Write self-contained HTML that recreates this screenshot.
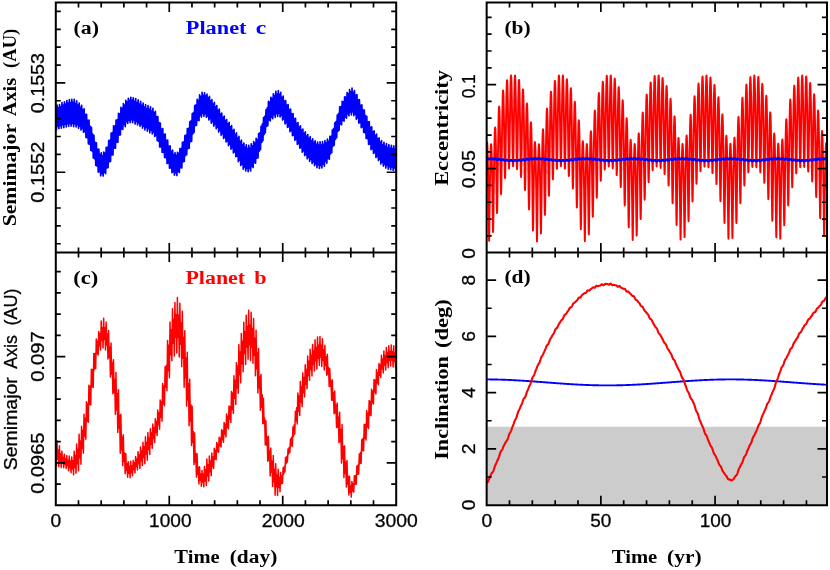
<!DOCTYPE html>
<html><head><meta charset="utf-8"><title>Orbital evolution</title>
<style>html,body{margin:0;padding:0;background:#fff;}svg{display:block;}</style>
</head><body>
<svg width="830" height="570" viewBox="0 0 830 570">
<rect width="830" height="570" fill="#fff"/>
<rect x="486.65" y="426.75" width="340.35" height="78.4" fill="#cccccc"/>
<defs>
<clipPath id="ca"><rect x="55.8" y="2.6" width="340.4" height="250"/></clipPath>
<clipPath id="cc"><rect x="55.8" y="252.6" width="340.4" height="252.55"/></clipPath>
<clipPath id="cb"><rect x="486.65" y="2.6" width="340.35" height="250"/></clipPath>
<clipPath id="cd"><rect x="486.65" y="252.6" width="340.35" height="252.55"/></clipPath>
</defs>
<path clip-path="url(#ca)" d="M54.6,106.02 L55.21,126.89 L55.83,108.98 L56.44,129.44 L57.06,105.13 L57.67,126.47 L58.29,107.93 L58.9,128.62 L59.52,104.51 L60.13,125.53 L60.75,106.76 L61.36,128.16 L61.97,102.71 L62.59,124.7 L63.2,105.11 L63.82,127.62 L64.43,101.86 L65.05,124.16 L65.66,104.17 L66.28,126.91 L66.89,100.51 L67.5,123.67 L68.12,103.13 L68.73,126.28 L69.35,99.5 L69.96,123.36 L70.58,102.68 L71.19,126.13 L71.81,99.34 L72.42,123.4 L73.04,102.35 L73.65,126.69 L74.26,99.44 L74.88,123.85 L75.49,103.61 L76.11,126.98 L76.72,100.96 L77.34,124.75 L77.95,105.21 L78.57,128.35 L79.18,103.08 L79.79,126.23 L80.41,107.35 L81.02,130.05 L81.64,105.39 L82.25,128.34 L82.87,109.63 L83.48,132.34 L84.1,108.82 L84.71,131.77 L85.33,114.43 L85.94,137.46 L86.55,114.26 L87.17,137.64 L87.78,120.41 L88.4,143.92 L89.01,120.22 L89.63,144.08 L90.24,126.42 L90.86,150.42 L91.47,127.26 L92.08,151.08 L92.7,134.18 L93.31,157.93 L93.93,135.33 L94.54,158.83 L95.16,142.43 L95.77,165.42 L96.39,142.73 L97,166.05 L97.62,149.31 L98.23,172.25 L98.84,149.21 L99.46,171.64 L100.07,154.3 L100.69,175.82 L101.3,152.97 L101.92,173.72 L102.53,155.81 L103.15,176.08 L103.76,152.07 L104.37,172.29 L104.99,153.07 L105.6,173.61 L106.22,147.3 L106.83,167.87 L107.45,147.23 L108.06,167.77 L108.68,140.52 L109.29,161.87 L109.91,140.09 L110.52,161.37 L111.13,133.01 L111.75,154.92 L112.36,132.63 L112.98,154.93 L113.59,125.89 L114.21,148.1 L114.82,126.08 L115.44,148.28 L116.05,120.19 L116.66,142.24 L117.28,119.86 L117.89,142.23 L118.51,113.36 L119.12,135.19 L119.74,113.92 L120.35,134.91 L120.97,107.37 L121.58,129 L122.2,108.28 L122.81,129.41 L123.42,103.51 L124.04,124.54 L124.65,105.08 L125.27,126.61 L125.88,100.27 L126.5,121.75 L127.11,102.18 L127.73,123.52 L128.34,98.28 L128.95,120.12 L129.57,100.33 L130.18,122.58 L130.8,97.32 L131.41,119.62 L132.03,100.05 L132.64,122.74 L133.26,97.89 L133.87,119.86 L134.49,101.31 L135.1,124.03 L135.71,98.57 L136.33,121.46 L136.94,102.52 L137.56,124.86 L138.17,99.9 L138.79,123.02 L139.4,104.01 L140.02,126.34 L140.63,101.43 L141.24,124.36 L141.86,105.46 L142.47,128.12 L143.09,103.22 L143.7,126.35 L144.32,107.06 L144.93,129.87 L145.55,104.65 L146.16,127.4 L146.78,108.6 L147.39,131.24 L148,105.69 L148.62,128.64 L149.23,109.38 L149.85,132.8 L150.46,106.74 L151.08,130.11 L151.69,111.06 L152.31,133.92 L152.92,108.33 L153.53,132.27 L154.15,112.6 L154.76,136.43 L155.38,111.39 L155.99,135.52 L156.61,116.51 L157.22,140.71 L157.84,116.72 L158.45,141.04 L159.07,122.58 L159.68,146.88 L160.29,123.13 L160.91,146.95 L161.52,129.11 L162.14,152.52 L162.75,128.6 L163.37,152.25 L163.98,134.33 L164.6,157.6 L165.21,134 L165.82,157.68 L166.44,140.37 L167.05,163.58 L167.67,140.2 L168.28,163.26 L168.9,146.4 L169.51,168.22 L170.13,145.82 L170.74,167.94 L171.36,151.22 L171.97,172.65 L172.58,150.06 L173.2,171.68 L173.81,154.48 L174.43,175.22 L175.04,152.71 L175.66,172.94 L176.27,155.35 L176.89,175.59 L177.5,152.31 L178.11,171.55 L178.73,153.25 L179.34,172.56 L179.96,148.51 L180.57,167.74 L181.19,148.43 L181.8,167.98 L182.42,142.38 L183.03,161.94 L183.65,141.92 L184.26,161.42 L184.87,135.68 L185.49,155.53 L186.1,135.08 L186.72,154.76 L187.33,128.58 L187.95,148.69 L188.56,128.36 L189.18,148.24 L189.79,121.74 L190.4,141.83 L191.02,120.77 L191.63,141.28 L192.25,113.62 L192.86,133.93 L193.48,112.58 L194.09,132.36 L194.71,105.55 L195.32,125.77 L195.94,104.97 L196.55,125.29 L197.16,99.45 L197.78,120.23 L198.39,100.24 L199.01,120.64 L199.62,94.81 L200.24,115.51 L200.85,96.55 L201.47,117.07 L202.08,92.33 L202.69,113.35 L203.31,95.3 L203.92,116.23 L204.54,92.84 L205.15,113.78 L205.77,95.9 L206.38,117.31 L207,94.19 L207.61,116.08 L208.23,97.82 L208.84,119.97 L209.45,96.33 L210.07,118.57 L210.68,100.86 L211.3,123.15 L211.91,99.68 L212.53,121.68 L213.14,104.12 L213.76,126.14 L214.37,102.32 L214.98,124.33 L215.6,106.74 L216.21,128.64 L216.83,105.52 L217.44,127.17 L218.06,110.43 L218.67,132.06 L219.29,109.22 L219.9,130.51 L220.52,114.15 L221.13,135.34 L221.74,113.05 L222.36,133.76 L222.97,117.24 L223.59,138.42 L224.2,116.06 L224.82,137.43 L225.43,120.63 L226.05,141.94 L226.66,119.57 L227.27,141.15 L227.89,123.74 L228.5,145.73 L229.12,122.26 L229.73,144.25 L230.35,126.74 L230.96,149.24 L231.58,125.65 L232.19,147.92 L232.81,130.51 L233.42,152.98 L234.03,129.43 L234.65,151.94 L235.26,134.29 L235.88,156.75 L236.49,132.95 L237.11,156.24 L237.72,137.91 L238.34,161.68 L238.95,136.47 L239.56,160.21 L240.18,141.67 L240.79,165.6 L241.41,140.18 L242.02,164.22 L242.64,144.92 L243.25,169.23 L243.87,143.1 L244.48,167.08 L245.1,147.17 L245.71,170.94 L246.32,144.86 L246.94,168.45 L247.55,148.64 L248.17,171.75 L248.78,145.44 L249.4,168.45 L250.01,148 L250.63,170.97 L251.24,143.82 L251.85,166.37 L252.47,145.88 L253.08,167.59 L253.7,141.57 L254.31,162.65 L254.93,143.11 L255.54,163.11 L256.16,138.36 L256.77,158.27 L257.39,139.78 L258,158.01 L258.61,133.67 L259.23,151.18 L259.84,132.92 L260.46,149.63 L261.07,126.29 L261.69,142.4 L262.3,124.16 L262.92,140.61 L263.53,117.72 L264.14,134.37 L264.76,116.32 L265.37,132.77 L265.99,109.74 L266.6,126.3 L267.22,107.96 L267.83,125.74 L268.45,101.4 L269.06,119.86 L269.68,101.98 L270.29,120.87 L270.9,97.37 L271.52,117.16 L272.13,98.26 L272.75,118.76 L273.36,93.87 L273.98,114.53 L274.59,95.54 L275.21,117.35 L275.82,91.23 L276.43,113.44 L277.05,94.06 L277.66,116.49 L278.28,90.72 L278.89,113.31 L279.51,94.38 L280.12,116.91 L280.74,92.43 L281.35,115.2 L281.97,97.25 L282.58,120.03 L283.19,96.21 L283.81,118.86 L284.42,101.03 L285.04,123.88 L285.65,100.51 L286.27,122.65 L286.88,105.21 L287.5,127.39 L288.11,104.67 L288.72,126.69 L289.34,109.69 L289.95,131.64 L290.57,109.02 L291.18,130.63 L291.8,113.81 L292.41,135.68 L293.03,113.53 L293.64,135.15 L294.26,118.6 L294.87,140.34 L295.48,118.35 L296.1,139.38 L296.71,123.28 L297.33,144.39 L297.94,122.52 L298.56,143.56 L299.17,127.05 L299.79,148.22 L300.4,125.81 L301.01,147.42 L301.63,130.19 L302.24,152.21 L302.86,129.13 L303.47,150.98 L304.09,133.28 L304.7,155.55 L305.32,131.82 L305.93,154.62 L306.55,136.04 L307.16,158.84 L307.77,134.63 L308.39,157.2 L309,138.45 L309.62,161.36 L310.23,136.67 L310.85,159.47 L311.46,140.89 L312.08,163.6 L312.69,138.86 L313.3,161.92 L313.92,142.37 L314.53,165.72 L315.15,140.75 L315.76,163.93 L316.38,144.33 L316.99,167.68 L317.61,141.99 L318.22,164.83 L318.84,145.02 L319.45,168.52 L320.06,141.77 L320.68,165.45 L321.29,145.16 L321.91,167.91 L322.52,141.71 L323.14,163.89 L323.75,144.35 L324.37,166.12 L324.98,140.67 L325.59,161.3 L326.21,142.83 L326.82,163.12 L327.44,139.12 L328.05,158.5 L328.67,141.38 L329.28,159.34 L329.9,136.4 L330.51,153.87 L331.13,136.27 L331.74,152.72 L332.35,130 L332.97,146.33 L333.58,128.69 L334.2,145.26 L334.81,122.96 L335.43,139.4 L336.04,121.61 L336.66,137.63 L337.27,115.22 L337.88,131.52 L338.5,113.58 L339.11,130.23 L339.73,106.89 L340.34,124.06 L340.96,106.52 L341.57,124.79 L342.19,101.41 L342.8,120.31 L343.42,101.81 L344.03,121.24 L344.64,96.84 L345.26,116.89 L345.87,97.17 L346.49,118.25 L347.1,92.58 L347.72,113.87 L348.33,93.81 L348.95,115.78 L349.56,89.49 L350.17,112.12 L350.79,91.97 L351.4,114.94 L352.02,88.19 L352.63,111.8 L353.25,92.33 L353.86,115.67 L354.48,90.7 L355.09,114.08 L355.71,95.13 L356.32,119.29 L356.93,94.57 L357.55,117.94 L358.16,99.91 L358.78,123.19 L359.39,99.71 L360.01,122.52 L360.62,105.37 L361.24,127.69 L361.85,104.89 L362.46,126.91 L363.08,109.87 L363.69,132.46 L364.31,110.22 L364.92,132.61 L365.54,115.72 L366.15,138.45 L366.77,116.42 L367.38,138.77 L368,122.19 L368.61,144.51 L369.22,121.58 L369.84,144.08 L370.45,127.3 L371.07,149.73 L371.68,126.89 L372.3,148.63 L372.91,131.76 L373.53,153.37 L374.14,130.89 L374.75,152.54 L375.37,135.27 L375.98,157.53 L376.6,134.2 L377.21,156.39 L377.83,138.86 L378.44,160.6 L379.06,137.76 L379.67,159.29 L380.29,142.16 L380.9,164.07 L381.51,140.65 L382.13,162.1 L382.74,144.75 L383.36,166.07 L383.97,142.38 L384.59,164.4 L385.2,146.1 L385.82,168.08 L386.43,143.72 L387.04,165.34 L387.66,147.35 L388.27,169.11 L388.89,144.69 L389.5,166.64 L390.12,148.18 L390.73,169.67 L391.35,145.24 L391.96,167.23 L392.58,148.58 L393.19,170.43 L393.8,145.82 L394.42,167.98 L395.03,149.23 L395.65,170.89 L396.26,146.68 L396.88,168.23 L397.49,149.49 L398.11,171.46" fill="none" stroke="#0000ff" stroke-width="1.7" stroke-linejoin="round"/>
<path clip-path="url(#cc)" d="M54.5,438.31 L55.11,458 L55.73,446.52 L56.34,465.9 L56.96,440.57 L57.57,459.06 L58.19,449.89 L58.8,466.68 L59.42,445.83 L60.03,461.29 L60.64,453.83 L61.26,467.46 L61.87,451.13 L62.49,463.13 L63.1,457.38 L63.72,467.82 L64.33,454.3 L64.95,464.21 L65.56,459.07 L66.18,468.53 L66.79,455.54 L67.4,465.81 L68.02,460.22 L68.63,470.8 L69.25,456.07 L69.86,467.52 L70.48,461.32 L71.09,472.82 L71.71,456.88 L72.32,469.05 L72.93,460.81 L73.55,474.67 L74.16,451.31 L74.78,467.51 L75.39,455.75 L76.01,473.32 L76.62,444 L77.24,463.75 L77.85,449.29 L78.47,470.72 L79.08,434.21 L79.69,457.72 L80.31,440.88 L80.92,464.32 L81.54,426.32 L82.15,448.49 L82.77,430.27 L83.38,453.25 L84,414.24 L84.61,436.33 L85.22,418.32 L85.84,439.21 L86.45,401.81 L87.07,421.26 L87.68,403.54 L88.3,422.28 L88.91,385.34 L89.53,404.21 L90.14,386.28 L90.76,404.94 L91.37,369.13 L91.98,386.87 L92.6,369.43 L93.21,387.44 L93.83,353.46 L94.44,369.49 L95.06,353.51 L95.67,368.36 L96.29,339 L96.9,353.64 L97.51,341.22 L98.13,354.97 L98.74,331.45 L99.36,345.71 L99.97,333.58 L100.59,349.94 L101.2,320.91 L101.82,340.53 L102.43,327.79 L103.05,348.09 L103.66,318.18 L104.27,339.4 L104.89,327.79 L105.5,350 L106.12,322.11 L106.73,344.96 L107.35,334.1 L107.96,359.01 L108.58,330.43 L109.19,357.5 L109.8,346.95 L110.42,376.97 L111.03,343.04 L111.65,373.96 L112.26,362.43 L112.88,393.77 L113.49,359.82 L114.11,392.46 L114.72,379.48 L115.34,414.23 L115.95,372.38 L116.56,409.99 L117.18,393.53 L117.79,432.51 L118.41,389.85 L119.02,428.35 L119.64,415.58 L120.25,453.32 L120.87,414.25 L121.48,449.78 L122.09,437.02 L122.71,465.5 L123.32,434.66 L123.94,461.45 L124.55,453.04 L125.17,473.81 L125.78,453.63 L126.4,470.41 L127.01,463.64 L127.63,477.25 L128.24,461.64 L128.85,473.29 L129.47,466.56 L130.08,477.67 L130.7,461.22 L131.31,472.54 L131.93,465.68 L132.54,475.79 L133.16,460.42 L133.77,469.55 L134.38,462.59 L135,472.85 L135.61,456.38 L136.23,466.48 L136.84,458.89 L137.46,469.89 L138.07,451.64 L138.69,463.73 L139.3,454.86 L139.92,468.37 L140.53,446.88 L141.14,460.69 L141.76,451.01 L142.37,465.54 L142.99,442.37 L143.6,457.6 L144.22,446.67 L144.83,463.79 L145.45,436.75 L146.06,453.97 L146.67,442.42 L147.29,460.17 L147.9,432.52 L148.52,449.44 L149.13,437.99 L149.75,454.44 L150.36,428.85 L150.98,444.29 L151.59,432.69 L152.21,448.35 L152.82,423.95 L153.43,438.42 L154.05,427.63 L154.66,442.61 L155.28,418.74 L155.89,432.46 L156.51,421.45 L157.12,435.4 L157.74,410.11 L158.35,424.68 L158.96,412.71 L159.58,429.19 L160.19,400.04 L160.81,417.3 L161.42,401.65 L162.04,421.13 L162.65,383.55 L163.27,403.89 L163.88,386.03 L164.5,405.64 L165.11,366.87 L165.72,387.16 L166.34,365.48 L166.95,390.77 L167.57,340.39 L168.18,370.82 L168.8,345.29 L169.41,377.65 L170.03,322.08 L170.64,354.87 L171.25,329.84 L171.87,360.72 L172.48,308.87 L173.1,343.25 L173.71,319.23 L174.33,355.98 L174.94,302.6 L175.56,337.19 L176.17,314.66 L176.79,352.89 L177.4,297.52 L178.01,337.58 L178.63,315.28 L179.24,356.89 L179.86,303.16 L180.47,344.27 L181.09,323.02 L181.7,366.54 L182.32,311.15 L182.93,358.27 L183.54,337.52 L184.16,387.28 L184.77,330.69 L185.39,377.79 L186,357.84 L186.62,405.92 L187.23,352.19 L187.85,400.03 L188.46,383.71 L189.08,425.71 L189.69,379.37 L190.3,420.91 L190.92,404.84 L191.53,445.61 L192.15,406.17 L192.76,442.61 L193.38,431.78 L193.99,464.62 L194.61,432.96 L195.22,462.51 L195.83,453.41 L196.45,477.12 L197.06,453.75 L197.68,474.15 L198.29,467.34 L198.91,483.91 L199.52,466.86 L200.14,480.34 L200.75,473.93 L201.37,486.27 L201.98,470.45 L202.59,481.88 L203.21,474.29 L203.82,486.84 L204.44,466.56 L205.05,480.88 L205.67,469.73 L206.28,485.57 L206.9,459.02 L207.51,475.95 L208.12,464.69 L208.74,481.12 L209.35,455.98 L209.97,471.65 L210.58,460.9 L211.2,475.63 L211.81,453.05 L212.43,466.4 L213.04,456.71 L213.66,468.43 L214.27,448.14 L214.88,459.07 L215.5,450.19 L216.11,459.75 L216.73,442.51 L217.34,451.51 L217.96,443.9 L218.57,452.29 L219.19,437.19 L219.8,445.48 L220.41,438.21 L221.03,446.92 L221.64,429.86 L222.26,439.69 L222.87,430.79 L223.49,442.34 L224.1,422.45 L224.72,433.98 L225.33,424.15 L225.95,436.87 L226.56,413.92 L227.17,427.13 L227.79,416.15 L228.4,428.94 L229.02,406.12 L229.63,419.26 L230.25,406.7 L230.86,422.54 L231.48,391.44 L232.09,409.4 L232.7,392.88 L233.32,413.47 L233.93,375.76 L234.55,398.17 L235.16,380.31 L235.78,404.39 L236.39,362.8 L237.01,388.1 L237.62,365.98 L238.24,393.31 L238.85,344.4 L239.46,374.87 L240.08,351.91 L240.69,382.81 L241.31,333.62 L241.92,363.71 L242.54,341.31 L243.15,371.82 L243.77,322.21 L244.38,353.56 L244.99,331.4 L245.61,364.52 L246.22,315.35 L246.84,346.9 L247.45,326.46 L248.07,359.36 L248.68,310.19 L249.3,344.66 L249.91,325.24 L250.53,360.44 L251.14,312.3 L251.75,347.1 L252.37,328.43 L252.98,363.2 L253.6,318.6 L254.21,355.25 L254.83,338.18 L255.44,375.69 L256.06,330.31 L256.67,368.87 L257.28,352.75 L257.9,392.89 L258.51,348.4 L259.13,388.04 L259.74,376.68 L260.36,410.19 L260.97,374.43 L261.59,407.37 L262.2,394.84 L262.82,423.67 L263.43,398.17 L264.04,423.37 L264.66,418.24 L265.27,444.87 L265.89,420.85 L266.5,445.15 L267.12,436.97 L267.73,461.34 L268.35,436.18 L268.96,460.07 L269.57,451.04 L270.19,475.91 L270.8,447.92 L271.42,472.11 L272.03,461.2 L272.65,486.39 L273.26,455.44 L273.88,481.71 L274.49,469.23 L275.11,495.2 L275.72,463.63 L276.33,486.81 L276.95,475.03 L277.56,495.58 L278.18,469.21 L278.79,487.24 L279.41,477.45 L280.02,491.76 L280.64,472.41 L281.25,483.73 L281.86,475.69 L282.48,483.25 L283.09,467.64 L283.71,473.94 L284.32,466.42 L284.94,472.04 L285.55,457.44 L286.17,463.76 L286.78,456.44 L287.4,461.94 L288.01,449.04 L288.62,454.05 L289.24,447.21 L289.85,452.44 L290.47,439.1 L291.08,445.47 L291.7,437.27 L292.31,446.28 L292.93,426.98 L293.54,436.28 L294.15,424.92 L294.77,434.1 L295.38,411.31 L296,421.09 L296.61,407.85 L297.23,423.89 L297.84,393.12 L298.46,411.14 L299.07,396.08 L299.69,415.46 L300.3,381.52 L300.91,402.23 L301.53,386.85 L302.14,406.64 L302.76,372.92 L303.37,392.83 L303.99,377.54 L304.6,396.98 L305.22,364.8 L305.83,384.21 L306.44,369.39 L307.06,388.72 L307.67,356.04 L308.29,375.38 L308.9,361.19 L309.52,380.17 L310.13,349.21 L310.75,369.39 L311.36,355.19 L311.98,376.06 L312.59,344.38 L313.2,364.42 L313.82,350.95 L314.43,371.08 L315.05,339.84 L315.66,360.75 L316.28,347.38 L316.89,368.89 L317.51,336.99 L318.12,358.28 L318.73,345.21 L319.35,365.58 L319.96,336.53 L320.58,357.01 L321.19,345.36 L321.81,366.42 L322.42,338.81 L323.04,360.18 L323.65,349.84 L324.27,370.04 L324.88,345.36 L325.49,365.17 L326.11,356.78 L326.72,375.22 L327.34,354.32 L327.95,374.08 L328.57,367.4 L329.18,386.55 L329.8,368.74 L330.41,386.44 L331.02,381.04 L331.64,400.18 L332.25,379.81 L332.87,400.21 L333.48,392.85 L334.1,413.78 L334.71,390.98 L335.33,412.84 L335.94,405.06 L336.56,427.53 L337.17,403.11 L337.78,426.89 L338.4,417.14 L339.01,442.82 L339.63,412.17 L340.24,441.83 L340.86,429.42 L341.47,462.89 L342.09,424.38 L342.7,458.85 L343.31,446.62 L343.93,477.61 L344.54,446.11 L345.16,473.51 L345.77,462.35 L346.39,486.93 L347,460.48 L347.62,483.93 L348.23,476.47 L348.85,494.98 L349.46,476.31 L350.07,492.24 L350.69,486.04 L351.3,497.1 L351.92,481.39 L352.53,490.99 L353.15,483.64 L353.76,492.09 L354.38,475.86 L354.99,484.2 L355.6,475.41 L356.22,484.15 L356.83,465.96 L357.45,474.08 L358.06,465.08 L358.68,474.15 L359.29,453.97 L359.91,463.8 L360.52,452.41 L361.14,463.14 L361.75,439.8 L362.36,450.76 L362.98,438.31 L363.59,450.74 L364.21,424.24 L364.82,438.43 L365.44,424.5 L366.05,439.98 L366.67,410.44 L367.28,426.95 L367.89,412.94 L368.51,428.59 L369.12,400.48 L369.74,414.9 L370.35,401.56 L370.97,415.78 L371.58,389.34 L372.2,402.74 L372.81,390.9 L373.43,403.95 L374.04,379.51 L374.65,391.98 L375.27,380.32 L375.88,393.94 L376.5,369.59 L377.11,383 L377.73,372.8 L378.34,384.66 L378.96,363.59 L379.57,375.34 L380.18,364.98 L380.8,377.41 L381.41,355.31 L382.03,369.1 L382.64,359.06 L383.26,373.05 L383.87,350.9 L384.49,365.21 L385.1,355.63 L385.72,369.91 L386.33,347.58 L386.94,362.53 L387.56,352.53 L388.17,367.68 L388.79,345.8 L389.4,360.44 L390.02,351.41 L390.63,366.04 L391.25,344.9 L391.86,360.08 L392.47,351.76 L393.09,367.09 L393.7,345.75 L394.32,361.57 L394.93,352.9 L395.55,368.09 L396.16,346.94 L396.78,362.31 L397.39,353.08 L398.01,368.08 L398.62,347.47" fill="none" stroke="#ff0000" stroke-width="1.5" stroke-linejoin="round"/>
<path clip-path="url(#cb)" d="M486.65,148.9 L486.75,146.37 L486.85,144.45 L486.95,143.16 L487.05,142.53 L487.15,142.58 L487.25,143.29 L487.35,144.66 L487.45,146.7 L487.55,149.38 L487.65,152.68 L487.75,156.59 L487.85,161.08 L487.95,166.11 L488.05,171.67 L488.15,177.7 L488.25,184.17 L488.35,191.02 L488.45,198.22 L488.55,205.68 L488.65,213.34 L488.75,221.08 L488.85,228.7 L488.95,235.74 L489.05,240.78 L489.15,240.75 L489.25,235.68 L489.35,228.66 L489.45,221.08 L489.55,213.39 L489.65,205.8 L489.75,198.42 L489.85,191.32 L489.95,184.56 L490.05,178.2 L490.15,172.28 L490.25,166.84 L490.35,161.92 L490.45,157.55 L490.55,153.76 L490.65,150.57 L490.75,148 L490.85,146.07 L490.95,144.79 L491.05,144.13 L491.15,144.1 L491.25,144.7 L491.35,145.92 L491.45,147.76 L491.55,150.21 L491.65,153.26 L491.75,156.89 L491.85,161.08 L491.95,165.81 L492.05,171.04 L492.15,176.74 L492.25,182.87 L492.35,189.38 L492.45,196.19 L492.55,203.22 L492.65,210.33 L492.75,217.33 L492.85,223.83 L492.95,229.14 L493.05,232.01 L493.15,231.26 L493.25,227.16 L493.35,220.98 L493.45,213.76 L493.55,206.08 L493.65,198.24 L493.75,190.43 L493.85,182.78 L493.95,175.39 L494.05,168.33 L494.15,161.68 L494.25,155.48 L494.35,149.8 L494.45,144.68 L494.55,140.16 L494.65,136.28 L494.75,133.07 L494.85,130.56 L494.95,128.78 L495.05,127.71 L495.15,127.37 L495.25,127.75 L495.35,128.85 L495.45,130.68 L495.55,133.2 L495.65,136.42 L495.75,140.3 L495.85,144.82 L495.95,149.92 L496.05,155.57 L496.15,161.7 L496.25,168.25 L496.35,175.11 L496.45,182.16 L496.55,189.23 L496.65,196.11 L496.75,202.45 L496.85,207.81 L496.95,211.56 L497.05,213.1 L497.15,212.05 L497.25,208.57 L497.35,203.19 L497.45,196.52 L497.55,189.07 L497.65,181.2 L497.75,173.18 L497.85,165.2 L497.95,157.4 L498.05,149.9 L498.15,142.8 L498.25,136.18 L498.35,130.1 L498.45,124.62 L498.55,119.8 L498.65,115.68 L498.75,112.29 L498.85,109.67 L498.95,107.83 L499.05,106.79 L499.15,106.55 L499.25,107.11 L499.35,108.47 L499.45,110.62 L499.55,113.53 L499.65,117.18 L499.75,121.53 L499.85,126.54 L499.95,132.15 L500.05,138.29 L500.15,144.88 L500.25,151.8 L500.35,158.94 L500.45,166.13 L500.55,173.16 L500.65,179.75 L500.75,185.57 L500.85,190.2 L500.95,193.2 L501.05,194.21 L501.15,193.06 L501.25,189.86 L501.35,184.95 L501.45,178.74 L501.55,171.65 L501.65,164.03 L501.75,156.14 L501.85,148.2 L501.95,140.4 L502.05,132.87 L502.15,125.73 L502.25,119.07 L502.35,112.96 L502.45,107.49 L502.55,102.7 L502.65,98.65 L502.75,95.36 L502.85,92.87 L502.95,91.21 L503.05,90.38 L503.15,90.38 L503.25,91.22 L503.35,92.88 L503.45,95.34 L503.55,98.58 L503.65,102.56 L503.75,107.23 L503.85,112.54 L503.95,118.42 L504.05,124.78 L504.15,131.51 L504.25,138.51 L504.35,145.62 L504.45,152.65 L504.55,159.39 L504.65,165.56 L504.75,170.86 L504.85,174.93 L504.95,177.46 L505.05,178.21 L505.15,177.08 L505.25,174.16 L505.35,169.69 L505.45,163.99 L505.55,157.4 L505.65,150.22 L505.75,142.73 L505.85,135.14 L505.95,127.63 L506.05,120.36 L506.15,113.45 L506.25,107.01 L506.35,101.12 L506.45,95.86 L506.55,91.29 L506.65,87.45 L506.75,84.39 L506.85,82.13 L506.95,80.71 L507.05,80.12 L507.15,80.37 L507.25,81.45 L507.35,83.35 L507.45,86.04 L507.55,89.5 L507.65,93.69 L507.75,98.54 L507.85,104.01 L507.95,110.01 L508.05,116.46 L508.15,123.24 L508.25,130.23 L508.35,137.27 L508.45,144.17 L508.55,150.72 L508.65,156.65 L508.75,161.68 L508.85,165.51 L508.95,167.87 L509.05,168.56 L509.15,167.52 L509.25,164.81 L509.35,160.63 L509.45,155.27 L509.55,149.03 L509.65,142.19 L509.75,135 L509.85,127.69 L509.95,120.44 L510.05,113.41 L510.15,106.72 L510.25,100.49 L510.35,94.81 L510.45,89.76 L510.55,85.4 L510.65,81.78 L510.75,78.94 L510.85,76.92 L510.95,75.74 L511.05,75.4 L511.15,75.91 L511.25,77.26 L511.35,79.42 L511.45,82.38 L511.55,86.11 L511.65,90.55 L511.75,95.65 L511.85,101.35 L511.95,107.57 L512.05,114.22 L512.15,121.17 L512.25,128.29 L512.35,135.43 L512.45,142.4 L512.55,148.96 L512.65,154.86 L512.75,159.82 L512.85,163.55 L512.95,165.8 L513.05,166.38 L513.15,165.25 L513.25,162.51 L513.35,158.36 L513.45,153.07 L513.55,146.93 L513.65,140.22 L513.75,133.18 L513.85,126.03 L513.95,118.94 L514.05,112.07 L514.15,105.56 L514.25,99.49 L514.35,93.97 L514.45,89.07 L514.55,84.85 L514.65,81.36 L514.75,78.65 L514.85,76.74 L514.95,75.66 L515.05,75.42 L515.15,76.03 L515.25,77.48 L515.35,79.77 L515.45,82.87 L515.55,86.74 L515.65,91.34 L515.75,96.62 L515.85,102.51 L515.95,108.92 L516.05,115.77 L516.15,122.92 L516.25,130.26 L516.35,137.61 L516.45,144.78 L516.55,151.53 L516.65,157.59 L516.75,162.67 L516.85,166.47 L516.95,168.71 L517.05,169.23 L517.15,167.98 L517.25,165.09 L517.35,160.78 L517.45,155.36 L517.55,149.12 L517.65,142.34 L517.75,135.29 L517.85,128.17 L517.95,121.16 L518.05,114.4 L518.15,108.02 L518.25,102.13 L518.35,96.8 L518.45,92.11 L518.55,88.11 L518.65,84.87 L518.75,82.4 L518.85,80.74 L518.95,79.91 L519.05,79.92 L519.15,80.76 L519.25,82.45 L519.35,84.96 L519.45,88.27 L519.55,92.34 L519.65,97.14 L519.75,102.6 L519.85,108.66 L519.95,115.24 L520.05,122.25 L520.15,129.58 L520.25,137.09 L520.35,144.61 L520.45,151.97 L520.55,158.91 L520.65,165.17 L520.75,170.42 L520.85,174.33 L520.95,176.62 L521.05,177.09 L521.15,175.72 L521.25,172.65 L521.35,168.15 L521.45,162.56 L521.55,156.2 L521.65,149.37 L521.75,142.32 L521.85,135.26 L521.95,128.35 L522.05,121.74 L522.15,115.54 L522.25,109.85 L522.35,104.75 L522.45,100.29 L522.55,96.55 L522.65,93.55 L522.75,91.33 L522.85,89.92 L522.95,89.33 L523.05,89.56 L523.15,90.62 L523.25,92.5 L523.35,95.19 L523.45,98.66 L523.55,102.88 L523.65,107.8 L523.75,113.38 L523.85,119.56 L523.95,126.25 L524.05,133.38 L524.15,140.85 L524.25,148.52 L524.35,156.24 L524.45,163.83 L524.55,171.05 L524.65,177.62 L524.75,183.17 L524.85,187.33 L524.95,189.73 L525.05,190.15 L525.15,188.55 L525.25,185.14 L525.35,180.3 L525.45,174.4 L525.55,167.82 L525.65,160.87 L525.75,153.78 L525.85,146.77 L525.95,139.99 L526.05,133.55 L526.15,127.57 L526.25,122.13 L526.35,117.29 L526.45,113.11 L526.55,109.64 L526.65,106.91 L526.75,104.95 L526.85,103.78 L526.95,103.42 L527.05,103.86 L527.15,105.11 L527.25,107.16 L527.35,109.99 L527.45,113.58 L527.55,117.91 L527.65,122.93 L527.75,128.6 L527.85,134.86 L527.95,141.65 L528.05,148.91 L528.15,156.53 L528.25,164.43 L528.35,172.46 L528.45,180.47 L528.55,188.23 L528.65,195.44 L528.75,201.7 L528.85,206.48 L528.95,209.2 L529.05,209.46 L529.15,207.25 L529.25,203 L529.35,197.32 L529.45,190.75 L529.55,183.71 L529.65,176.5 L529.75,169.34 L529.85,162.39 L529.95,155.78 L530.05,149.61 L530.15,143.94 L530.25,138.83 L530.35,134.35 L530.45,130.53 L530.55,127.41 L530.65,125 L530.75,123.33 L530.85,122.41 L530.95,122.25 L531.05,122.85 L531.15,124.2 L531.25,126.31 L531.35,129.16 L531.45,132.73 L531.55,136.99 L531.65,141.91 L531.75,147.44 L531.85,153.54 L531.95,160.15 L532.05,167.22 L532.15,174.68 L532.25,182.46 L532.35,190.46 L532.45,198.57 L532.55,206.65 L532.65,214.47 L532.75,221.62 L532.85,227.4 L532.95,230.63 L533.05,230.19 L533.15,226.38 L533.25,220.52 L533.35,213.7 L533.45,206.51 L533.55,199.27 L533.65,192.17 L533.75,185.33 L533.85,178.84 L533.95,172.76 L534.05,167.14 L534.15,162.01 L534.25,157.43 L534.35,153.41 L534.45,149.97 L534.55,147.14 L534.65,144.92 L534.75,143.33 L534.85,142.38 L534.95,142.06 L535.05,142.38 L535.15,143.34 L535.25,144.93 L535.35,147.18 L535.45,150.07 L535.55,153.58 L535.65,157.69 L535.75,162.37 L535.85,167.58 L535.95,173.31 L536.05,179.49 L536.15,186.11 L536.25,193.09 L536.35,200.39 L536.45,207.94 L536.55,215.66 L536.65,223.41 L536.75,230.94 L536.85,237.61 L536.95,241.44 L537.05,239.55 L537.15,233.6 L537.25,226.31 L537.35,218.65 L537.45,210.97 L537.55,203.42 L537.65,196.11 L537.75,189.1 L537.85,182.46 L537.95,176.23 L538.05,170.45 L538.15,165.18 L538.25,160.43 L538.35,156.24 L538.45,152.64 L538.55,149.65 L538.65,147.29 L538.75,145.57 L538.85,144.51 L538.95,144.1 L539.05,144.35 L539.15,145.26 L539.25,146.81 L539.35,148.97 L539.45,151.73 L539.55,155.07 L539.65,158.96 L539.75,163.4 L539.85,168.35 L539.95,173.78 L540.05,179.65 L540.15,185.92 L540.25,192.53 L540.35,199.42 L540.45,206.49 L540.55,213.6 L540.65,220.51 L540.75,226.79 L540.85,231.56 L540.95,233.43 L541.05,231.48 L541.15,226.53 L541.25,219.93 L541.35,212.56 L541.45,204.86 L541.55,197.1 L541.65,189.42 L541.75,181.93 L541.85,174.72 L541.95,167.87 L542.05,161.42 L542.15,155.45 L542.25,149.98 L542.35,145.09 L542.45,140.79 L542.55,137.13 L542.65,134.13 L542.75,131.83 L542.85,130.24 L542.95,129.38 L543.05,129.26 L543.15,129.88 L543.25,131.23 L543.35,133.3 L543.45,136.05 L543.55,139.48 L543.65,143.56 L543.75,148.25 L543.85,153.52 L543.95,159.3 L544.05,165.55 L544.15,172.18 L544.25,179.1 L544.35,186.17 L544.45,193.21 L544.55,199.99 L544.65,206.12 L544.75,211.09 L544.85,214.25 L544.95,214.98 L545.05,213.07 L545.15,208.85 L545.25,202.94 L545.35,195.94 L545.45,188.32 L545.55,180.38 L545.65,172.38 L545.75,164.47 L545.85,156.79 L545.95,149.45 L546.05,142.53 L546.15,136.1 L546.25,130.23 L546.35,124.97 L546.45,120.38 L546.55,116.49 L546.65,113.33 L546.75,110.93 L546.85,109.32 L546.95,108.51 L547.05,108.51 L547.15,109.3 L547.25,110.9 L547.35,113.28 L547.45,116.41 L547.55,120.26 L547.65,124.8 L547.75,129.98 L547.85,135.74 L547.95,142.01 L548.05,148.7 L548.15,155.69 L548.25,162.86 L548.35,170.03 L548.45,176.96 L548.55,183.38 L548.65,188.9 L548.75,193.1 L548.85,195.52 L548.95,195.84 L549.05,193.99 L549.15,190.16 L549.25,184.73 L549.35,178.16 L549.45,170.82 L549.55,163.05 L549.65,155.11 L549.75,147.18 L549.85,139.44 L549.95,132.02 L550.05,125.01 L550.15,118.5 L550.25,112.59 L550.35,107.31 L550.45,102.74 L550.55,98.91 L550.65,95.86 L550.75,93.61 L550.85,92.18 L550.95,91.6 L551.05,91.85 L551.15,92.94 L551.25,94.85 L551.35,97.55 L551.45,101.02 L551.55,105.22 L551.65,110.1 L551.75,115.59 L551.85,121.62 L551.95,128.11 L552.05,134.95 L552.15,142 L552.25,149.11 L552.35,156.09 L552.45,162.69 L552.55,168.64 L552.65,173.59 L552.75,177.21 L552.85,179.19 L552.95,179.31 L553.05,177.56 L553.15,174.08 L553.25,169.14 L553.35,163.09 L553.45,156.24 L553.55,148.9 L553.65,141.33 L553.75,133.72 L553.85,126.24 L553.95,119.05 L554.05,112.26 L554.15,105.96 L554.25,100.24 L554.35,95.16 L554.45,90.79 L554.55,87.17 L554.65,84.34 L554.75,82.33 L554.85,81.14 L554.95,80.8 L555.05,81.3 L555.15,82.64 L555.25,84.8 L555.35,87.75 L555.45,91.45 L555.55,95.86 L555.65,100.92 L555.75,106.56 L555.85,112.72 L555.95,119.28 L556.05,126.13 L556.15,133.15 L556.25,140.15 L556.35,146.95 L556.45,153.31 L556.55,158.96 L556.65,163.6 L556.75,166.95 L556.85,168.75 L556.95,168.84 L557.05,167.21 L557.15,163.99 L557.25,159.4 L557.35,153.72 L557.45,147.26 L557.55,140.28 L557.65,133.03 L557.75,125.71 L557.85,118.51 L557.95,111.56 L558.05,105 L558.15,98.92 L558.25,93.41 L558.35,88.54 L558.45,84.39 L558.55,80.98 L558.65,78.37 L558.75,76.58 L558.85,75.63 L558.95,75.53 L559.05,76.28 L559.15,77.88 L559.25,80.29 L559.35,83.51 L559.45,87.47 L559.55,92.14 L559.65,97.45 L559.75,103.33 L559.85,109.7 L559.95,116.46 L560.05,123.49 L560.15,130.65 L560.25,137.76 L560.35,144.62 L560.45,151 L560.55,156.63 L560.65,161.22 L560.75,164.49 L560.85,166.2 L560.95,166.22 L561.05,164.55 L561.15,161.32 L561.25,156.76 L561.35,151.15 L561.45,144.79 L561.55,137.94 L561.65,130.84 L561.75,123.69 L561.85,116.66 L561.95,109.9 L562.05,103.52 L562.15,97.63 L562.25,92.3 L562.35,87.62 L562.45,83.63 L562.55,80.4 L562.65,77.94 L562.75,76.3 L562.85,75.49 L562.95,75.52 L563.05,76.39 L563.15,78.1 L563.25,80.62 L563.35,83.93 L563.45,88 L563.55,92.79 L563.65,98.24 L563.75,104.27 L563.85,110.8 L563.95,117.73 L564.05,124.94 L564.15,132.28 L564.25,139.57 L564.35,146.61 L564.45,153.16 L564.55,158.93 L564.65,163.63 L564.75,166.95 L564.85,168.65 L564.95,168.59 L565.05,166.8 L565.15,163.41 L565.25,158.7 L565.35,152.96 L565.45,146.5 L565.55,139.59 L565.65,132.48 L565.75,125.35 L565.85,118.39 L565.95,111.73 L566.05,105.48 L566.15,99.75 L566.25,94.61 L566.35,90.13 L566.45,86.37 L566.55,83.36 L566.65,81.15 L566.75,79.75 L566.85,79.19 L566.95,79.47 L567.05,80.59 L567.15,82.53 L567.25,85.29 L567.35,88.82 L567.45,93.11 L567.55,98.1 L567.65,103.74 L567.75,109.96 L567.85,116.67 L567.95,123.77 L568.05,131.15 L568.15,138.67 L568.25,146.14 L568.35,153.36 L568.45,160.09 L568.55,166.04 L568.65,170.87 L568.75,174.27 L568.85,175.98 L568.95,175.86 L569.05,173.92 L569.15,170.37 L569.25,165.49 L569.35,159.62 L569.45,153.08 L569.55,146.14 L569.65,139.05 L569.75,132.01 L569.85,125.17 L569.95,118.66 L570.05,112.6 L570.15,107.07 L570.25,102.16 L570.35,97.91 L570.45,94.39 L570.55,91.62 L570.65,89.65 L570.75,88.49 L570.85,88.16 L570.95,88.66 L571.05,89.98 L571.15,92.12 L571.25,95.05 L571.35,98.76 L571.45,103.19 L571.55,108.33 L571.65,114.09 L571.75,120.43 L571.85,127.27 L571.95,134.5 L572.05,142.03 L572.15,149.72 L572.25,157.39 L572.35,164.86 L572.45,171.86 L572.55,178.09 L572.65,183.19 L572.75,186.78 L572.85,188.53 L572.95,188.29 L573.05,186.1 L573.15,182.22 L573.25,177.02 L573.35,170.89 L573.45,164.17 L573.55,157.16 L573.65,150.08 L573.75,143.12 L573.85,136.42 L573.95,130.11 L574.05,124.27 L574.15,118.99 L574.25,114.34 L574.35,110.37 L574.45,107.11 L574.55,104.61 L574.65,102.89 L574.75,101.97 L574.85,101.85 L574.95,102.55 L575.05,104.05 L575.15,106.34 L575.25,109.41 L575.35,113.24 L575.45,117.78 L575.55,123.01 L575.65,128.87 L575.75,135.3 L575.85,142.25 L575.95,149.63 L576.05,157.35 L576.15,165.29 L576.25,173.31 L576.35,181.23 L576.45,188.8 L576.55,195.68 L576.65,201.45 L576.75,205.56 L576.85,207.49 L576.95,206.97 L577.05,204.13 L577.15,199.45 L577.25,193.49 L577.35,186.77 L577.45,179.66 L577.55,172.45 L577.65,165.33 L577.75,158.47 L577.85,151.96 L577.95,145.91 L578.05,140.39 L578.15,135.45 L578.25,131.15 L578.35,127.53 L578.45,124.62 L578.55,122.43 L578.65,121 L578.75,120.32 L578.85,120.41 L578.95,121.26 L579.05,122.87 L579.15,125.22 L579.25,128.3 L579.35,132.08 L579.45,136.53 L579.55,141.64 L579.65,147.36 L579.75,153.66 L579.85,160.46 L579.95,167.71 L580.05,175.33 L580.15,183.26 L580.25,191.37 L580.35,199.56 L580.45,207.62 L580.55,215.29 L580.65,222.08 L580.75,227.14 L580.85,229.28 L580.95,227.78 L581.05,223.31 L581.15,217.13 L581.25,210.15 L581.35,202.89 L581.45,195.62 L581.55,188.54 L581.65,181.76 L581.75,175.35 L581.85,169.38 L581.95,163.91 L582.05,158.96 L582.15,154.57 L582.25,150.78 L582.35,147.59 L582.45,145.03 L582.55,143.11 L582.65,141.83 L582.75,141.2 L582.85,141.22 L582.95,141.88 L583.05,143.18 L583.15,145.11 L583.25,147.66 L583.35,150.8 L583.45,154.52 L583.55,158.82 L583.65,163.68 L583.75,169.07 L583.85,174.96 L583.95,181.3 L584.05,188.04 L584.15,195.14 L584.25,202.54 L584.35,210.15 L584.45,217.9 L584.55,225.6 L584.65,232.94 L584.75,238.98 L584.85,241.2 L584.95,237.73 L585.05,231.24 L585.15,223.81 L585.25,216.13 L585.35,208.48 L585.45,201 L585.55,193.78 L585.65,186.88 L585.75,180.35 L585.85,174.26 L585.95,168.64 L586.05,163.52 L586.15,158.95 L586.25,154.95 L586.35,151.54 L586.45,148.76 L586.55,146.6 L586.65,145.1 L586.75,144.25 L586.85,144.07 L586.95,144.54 L587.05,145.67 L587.15,147.45 L587.25,149.87 L587.35,152.91 L587.45,156.54 L587.55,160.73 L587.65,165.43 L587.75,170.63 L587.85,176.27 L587.95,182.34 L588.05,188.77 L588.15,195.52 L588.25,202.51 L588.35,209.64 L588.45,216.75 L588.55,223.59 L588.65,229.61 L588.75,233.75 L588.85,234.45 L588.95,231.3 L589.05,225.61 L589.15,218.68 L589.25,211.21 L589.35,203.55 L589.45,195.89 L589.55,188.37 L589.65,181.08 L589.75,174.08 L589.85,167.45 L589.95,161.23 L590.05,155.5 L590.15,150.28 L590.25,145.62 L590.35,141.56 L590.45,138.14 L590.55,135.38 L590.65,133.3 L590.75,131.92 L590.85,131.27 L590.95,131.34 L591.05,132.13 L591.15,133.66 L591.25,135.91 L591.35,138.85 L591.45,142.48 L591.55,146.76 L591.65,151.63 L591.75,157.06 L591.85,162.98 L591.95,169.35 L592.05,176.07 L592.15,183.05 L592.25,190.15 L592.35,197.17 L592.45,203.84 L592.55,209.75 L592.65,214.3 L592.75,216.8 L592.85,216.67 L592.95,213.89 L593.05,208.96 L593.15,202.56 L593.25,195.28 L593.35,187.51 L593.45,179.56 L593.55,171.6 L593.65,163.8 L593.75,156.27 L593.85,149.09 L593.95,142.36 L594.05,136.15 L594.15,130.5 L594.25,125.47 L594.35,121.11 L594.45,117.46 L594.55,114.54 L594.65,112.39 L594.75,111.01 L594.85,110.43 L594.95,110.64 L595.05,111.66 L595.15,113.46 L595.25,116.03 L595.35,119.36 L595.45,123.41 L595.55,128.13 L595.65,133.48 L595.75,139.39 L595.85,145.77 L595.95,152.55 L596.05,159.61 L596.15,166.8 L596.25,173.93 L596.35,180.76 L596.45,186.98 L596.55,192.17 L596.65,195.89 L596.75,197.69 L596.85,197.3 L596.95,194.73 L597.05,190.28 L597.15,184.38 L597.25,177.47 L597.35,169.93 L597.45,162.06 L597.55,154.09 L597.65,146.21 L597.75,138.55 L597.85,131.25 L597.95,124.39 L598.05,118.06 L598.15,112.34 L598.25,107.28 L598.35,102.93 L598.45,99.33 L598.55,96.52 L598.65,94.51 L598.75,93.33 L598.85,92.99 L598.95,93.48 L599.05,94.81 L599.15,96.95 L599.25,99.88 L599.35,103.57 L599.45,107.98 L599.55,113.05 L599.65,118.72 L599.75,124.91 L599.85,131.52 L599.95,138.45 L600.05,145.55 L600.15,152.66 L600.25,159.57 L600.35,166.02 L600.45,171.71 L600.55,176.3 L600.65,179.44 L600.75,180.83 L600.85,180.32 L600.95,177.94 L601.05,173.9 L601.15,168.5 L601.25,162.11 L601.35,155.03 L601.45,147.56 L601.55,139.93 L601.65,132.33 L601.75,124.91 L601.85,117.82 L601.95,111.15 L602.05,105.01 L602.15,99.47 L602.25,94.6 L602.35,90.44 L602.45,87.05 L602.55,84.46 L602.65,82.68 L602.75,81.74 L602.85,81.65 L602.95,82.39 L603.05,83.97 L603.15,86.37 L603.25,89.55 L603.35,93.47 L603.45,98.1 L603.55,103.36 L603.65,109.19 L603.75,115.49 L603.85,122.17 L603.95,129.1 L604.05,136.13 L604.15,143.09 L604.25,149.78 L604.35,155.93 L604.45,161.28 L604.55,165.52 L604.65,168.37 L604.75,169.6 L604.85,169.09 L604.95,166.89 L605.05,163.15 L605.15,158.14 L605.25,152.16 L605.35,145.48 L605.45,138.38 L605.55,131.09 L605.65,123.8 L605.75,116.66 L605.85,109.82 L605.95,103.39 L606.05,97.47 L606.15,92.15 L606.25,87.49 L606.35,83.54 L606.45,80.36 L606.55,77.98 L606.65,76.43 L606.75,75.72 L606.85,75.86 L606.95,76.85 L607.05,78.68 L607.15,81.32 L607.25,84.76 L607.35,88.93 L607.45,93.81 L607.55,99.31 L607.65,105.37 L607.75,111.89 L607.85,118.76 L607.95,125.85 L608.05,133.02 L608.15,140.09 L608.25,146.83 L608.35,153 L608.45,158.34 L608.55,162.53 L608.65,165.32 L608.75,166.48 L608.85,165.94 L608.95,163.73 L609.05,160.03 L609.15,155.09 L609.25,149.19 L609.35,142.64 L609.45,135.67 L609.55,128.53 L609.65,121.4 L609.75,114.44 L609.85,107.79 L609.95,101.55 L610.05,95.84 L610.15,90.71 L610.25,86.25 L610.35,82.51 L610.45,79.52 L610.55,77.33 L610.65,75.95 L610.75,75.41 L610.85,75.71 L610.95,76.84 L611.05,78.81 L611.15,81.58 L611.25,85.13 L611.35,89.41 L611.45,94.39 L611.55,100 L611.65,106.16 L611.75,112.79 L611.85,119.79 L611.95,127.02 L612.05,134.33 L612.15,141.54 L612.25,148.43 L612.35,154.74 L612.45,160.18 L612.55,164.45 L612.65,167.26 L612.75,168.4 L612.85,167.78 L612.95,165.46 L613.05,161.62 L613.15,156.54 L613.25,150.53 L613.35,143.89 L613.45,136.87 L613.55,129.72 L613.65,122.61 L613.75,115.7 L613.85,109.14 L613.95,103.03 L614.05,97.46 L614.15,92.51 L614.25,88.24 L614.35,84.71 L614.45,81.95 L614.55,79.99 L614.65,78.86 L614.75,78.56 L614.85,79.11 L614.95,80.49 L615.05,82.7 L615.15,85.71 L615.25,89.49 L615.35,94 L615.45,99.2 L615.55,105.01 L615.65,111.37 L615.75,118.19 L615.85,125.37 L615.95,132.79 L616.05,140.28 L616.15,147.67 L616.25,154.73 L616.35,161.21 L616.45,166.8 L616.55,171.18 L616.65,174.05 L616.75,175.17 L616.85,174.45 L616.95,171.98 L617.05,167.99 L617.15,162.77 L617.25,156.65 L617.35,149.96 L617.45,142.94 L617.55,135.84 L617.65,128.83 L617.75,122.06 L617.85,115.66 L617.95,109.74 L618.05,104.38 L618.15,99.66 L618.25,95.62 L618.35,92.32 L618.45,89.79 L618.55,88.07 L618.65,87.17 L618.75,87.09 L618.85,87.85 L618.95,89.43 L619.05,91.83 L619.15,95.01 L619.25,98.96 L619.35,103.63 L619.45,108.96 L619.55,114.91 L619.65,121.41 L619.75,128.37 L619.85,135.7 L619.95,143.27 L620.05,150.95 L620.15,158.55 L620.25,165.86 L620.35,172.6 L620.45,178.46 L620.55,183.06 L620.65,186.05 L620.75,187.16 L620.85,186.28 L620.95,183.54 L621.05,179.23 L621.15,173.72 L621.25,167.39 L621.35,160.56 L621.45,153.51 L621.55,146.44 L621.65,139.54 L621.75,132.93 L621.85,126.74 L621.95,121.06 L622.05,115.95 L622.15,111.49 L622.25,107.72 L622.35,104.69 L622.45,102.42 L622.55,100.94 L622.65,100.26 L622.75,100.4 L622.85,101.34 L622.95,103.1 L623.05,105.64 L623.15,108.96 L623.25,113.01 L623.35,117.78 L623.45,123.21 L623.55,129.26 L623.65,135.86 L623.75,142.95 L623.85,150.43 L623.95,158.22 L624.05,166.17 L624.15,174.15 L624.25,181.93 L624.35,189.25 L624.45,195.75 L624.55,200.96 L624.65,204.35 L624.75,205.5 L624.85,204.25 L624.95,200.85 L625.05,195.79 L625.15,189.62 L625.25,182.79 L625.35,175.65 L625.45,168.45 L625.55,161.38 L625.65,154.59 L625.75,148.18 L625.85,142.26 L625.95,136.89 L626.05,132.12 L626.15,128 L626.25,124.58 L626.35,121.88 L626.45,119.92 L626.55,118.72 L626.65,118.28 L626.75,118.62 L626.85,119.72 L626.95,121.59 L627.05,124.2 L627.15,127.53 L627.25,131.56 L627.35,136.26 L627.45,141.59 L627.55,147.52 L627.65,153.98 L627.75,160.94 L627.85,168.33 L627.95,176.09 L628.05,184.11 L628.15,192.29 L628.25,200.47 L628.35,208.45 L628.45,215.86 L628.55,222.13 L628.65,226.32 L628.75,227.34 L628.85,224.91 L628.95,219.93 L629.05,213.51 L629.15,206.42 L629.25,199.11 L629.35,191.85 L629.45,184.79 L629.55,178.05 L629.65,171.72 L629.75,165.85 L629.85,160.5 L629.95,155.7 L630.05,151.5 L630.15,147.91 L630.25,144.95 L630.35,142.64 L630.45,140.99 L630.55,140 L630.65,139.68 L630.75,140.02 L630.85,141.01 L630.95,142.64 L631.05,144.91 L631.15,147.79 L631.25,151.26 L631.35,155.3 L631.45,159.89 L631.55,164.99 L631.65,170.58 L631.75,176.62 L631.85,183.1 L631.95,189.97 L632.05,197.17 L632.15,204.64 L632.25,212.3 L632.35,220.03 L632.45,227.62 L632.55,234.62 L632.65,239.7 L632.75,240.1 L632.85,235.49 L632.95,228.68 L633.05,221.18 L633.15,213.53 L633.25,205.94 L633.35,198.54 L633.45,191.42 L633.55,184.64 L633.65,178.25 L633.75,172.3 L633.85,166.83 L633.95,161.89 L634.05,157.49 L634.15,153.68 L634.25,150.47 L634.35,147.89 L634.45,145.95 L634.55,144.66 L634.65,144.03 L634.75,144.07 L634.85,144.77 L634.95,146.12 L635.05,148.12 L635.15,150.75 L635.25,154 L635.35,157.84 L635.45,162.24 L635.55,167.18 L635.65,172.61 L635.75,178.5 L635.85,184.79 L635.95,191.41 L636.05,198.31 L636.15,205.42 L636.25,212.64 L636.35,219.78 L636.45,226.55 L636.55,232.27 L636.65,235.63 L636.75,235.03 L636.85,230.77 L636.95,224.49 L637.05,217.31 L637.15,209.79 L637.25,202.18 L637.35,194.65 L637.45,187.29 L637.55,180.19 L637.65,173.42 L637.75,167.03 L637.85,161.07 L637.95,155.58 L638.05,150.62 L638.15,146.23 L638.25,142.43 L638.35,139.25 L638.45,136.74 L638.55,134.89 L638.65,133.75 L638.75,133.31 L638.85,133.58 L638.95,134.57 L639.05,136.28 L639.15,138.69 L639.25,141.78 L639.35,145.55 L639.45,149.96 L639.55,154.97 L639.65,160.53 L639.75,166.6 L639.85,173.08 L639.95,179.91 L640.05,186.95 L640.15,194.08 L640.25,201.08 L640.35,207.64 L640.45,213.3 L640.55,217.39 L640.65,219.16 L640.75,218.12 L640.85,214.48 L640.95,208.91 L641.05,202.09 L641.15,194.58 L641.25,186.71 L641.35,178.75 L641.45,170.87 L641.55,163.18 L641.65,155.81 L641.75,148.82 L641.85,142.3 L641.95,136.3 L642.05,130.89 L642.15,126.11 L642.25,121.99 L642.35,118.58 L642.45,115.91 L642.55,114 L642.65,112.86 L642.75,112.51 L642.85,112.95 L642.95,114.18 L643.05,116.18 L643.15,118.95 L643.25,122.46 L643.35,126.67 L643.45,131.55 L643.55,137.04 L643.65,143.07 L643.75,149.57 L643.85,156.44 L643.95,163.55 L644.05,170.75 L644.15,177.83 L644.25,184.54 L644.35,190.52 L644.45,195.35 L644.55,198.55 L644.65,199.68 L644.75,198.55 L644.85,195.29 L644.95,190.26 L645.05,183.93 L645.15,176.74 L645.25,169.03 L645.35,161.08 L645.45,153.11 L645.55,145.28 L645.65,137.73 L645.75,130.56 L645.85,123.87 L645.95,117.74 L646.05,112.22 L646.15,107.38 L646.25,103.26 L646.35,99.9 L646.45,97.33 L646.55,95.57 L646.65,94.64 L646.75,94.55 L646.85,95.28 L646.95,96.84 L647.05,99.21 L647.15,102.36 L647.25,106.26 L647.35,110.86 L647.45,116.11 L647.55,121.94 L647.65,128.27 L647.75,135 L647.85,142.02 L647.95,149.16 L648.05,156.25 L648.15,163.08 L648.25,169.36 L648.35,174.77 L648.45,178.96 L648.55,181.58 L648.65,182.36 L648.75,181.21 L648.85,178.21 L648.95,173.64 L649.05,167.82 L649.15,161.12 L649.25,153.84 L649.35,146.25 L649.45,138.57 L649.55,130.99 L649.65,123.65 L649.75,116.66 L649.85,110.15 L649.95,104.18 L650.05,98.83 L650.15,94.17 L650.25,90.24 L650.35,87.08 L650.45,84.72 L650.55,83.19 L650.65,82.5 L650.75,82.66 L650.85,83.65 L650.95,85.47 L651.05,88.1 L651.15,91.51 L651.25,95.65 L651.35,100.47 L651.45,105.91 L651.55,111.9 L651.65,118.34 L651.75,125.12 L651.85,132.12 L651.95,139.17 L652.05,146.08 L652.15,152.64 L652.25,158.57 L652.35,163.6 L652.45,167.42 L652.55,169.76 L652.65,170.4 L652.75,169.3 L652.85,166.54 L652.95,162.32 L653.05,156.92 L653.15,150.64 L653.25,143.77 L653.35,136.56 L653.45,129.23 L653.55,121.96 L653.65,114.9 L653.75,108.17 L653.85,101.9 L653.95,96.16 L654.05,91.03 L654.15,86.58 L654.25,82.86 L654.35,79.91 L654.45,77.78 L654.55,76.47 L654.65,76 L654.75,76.39 L654.85,77.62 L654.95,79.68 L655.05,82.55 L655.15,86.19 L655.25,90.57 L655.35,95.63 L655.45,101.3 L655.55,107.5 L655.65,114.14 L655.75,121.1 L655.85,128.25 L655.95,135.42 L656.05,142.41 L656.15,149.01 L656.25,154.96 L656.35,159.96 L656.45,163.74 L656.55,166.02 L656.65,166.63 L656.75,165.53 L656.85,162.8 L656.95,158.65 L657.05,153.36 L657.15,147.2 L657.25,140.47 L657.35,133.42 L657.45,126.25 L657.55,119.15 L657.65,112.27 L657.75,105.73 L657.85,99.65 L657.95,94.12 L658.05,89.2 L658.15,84.96 L658.25,81.46 L658.35,78.73 L658.45,76.79 L658.55,75.69 L658.65,75.41 L658.75,75.98 L658.85,77.38 L658.95,79.6 L659.05,82.62 L659.15,86.4 L659.25,90.9 L659.35,96.07 L659.45,101.85 L659.55,108.15 L659.65,114.88 L659.75,121.93 L659.85,129.17 L659.95,136.43 L660.05,143.52 L660.15,150.22 L660.25,156.25 L660.35,161.32 L660.45,165.14 L660.55,167.42 L660.65,167.99 L660.75,166.81 L660.85,163.98 L660.95,159.71 L661.05,154.31 L661.15,148.06 L661.25,141.27 L661.35,134.17 L661.45,127 L661.55,119.92 L661.65,113.1 L661.75,106.64 L661.85,100.68 L661.95,95.27 L662.05,90.52 L662.15,86.46 L662.25,83.15 L662.35,80.63 L662.45,78.93 L662.55,78.06 L662.65,78.03 L662.75,78.84 L662.85,80.49 L662.95,82.95 L663.05,86.21 L663.15,90.23 L663.25,94.97 L663.35,100.36 L663.45,106.36 L663.55,112.87 L663.65,119.8 L663.75,127.05 L663.85,134.48 L663.95,141.92 L664.05,149.2 L664.15,156.07 L664.25,162.26 L664.35,167.47 L664.45,171.36 L664.55,173.66 L664.65,174.19 L664.75,172.9 L664.85,169.92 L664.95,165.51 L665.05,159.98 L665.15,153.66 L665.25,146.84 L665.35,139.77 L665.45,132.67 L665.55,125.7 L665.65,119.03 L665.75,112.75 L665.85,106.98 L665.95,101.79 L666.05,97.26 L666.15,93.44 L666.25,90.36 L666.35,88.07 L666.45,86.6 L666.55,85.95 L666.65,86.13 L666.75,87.15 L666.85,88.99 L666.95,91.64 L667.05,95.07 L667.15,99.25 L667.25,104.14 L667.35,109.69 L667.45,115.82 L667.55,122.47 L667.65,129.55 L667.75,136.96 L667.85,144.56 L667.95,152.2 L668.05,159.7 L668.15,166.82 L668.25,173.26 L668.35,178.71 L668.45,182.79 L668.55,185.16 L668.65,185.62 L668.75,184.13 L668.85,180.87 L668.95,176.17 L669.05,170.39 L669.15,163.89 L669.25,156.98 L669.35,149.9 L669.45,142.86 L669.55,136.03 L669.65,129.53 L669.75,123.47 L669.85,117.94 L669.95,113.01 L670.05,108.74 L670.15,105.18 L670.25,102.37 L670.35,100.34 L670.45,99.1 L670.55,98.67 L670.65,99.05 L670.75,100.25 L670.85,102.26 L670.95,105.05 L671.05,108.6 L671.15,112.89 L671.25,117.88 L671.35,123.52 L671.45,129.75 L671.55,136.51 L671.65,143.72 L671.75,151.3 L671.85,159.13 L671.95,167.07 L672.05,174.96 L672.15,182.56 L672.25,189.58 L672.35,195.63 L672.45,200.23 L672.55,202.89 L672.65,203.26 L672.75,201.34 L672.85,197.44 L672.95,192.06 L673.05,185.71 L673.15,178.79 L673.25,171.63 L673.35,164.45 L673.45,157.45 L673.55,150.75 L673.65,144.46 L673.75,138.67 L673.85,133.44 L673.95,128.84 L674.05,124.91 L674.15,121.69 L674.25,119.2 L674.35,117.47 L674.45,116.5 L674.55,116.31 L674.65,116.9 L674.75,118.25 L674.85,120.37 L674.95,123.24 L675.05,126.82 L675.15,131.1 L675.25,136.05 L675.35,141.61 L675.45,147.75 L675.55,154.42 L675.65,161.56 L675.75,169.09 L675.85,176.95 L675.95,185.03 L676.05,193.21 L676.15,201.32 L676.25,209.1 L676.35,216.14 L676.45,221.74 L676.55,224.95 L676.65,224.9 L676.75,221.7 L676.85,216.31 L676.95,209.7 L677.05,202.53 L677.15,195.19 L677.25,187.93 L677.35,180.91 L677.45,174.22 L677.55,167.96 L677.65,162.19 L677.75,156.96 L677.85,152.31 L677.95,148.27 L678.05,144.87 L678.15,142.12 L678.25,140.05 L678.35,138.65 L678.45,137.94 L678.55,137.9 L678.65,138.54 L678.75,139.84 L678.85,141.8 L678.95,144.39 L679.05,147.59 L679.15,151.38 L679.25,155.74 L679.35,160.63 L679.45,166.03 L679.55,171.89 L679.65,178.18 L679.75,184.85 L679.85,191.86 L679.95,199.16 L680.05,206.69 L680.15,214.36 L680.25,222.02 L680.35,229.42 L680.45,235.87 L680.55,239.65 L680.65,238.35 L680.75,232.98 L680.85,225.99 L680.95,218.48 L681.05,210.87 L681.15,203.36 L681.25,196.06 L681.35,189.04 L681.45,182.39 L681.55,176.14 L681.65,170.34 L681.75,165.04 L681.85,160.27 L681.95,156.06 L682.05,152.44 L682.15,149.43 L682.25,147.06 L682.35,145.33 L682.45,144.26 L682.55,143.85 L682.65,144.11 L682.75,145.03 L682.85,146.6 L682.95,148.82 L683.05,151.67 L683.15,155.13 L683.25,159.17 L683.35,163.77 L683.45,168.9 L683.55,174.51 L683.65,180.57 L683.75,187.03 L683.85,193.83 L683.95,200.91 L684.05,208.17 L684.15,215.49 L684.25,222.68 L684.35,229.38 L684.45,234.74 L684.55,237.1 L684.65,235.11 L684.75,229.89 L684.85,223.16 L684.95,215.82 L685.05,208.28 L685.15,200.75 L685.25,193.35 L685.35,186.16 L685.45,179.27 L685.55,172.72 L685.65,166.57 L685.75,160.87 L685.85,155.66 L685.95,150.97 L686.05,146.84 L686.15,143.31 L686.25,140.41 L686.35,138.15 L686.45,136.56 L686.55,135.65 L686.65,135.44 L686.75,135.93 L686.85,137.12 L686.95,139.01 L687.05,141.59 L687.15,144.85 L687.25,148.76 L687.35,153.29 L687.45,158.4 L687.55,164.07 L687.65,170.21 L687.75,176.78 L687.85,183.67 L687.95,190.78 L688.05,197.94 L688.15,204.92 L688.25,211.37 L688.35,216.75 L688.45,220.31 L688.55,221.26 L688.65,219.29 L688.75,214.83 L688.85,208.68 L688.95,201.52 L689.05,193.83 L689.15,185.91 L689.25,177.98 L689.35,170.18 L689.45,162.63 L689.55,155.42 L689.65,148.63 L689.75,142.32 L689.85,136.56 L689.95,131.38 L690.05,126.85 L690.15,122.99 L690.25,119.83 L690.35,117.41 L690.45,115.75 L690.55,114.85 L690.65,114.73 L690.75,115.4 L690.85,116.84 L690.95,119.05 L691.05,122.01 L691.15,125.7 L691.25,130.07 L691.35,135.09 L691.45,140.71 L691.55,146.85 L691.65,153.43 L691.75,160.36 L691.85,167.51 L691.95,174.7 L692.05,181.72 L692.15,188.28 L692.25,194.01 L692.35,198.43 L692.45,201.05 L692.55,201.47 L692.65,199.6 L692.75,195.66 L692.85,190.1 L692.95,183.39 L693.05,175.95 L693.15,168.11 L693.25,160.12 L693.35,152.17 L693.45,144.42 L693.55,136.99 L693.65,129.97 L693.75,123.46 L693.85,117.53 L693.95,112.23 L694.05,107.62 L694.15,103.74 L694.25,100.62 L694.35,98.3 L694.45,96.79 L694.55,96.11 L694.65,96.26 L694.75,97.23 L694.85,99.03 L694.95,101.62 L695.05,104.99 L695.15,109.09 L695.25,113.88 L695.35,119.3 L695.45,125.28 L695.55,131.74 L695.65,138.57 L695.75,145.65 L695.85,152.81 L695.95,159.88 L696.05,166.6 L696.15,172.68 L696.25,177.79 L696.35,181.55 L696.45,183.62 L696.55,183.77 L696.65,181.97 L696.75,178.38 L696.85,173.3 L696.95,167.09 L697.05,160.11 L697.15,152.65 L697.25,144.97 L697.35,137.28 L697.45,129.73 L697.55,122.47 L697.65,115.61 L697.75,109.24 L697.85,103.45 L697.95,98.31 L698.05,93.86 L698.15,90.16 L698.25,87.24 L698.35,85.13 L698.45,83.86 L698.55,83.42 L698.65,83.82 L698.75,85.06 L698.85,87.13 L698.95,89.99 L699.05,93.62 L699.15,97.97 L699.25,102.98 L699.35,108.6 L699.45,114.74 L699.55,121.3 L699.65,128.17 L699.75,135.21 L699.85,142.25 L699.95,149.1 L700.05,155.51 L700.15,161.22 L700.25,165.91 L700.35,169.28 L700.45,171.08 L700.55,171.14 L700.65,169.45 L700.75,166.14 L700.85,161.46 L700.95,155.7 L701.05,149.16 L701.15,142.12 L701.25,134.82 L701.35,127.47 L701.45,120.23 L701.55,113.25 L701.65,106.65 L701.75,100.53 L701.85,94.97 L701.95,90.04 L702.05,85.81 L702.15,82.33 L702.25,79.62 L702.35,77.73 L702.45,76.67 L702.55,76.46 L702.65,77.09 L702.75,78.56 L702.85,80.85 L702.95,83.94 L703.05,87.8 L703.15,92.38 L703.25,97.61 L703.35,103.44 L703.45,109.77 L703.55,116.51 L703.65,123.53 L703.75,130.7 L703.85,137.83 L703.95,144.74 L704.05,151.17 L704.15,156.86 L704.25,161.5 L704.35,164.83 L704.45,166.59 L704.55,166.64 L704.65,164.99 L704.75,161.76 L704.85,157.19 L704.95,151.56 L705.05,145.18 L705.15,138.3 L705.25,131.17 L705.35,124 L705.45,116.94 L705.55,110.15 L705.65,103.74 L705.75,97.82 L705.85,92.48 L705.95,87.77 L706.05,83.76 L706.15,80.5 L706.25,78.02 L706.35,76.35 L706.45,75.51 L706.55,75.5 L706.65,76.34 L706.75,78 L706.85,80.47 L706.95,83.73 L707.05,87.74 L707.15,92.46 L707.25,97.82 L707.35,103.76 L707.45,110.19 L707.55,117.01 L707.65,124.11 L707.75,131.35 L707.85,138.54 L707.95,145.5 L708.05,151.97 L708.15,157.69 L708.25,162.36 L708.35,165.68 L708.45,167.42 L708.55,167.42 L708.65,165.69 L708.75,162.38 L708.85,157.72 L708.95,152.02 L709.05,145.57 L709.15,138.65 L709.25,131.5 L709.35,124.33 L709.45,117.3 L709.55,110.56 L709.65,104.24 L709.75,98.42 L709.85,93.2 L709.95,88.64 L710.05,84.8 L710.15,81.72 L710.25,79.44 L710.35,77.99 L710.45,77.37 L710.55,77.6 L710.65,78.67 L710.75,80.58 L710.85,83.3 L710.95,86.8 L711.05,91.06 L711.15,96.01 L711.25,101.6 L711.35,107.76 L711.45,114.41 L711.55,121.45 L711.65,128.76 L711.75,136.19 L711.85,143.58 L711.95,150.72 L712.05,157.37 L712.15,163.24 L712.25,168.02 L712.35,171.4 L712.45,173.13 L712.55,173.05 L712.65,171.21 L712.75,167.75 L712.85,162.96 L712.95,157.15 L713.05,150.65 L713.15,143.73 L713.25,136.62 L713.35,129.54 L713.45,122.64 L713.55,116.07 L713.65,109.92 L713.75,104.31 L713.85,99.31 L713.95,94.97 L714.05,91.36 L714.15,88.52 L714.25,86.47 L714.35,85.24 L714.45,84.85 L714.55,85.29 L714.65,86.56 L714.75,88.66 L714.85,91.56 L714.95,95.24 L715.05,99.65 L715.15,104.75 L715.25,110.49 L715.35,116.8 L715.45,123.6 L715.55,130.79 L715.65,138.26 L715.75,145.88 L715.85,153.47 L715.95,160.84 L716.05,167.73 L716.15,173.84 L716.25,178.84 L716.35,182.36 L716.45,184.11 L716.55,183.93 L716.65,181.86 L716.75,178.13 L716.85,173.07 L716.95,167.04 L717.05,160.4 L717.15,153.42 L717.25,146.34 L717.35,139.34 L717.45,132.59 L717.55,126.2 L717.65,120.29 L717.75,114.92 L717.85,110.17 L717.95,106.1 L718.05,102.76 L718.15,100.17 L718.25,98.37 L718.35,97.37 L718.45,97.19 L718.55,97.83 L718.65,99.28 L718.75,101.53 L718.85,104.57 L718.95,108.36 L719.05,112.88 L719.15,118.08 L719.25,123.91 L719.35,130.32 L719.45,137.23 L719.55,144.56 L719.65,152.21 L719.75,160.07 L719.85,167.97 L719.95,175.74 L720.05,183.11 L720.15,189.78 L720.25,195.32 L720.35,199.27 L720.45,201.18 L720.55,200.82 L720.65,198.28 L720.75,193.94 L720.85,188.28 L720.95,181.77 L721.05,174.78 L721.15,167.61 L721.25,160.48 L721.35,153.55 L721.45,146.95 L721.55,140.78 L721.65,135.13 L721.75,130.07 L721.85,125.64 L721.95,121.9 L722.05,118.88 L722.15,116.61 L722.25,115.1 L722.35,114.37 L722.45,114.42 L722.55,115.25 L722.65,116.86 L722.75,119.23 L722.85,122.35 L722.95,126.19 L723.05,130.71 L723.15,135.89 L723.25,141.68 L723.35,148.03 L723.45,154.89 L723.55,162.19 L723.65,169.86 L723.75,177.82 L723.85,185.94 L723.95,194.1 L724.05,202.07 L724.15,209.57 L724.25,216.1 L724.35,220.91 L724.45,223.08 L724.55,222.07 L724.65,218.23 L724.75,212.51 L724.85,205.75 L724.95,198.52 L725.05,191.18 L725.15,183.93 L725.25,176.94 L725.35,170.31 L725.45,164.13 L725.55,158.45 L725.65,153.34 L725.75,148.82 L725.85,144.94 L725.95,141.72 L726.05,139.17 L726.15,137.32 L726.25,136.16 L726.35,135.7 L726.45,135.94 L726.55,136.86 L726.65,138.46 L726.75,140.73 L726.85,143.63 L726.95,147.14 L727.05,151.25 L727.15,155.91 L727.25,161.1 L727.35,166.79 L727.45,172.92 L727.55,179.45 L727.65,186.35 L727.75,193.55 L727.85,201 L727.95,208.61 L728.05,216.29 L728.15,223.84 L728.25,230.91 L728.35,236.58 L728.45,238.83 L728.55,236.14 L728.65,230.29 L728.75,223.2 L728.85,215.72 L728.95,208.17 L729.05,200.75 L729.15,193.55 L729.25,186.66 L729.35,180.13 L729.45,174.03 L729.55,168.39 L729.65,163.26 L729.75,158.67 L729.85,154.65 L729.95,151.23 L730.05,148.43 L730.15,146.26 L730.25,144.75 L730.35,143.9 L730.45,143.71 L730.55,144.19 L730.65,145.33 L730.75,147.12 L730.85,149.56 L730.95,152.62 L731.05,156.29 L731.15,160.53 L731.25,165.33 L731.35,170.64 L731.45,176.43 L731.55,182.66 L731.65,189.27 L731.75,196.21 L731.85,203.42 L731.95,210.79 L732.05,218.21 L732.15,225.45 L732.25,232.06 L732.35,236.93 L732.45,238.06 L732.55,234.68 L732.65,228.67 L732.75,221.61 L732.85,214.16 L732.95,206.64 L733.05,199.2 L733.15,191.94 L733.25,184.94 L733.35,178.26 L733.45,171.95 L733.55,166.05 L733.65,160.61 L733.75,155.67 L733.85,151.26 L733.95,147.42 L734.05,144.17 L734.15,141.54 L734.25,139.55 L734.35,138.22 L734.45,137.57 L734.55,137.59 L734.65,138.31 L734.75,139.71 L734.85,141.8 L734.95,144.56 L735.05,147.98 L735.15,152.03 L735.25,156.69 L735.35,161.92 L735.45,167.67 L735.55,173.9 L735.65,180.52 L735.75,187.46 L735.85,194.6 L735.95,201.75 L736.05,208.69 L736.15,215 L736.25,220.06 L736.35,223 L736.45,223.05 L736.55,220.11 L736.65,214.9 L736.75,208.26 L736.85,200.83 L736.95,193.01 L737.05,185.08 L737.15,177.2 L737.25,169.51 L737.35,162.11 L737.45,155.09 L737.55,148.5 L737.65,142.42 L737.75,136.89 L737.85,131.97 L737.95,127.68 L738.05,124.08 L738.15,121.18 L738.25,119.01 L738.35,117.6 L738.45,116.95 L738.55,117.07 L738.65,117.96 L738.75,119.62 L738.85,122.03 L738.95,125.18 L739.05,129.04 L739.15,133.57 L739.25,138.73 L739.35,144.47 L739.45,150.71 L739.55,157.37 L739.65,164.35 L739.75,171.51 L739.85,178.67 L739.95,185.6 L740.05,191.99 L740.15,197.41 L740.25,201.37 L740.35,203.36 L740.45,203.05 L740.55,200.43 L740.65,195.85 L740.75,189.81 L740.85,182.77 L740.95,175.13 L741.05,167.19 L741.15,159.19 L741.25,151.29 L741.35,143.63 L741.45,136.33 L741.55,129.49 L741.65,123.16 L741.75,117.44 L741.85,112.36 L741.95,107.99 L742.05,104.35 L742.15,101.48 L742.25,99.41 L742.35,98.15 L742.45,97.72 L742.55,98.11 L742.65,99.33 L742.75,101.35 L742.85,104.17 L742.95,107.75 L743.05,112.05 L743.15,117.02 L743.25,122.6 L743.35,128.73 L743.45,135.31 L743.55,142.23 L743.65,149.35 L743.75,156.53 L743.85,163.54 L743.95,170.13 L744.05,175.99 L744.15,180.75 L744.25,184.05 L744.35,185.53 L744.45,185.04 L744.55,182.59 L744.65,178.42 L744.75,172.87 L744.85,166.31 L744.95,159.09 L745.05,151.48 L745.15,143.74 L745.25,136.04 L745.35,128.54 L745.45,121.38 L745.55,114.65 L745.65,108.45 L745.75,102.85 L745.85,97.91 L745.95,93.69 L746.05,90.22 L746.15,87.55 L746.25,85.69 L746.35,84.66 L746.45,84.48 L746.55,85.13 L746.65,86.62 L746.75,88.93 L746.85,92.02 L746.95,95.87 L747.05,100.42 L747.15,105.62 L747.25,111.41 L747.35,117.69 L747.45,124.36 L747.55,131.31 L747.65,138.38 L747.75,145.4 L747.85,152.16 L747.95,158.41 L748.05,163.85 L748.15,168.17 L748.25,171.07 L748.35,172.32 L748.45,171.78 L748.55,169.51 L748.65,165.68 L748.75,160.57 L748.85,154.47 L748.95,147.7 L749.05,140.51 L749.15,133.14 L749.25,125.78 L749.35,118.59 L749.45,111.71 L749.55,105.24 L749.65,99.28 L749.75,93.91 L749.85,89.19 L749.95,85.19 L750.05,81.94 L750.15,79.48 L750.25,77.84 L750.35,77.03 L750.45,77.07 L750.55,77.95 L750.65,79.66 L750.75,82.19 L750.85,85.5 L750.95,89.56 L751.05,94.33 L751.15,99.73 L751.25,105.71 L751.35,112.16 L751.45,118.98 L751.55,126.05 L751.65,133.22 L751.75,140.29 L751.85,147.07 L751.95,153.3 L752.05,158.69 L752.15,162.95 L752.25,165.8 L752.35,167.01 L752.45,166.5 L752.55,164.31 L752.65,160.6 L752.75,155.64 L752.85,149.71 L752.95,143.12 L753.05,136.12 L753.15,128.94 L753.25,121.77 L753.35,114.77 L753.45,108.08 L753.55,101.81 L753.65,96.06 L753.75,90.9 L753.85,86.41 L753.95,82.63 L754.05,79.62 L754.15,77.39 L754.25,75.99 L754.35,75.41 L754.45,75.68 L754.55,76.78 L754.65,78.7 L754.75,81.43 L754.85,84.93 L754.95,89.16 L755.05,94.08 L755.15,99.62 L755.25,105.72 L755.35,112.27 L755.45,119.18 L755.55,126.31 L755.65,133.53 L755.75,140.64 L755.85,147.43 L755.95,153.66 L756.05,159.05 L756.15,163.28 L756.25,166.09 L756.35,167.27 L756.45,166.7 L756.55,164.45 L756.65,160.68 L756.75,155.66 L756.85,149.7 L756.95,143.07 L757.05,136.05 L757.15,128.87 L757.25,121.72 L757.35,114.76 L757.45,108.12 L757.55,101.93 L757.65,96.28 L757.75,91.24 L757.85,86.88 L757.95,83.26 L758.05,80.41 L758.15,78.38 L758.25,77.17 L758.35,76.81 L758.45,77.3 L758.55,78.63 L758.65,80.79 L758.75,83.76 L758.85,87.5 L758.95,91.98 L759.05,97.14 L759.15,102.92 L759.25,109.24 L759.35,116.02 L759.45,123.15 L759.55,130.5 L759.65,137.92 L759.75,145.23 L759.85,152.21 L759.95,158.61 L760.05,164.13 L760.15,168.46 L760.25,171.3 L760.35,172.44 L760.45,171.78 L760.55,169.4 L760.65,165.49 L760.75,160.36 L760.85,154.31 L760.95,147.65 L761.05,140.65 L761.15,133.53 L761.25,126.48 L761.35,119.66 L761.45,113.19 L761.55,107.19 L761.65,101.75 L761.75,96.93 L761.85,92.8 L761.95,89.41 L762.05,86.8 L762.15,84.99 L762.25,84.01 L762.35,83.87 L762.45,84.57 L762.55,86.1 L762.65,88.45 L762.75,91.6 L762.85,95.51 L762.95,100.15 L763.05,105.46 L763.15,111.39 L763.25,117.86 L763.35,124.79 L763.45,132.08 L763.55,139.6 L763.65,147.21 L763.75,154.73 L763.85,161.94 L763.95,168.58 L764.05,174.33 L764.15,178.84 L764.25,181.78 L764.35,182.9 L764.45,182.1 L764.55,179.48 L764.65,175.31 L764.75,169.93 L764.85,163.7 L764.95,156.93 L765.05,149.9 L765.15,142.83 L765.25,135.89 L765.35,129.23 L765.45,122.96 L765.55,117.19 L765.65,111.99 L765.75,107.43 L765.85,103.57 L765.95,100.44 L766.05,98.08 L766.15,96.52 L766.25,95.77 L766.35,95.83 L766.45,96.72 L766.55,98.42 L766.65,100.93 L766.75,104.21 L766.85,108.23 L766.95,112.97 L767.05,118.38 L767.15,124.4 L767.25,130.97 L767.35,138.02 L767.45,145.45 L767.55,153.16 L767.65,161.02 L767.75,168.86 L767.85,176.47 L767.95,183.57 L768.05,189.83 L768.15,194.82 L768.25,198.09 L768.35,199.26 L768.45,198.21 L768.55,195.11 L768.65,190.38 L768.75,184.47 L768.85,177.83 L768.95,170.79 L769.05,163.63 L769.15,156.54 L769.25,149.69 L769.35,143.2 L769.45,137.16 L769.55,131.66 L769.65,126.76 L769.75,122.52 L769.85,118.97 L769.95,116.16 L770.05,114.1 L770.15,112.82 L770.25,112.33 L770.35,112.62 L770.45,113.7 L770.55,115.56 L770.65,118.19 L770.75,121.55 L770.85,125.63 L770.95,130.4 L771.05,135.8 L771.15,141.81 L771.25,148.36 L771.35,155.39 L771.45,162.85 L771.55,170.64 L771.65,178.66 L771.75,186.8 L771.85,194.88 L771.95,202.66 L772.05,209.79 L772.15,215.71 L772.25,219.64 L772.35,220.8 L772.45,218.94 L772.55,214.58 L772.65,208.6 L772.75,201.73 L772.85,194.47 L772.95,187.12 L773.05,179.9 L773.15,172.95 L773.25,166.38 L773.35,160.27 L773.45,154.69 L773.55,149.69 L773.65,145.3 L773.75,141.57 L773.85,138.52 L773.95,136.17 L774.05,134.52 L774.15,133.59 L774.25,133.37 L774.35,133.87 L774.45,135.07 L774.55,136.95 L774.65,139.51 L774.75,142.71 L774.85,146.53 L774.95,150.94 L775.05,155.9 L775.15,161.38 L775.25,167.34 L775.35,173.74 L775.45,180.52 L775.55,187.64 L775.65,195.03 L775.75,202.62 L775.85,210.32 L775.95,217.99 L776.05,225.39 L776.15,232.01 L776.25,236.67 L776.35,237.35 L776.45,233.64 L776.55,227.47 L776.65,220.35 L776.75,212.91 L776.85,205.44 L776.95,198.12 L777.05,191.03 L777.15,184.27 L777.25,177.89 L777.35,171.94 L777.45,166.46 L777.55,161.5 L777.65,157.1 L777.75,153.27 L777.85,150.05 L777.95,147.45 L778.05,145.5 L778.15,144.2 L778.25,143.57 L778.35,143.6 L778.45,144.31 L778.55,145.67 L778.65,147.68 L778.75,150.33 L778.85,153.61 L778.95,157.48 L779.05,161.92 L779.15,166.91 L779.25,172.41 L779.35,178.37 L779.45,184.76 L779.55,191.52 L779.65,198.6 L779.75,205.92 L779.85,213.4 L779.95,220.9 L780.05,228.15 L780.15,234.59 L780.25,238.77 L780.35,238.39 L780.45,233.74 L780.55,227.12 L780.65,219.82 L780.75,212.31 L780.85,204.83 L780.95,197.49 L781.05,190.39 L781.15,183.57 L781.25,177.1 L781.35,171.03 L781.45,165.38 L781.55,160.21 L781.65,155.55 L781.75,151.43 L781.85,147.88 L781.95,144.92 L782.05,142.58 L782.15,140.88 L782.25,139.82 L782.35,139.43 L782.45,139.71 L782.55,140.66 L782.65,142.29 L782.75,144.58 L782.85,147.52 L782.95,151.11 L783.05,155.31 L783.15,160.1 L783.25,165.44 L783.35,171.29 L783.45,177.59 L783.55,184.27 L783.65,191.25 L783.75,198.4 L783.85,205.54 L783.95,212.4 L784.05,218.52 L784.15,223.18 L784.25,225.39 L784.35,224.44 L784.45,220.57 L784.55,214.68 L784.65,207.64 L784.75,200 L784.85,192.11 L784.95,184.2 L785.05,176.4 L785.15,168.85 L785.25,161.62 L785.35,154.78 L785.45,148.41 L785.55,142.56 L785.65,137.28 L785.75,132.61 L785.85,128.58 L785.95,125.24 L786.05,122.6 L786.15,120.7 L786.25,119.54 L786.35,119.13 L786.45,119.49 L786.55,120.61 L786.65,122.48 L786.75,125.1 L786.85,128.43 L786.95,132.46 L787.05,137.15 L787.15,142.44 L787.25,148.29 L787.35,154.63 L787.45,161.36 L787.55,168.38 L787.65,175.54 L787.75,182.65 L787.85,189.47 L787.95,195.64 L788.05,200.72 L788.15,204.16 L788.25,205.47 L788.35,204.38 L788.45,201.04 L788.55,195.86 L788.65,189.38 L788.75,182.06 L788.85,174.27 L788.95,166.27 L789.05,158.28 L789.15,150.45 L789.25,142.91 L789.35,135.76 L789.45,129.09 L789.55,122.97 L789.65,117.46 L789.75,112.61 L789.85,108.48 L789.95,105.09 L790.05,102.47 L790.15,100.65 L790.25,99.65 L790.35,99.46 L790.45,100.1 L790.55,101.56 L790.65,103.81 L790.75,106.85 L790.85,110.63 L790.95,115.12 L791.05,120.27 L791.15,126.01 L791.25,132.27 L791.35,138.96 L791.45,145.95 L791.55,153.12 L791.65,160.28 L791.75,167.22 L791.85,173.66 L791.95,179.26 L792.05,183.64 L792.15,186.42 L792.25,187.3 L792.35,186.14 L792.45,183.05 L792.55,178.33 L792.65,172.35 L792.75,165.47 L792.85,158.04 L792.95,150.32 L793.05,142.53 L793.15,134.85 L793.25,127.43 L793.35,120.38 L793.45,113.79 L793.55,107.76 L793.65,102.36 L793.75,97.64 L793.85,93.64 L793.95,90.42 L794.05,87.99 L794.15,86.38 L794.25,85.61 L794.35,85.68 L794.45,86.59 L794.55,88.32 L794.65,90.86 L794.75,94.18 L794.85,98.24 L794.95,103 L795.05,108.38 L795.15,114.33 L795.25,120.74 L795.35,127.52 L795.45,134.53 L795.55,141.62 L795.65,148.6 L795.75,155.25 L795.85,161.3 L795.95,166.45 L796.05,170.37 L796.15,172.77 L796.25,173.45 L796.35,172.32 L796.45,169.48 L796.55,165.14 L796.65,159.62 L796.75,153.22 L796.85,146.24 L796.95,138.93 L797.05,131.51 L797.15,124.16 L797.25,117.04 L797.35,110.25 L797.45,103.93 L797.55,98.14 L797.65,92.96 L797.75,88.46 L797.85,84.69 L797.95,81.68 L798.05,79.47 L798.15,78.09 L798.25,77.53 L798.35,77.82 L798.45,78.95 L798.55,80.91 L798.65,83.66 L798.75,87.2 L798.85,91.46 L798.95,96.41 L799.05,101.98 L799.15,108.09 L799.25,114.65 L799.35,121.55 L799.45,128.64 L799.55,135.79 L799.65,142.78 L799.75,149.4 L799.85,155.39 L799.95,160.45 L800.05,164.29 L800.15,166.63 L800.25,167.3 L800.35,166.22 L800.45,163.5 L800.55,159.33 L800.65,154 L800.75,147.81 L800.85,141.03 L800.95,133.93 L801.05,126.71 L801.15,119.56 L801.25,112.64 L801.35,106.06 L801.45,99.94 L801.55,94.36 L801.65,89.4 L801.75,85.13 L801.85,81.59 L801.95,78.82 L802.05,76.86 L802.15,75.71 L802.25,75.41 L802.35,75.94 L802.45,77.3 L802.55,79.49 L802.65,82.46 L802.75,86.2 L802.85,90.66 L802.95,95.78 L803.05,101.49 L803.15,107.73 L803.25,114.4 L803.35,121.37 L803.45,128.53 L803.55,135.71 L803.65,142.72 L803.75,149.33 L803.85,155.29 L803.95,160.3 L804.05,164.08 L804.15,166.37 L804.25,166.97 L804.35,165.85 L804.45,163.09 L804.55,158.9 L804.65,153.56 L804.75,147.37 L804.85,140.59 L804.95,133.5 L805.05,126.31 L805.15,119.19 L805.25,112.31 L805.35,105.79 L805.45,99.75 L805.55,94.26 L805.65,89.41 L805.75,85.26 L805.85,81.86 L805.95,79.25 L806.05,77.45 L806.15,76.5 L806.25,76.39 L806.35,77.13 L806.45,78.72 L806.55,81.13 L806.65,84.34 L806.75,88.32 L806.85,93.01 L806.95,98.37 L807.05,104.33 L807.15,110.8 L807.25,117.7 L807.35,124.9 L807.45,132.28 L807.55,139.67 L807.65,146.88 L807.75,153.67 L807.85,159.79 L807.95,164.93 L808.05,168.78 L808.15,171.07 L808.25,171.62 L808.35,170.39 L808.45,167.49 L808.55,163.17 L808.65,157.72 L808.75,151.46 L808.85,144.67 L808.95,137.61 L809.05,130.49 L809.15,123.49 L809.25,116.76 L809.35,110.42 L809.45,104.57 L809.55,99.3 L809.65,94.67 L809.75,90.75 L809.85,87.59 L809.95,85.21 L810.05,83.65 L810.15,82.92 L810.25,83.03 L810.35,83.98 L810.45,85.76 L810.55,88.36 L810.65,91.75 L810.75,95.9 L810.85,100.76 L810.95,106.27 L811.05,112.38 L811.15,119.01 L811.25,126.06 L811.35,133.43 L811.45,140.98 L811.55,148.57 L811.65,155.99 L811.75,163.01 L811.85,169.36 L811.95,174.71 L812.05,178.71 L812.15,181.06 L812.25,181.55 L812.35,180.14 L812.45,177.01 L812.55,172.44 L812.65,166.77 L812.75,160.35 L812.85,153.49 L812.95,146.43 L813.05,139.38 L813.15,132.5 L813.25,125.94 L813.35,119.81 L813.45,114.19 L813.55,109.17 L813.65,104.81 L813.75,101.15 L813.85,98.24 L813.95,96.12 L814.05,94.79 L814.15,94.29 L814.25,94.61 L814.35,95.74 L814.45,97.7 L814.55,100.44 L814.65,103.96 L814.75,108.22 L814.85,113.18 L814.95,118.79 L815.05,124.99 L815.15,131.72 L815.25,138.89 L815.35,146.41 L815.45,154.15 L815.55,161.99 L815.65,169.73 L815.75,177.14 L815.85,183.94 L815.95,189.75 L816.05,194.15 L816.15,196.72 L816.25,197.16 L816.35,195.46 L816.45,191.85 L816.55,186.77 L816.65,180.66 L816.75,173.91 L816.85,166.84 L816.95,159.69 L817.05,152.66 L817.15,145.9 L817.25,139.52 L817.35,133.62 L817.45,128.28 L817.55,123.55 L817.65,119.49 L817.75,116.15 L817.85,113.54 L817.95,111.71 L818.05,110.65 L818.15,110.4 L818.25,110.93 L818.35,112.26 L818.45,114.37 L818.55,117.25 L818.65,120.86 L818.75,125.18 L818.85,130.17 L818.95,135.8 L819.05,142.01 L819.15,148.75 L819.25,155.95 L819.35,163.54 L819.45,171.42 L819.55,179.49 L819.65,187.6 L819.75,195.55 L819.85,203.08 L819.95,209.75 L820.05,214.97 L820.15,217.99 L820.25,218.19 L820.35,215.59 L820.45,210.81 L820.55,204.64 L820.65,197.7 L820.75,190.42 L820.85,183.08 L820.95,175.89 L821.05,168.99 L821.15,162.49 L821.25,156.46 L821.35,150.98 L821.45,146.08 L821.55,141.83 L821.65,138.24 L821.75,135.35 L821.85,133.18 L821.95,131.73 L822.05,131.01 L822.15,131.03 L822.25,131.77 L822.35,133.23 L822.45,135.39 L822.55,138.22 L822.65,141.71 L822.75,145.82 L822.85,150.52 L822.95,155.78 L823.05,161.54 L823.15,167.78 L823.25,174.43 L823.35,181.45 L823.45,188.78 L823.55,196.35 L823.65,204.07 L823.75,211.83 L823.85,219.46 L823.95,226.64 L824.05,232.67 L824.15,236.13 L824.25,235.38 L824.35,230.91 L824.45,224.54 L824.55,217.42 L824.65,210.06 L824.75,202.69 L824.85,195.48 L824.95,188.52 L825.05,181.89 L825.15,175.65 L825.25,169.86 L825.35,164.55 L825.45,159.77 L825.55,155.55 L825.65,151.92 L825.75,148.9 L825.85,146.52 L825.95,144.78 L826.05,143.7 L826.15,143.29 L826.25,143.54 L826.35,144.46 L826.45,146.05 L826.55,148.28 L826.65,151.15 L826.75,154.63 L826.85,158.7 L826.95,163.35" fill="none" stroke="#ff0000" stroke-width="1.9" stroke-linejoin="round"/>
<path clip-path="url(#cb)" d="M486.65,158.4 L486.75,158.36 L486.85,158.32 L486.95,158.3 L487.05,158.28 L487.15,158.28 L487.25,158.28 L487.35,158.3 L487.45,158.33 L487.55,158.37 L487.65,158.42 L487.75,158.47 L487.85,158.53 L487.95,158.6 L488.05,158.67 L488.15,158.74 L488.25,158.81 L488.35,158.87 L488.45,158.94 L488.55,158.99 L488.65,159.04 L488.75,159.08 L488.85,159.12 L488.95,159.14 L489.05,159.15 L489.15,159.15 L489.25,159.14 L489.35,159.12 L489.45,159.09 L489.55,159.05 L489.65,159 L489.75,158.94 L489.85,158.88 L489.95,158.81 L490.05,158.74 L490.15,158.68 L490.25,158.61 L490.35,158.54 L490.45,158.48 L490.55,158.43 L490.65,158.38 L490.75,158.34 L490.85,158.32 L490.95,158.3 L491.05,158.29 L491.15,158.29 L491.25,158.31 L491.35,158.34 L491.45,158.37 L491.55,158.42 L491.65,158.47 L491.75,158.54 L491.85,158.61 L491.95,158.68 L492.05,158.75 L492.15,158.83 L492.25,158.9 L492.35,158.98 L492.45,159.05 L492.55,159.11 L492.65,159.16 L492.75,159.21 L492.85,159.25 L492.95,159.28 L493.05,159.29 L493.15,159.3 L493.25,159.29 L493.35,159.28 L493.45,159.25 L493.55,159.21 L493.65,159.17 L493.75,159.12 L493.85,159.06 L493.95,159 L494.05,158.94 L494.15,158.88 L494.25,158.82 L494.35,158.76 L494.45,158.71 L494.55,158.66 L494.65,158.62 L494.75,158.59 L494.85,158.57 L494.95,158.55 L495.05,158.55 L495.15,158.57 L495.25,158.59 L495.35,158.62 L495.45,158.66 L495.55,158.72 L495.65,158.78 L495.75,158.85 L495.85,158.92 L495.95,159 L496.05,159.08 L496.15,159.16 L496.25,159.24 L496.35,159.32 L496.45,159.39 L496.55,159.46 L496.65,159.52 L496.75,159.57 L496.85,159.61 L496.95,159.64 L497.05,159.66 L497.15,159.67 L497.25,159.67 L497.35,159.66 L497.45,159.63 L497.55,159.6 L497.65,159.56 L497.75,159.51 L497.85,159.46 L497.95,159.41 L498.05,159.35 L498.15,159.29 L498.25,159.23 L498.35,159.18 L498.45,159.13 L498.55,159.08 L498.65,159.05 L498.75,159.02 L498.85,159.01 L498.95,159 L499.05,159 L499.15,159.02 L499.25,159.05 L499.35,159.08 L499.45,159.13 L499.55,159.19 L499.65,159.25 L499.75,159.33 L499.85,159.4 L499.95,159.48 L500.05,159.57 L500.15,159.65 L500.25,159.73 L500.35,159.81 L500.45,159.89 L500.55,159.95 L500.65,160.02 L500.75,160.07 L500.85,160.11 L500.95,160.14 L501.05,160.16 L501.15,160.17 L501.25,160.17 L501.35,160.16 L501.45,160.13 L501.55,160.1 L501.65,160.06 L501.75,160.02 L501.85,159.96 L501.95,159.91 L502.05,159.85 L502.15,159.79 L502.25,159.74 L502.35,159.68 L502.45,159.63 L502.55,159.59 L502.65,159.56 L502.75,159.53 L502.85,159.52 L502.95,159.51 L503.05,159.52 L503.15,159.53 L503.25,159.56 L503.35,159.6 L503.45,159.65 L503.55,159.71 L503.65,159.77 L503.75,159.84 L503.85,159.92 L503.95,160 L504.05,160.08 L504.15,160.17 L504.25,160.25 L504.35,160.33 L504.45,160.4 L504.55,160.46 L504.65,160.52 L504.75,160.57 L504.85,160.61 L504.95,160.64 L505.05,160.66 L505.15,160.66 L505.25,160.66 L505.35,160.64 L505.45,160.62 L505.55,160.58 L505.65,160.54 L505.75,160.49 L505.85,160.44 L505.95,160.38 L506.05,160.32 L506.15,160.26 L506.25,160.2 L506.35,160.14 L506.45,160.09 L506.55,160.05 L506.65,160.01 L506.75,159.98 L506.85,159.97 L506.95,159.96 L507.05,159.96 L507.15,159.98 L507.25,160 L507.35,160.04 L507.45,160.08 L507.55,160.14 L507.65,160.2 L507.75,160.27 L507.85,160.34 L507.95,160.42 L508.05,160.5 L508.15,160.58 L508.25,160.65 L508.35,160.73 L508.45,160.79 L508.55,160.85 L508.65,160.91 L508.75,160.95 L508.85,160.98 L508.95,161.01 L509.05,161.02 L509.15,161.02 L509.25,161.01 L509.35,160.99 L509.45,160.95 L509.55,160.91 L509.65,160.87 L509.75,160.81 L509.85,160.75 L509.95,160.69 L510.05,160.62 L510.15,160.55 L510.25,160.49 L510.35,160.43 L510.45,160.37 L510.55,160.33 L510.65,160.28 L510.75,160.25 L510.85,160.23 L510.95,160.22 L511.05,160.22 L511.15,160.23 L511.25,160.25 L511.35,160.28 L511.45,160.32 L511.55,160.37 L511.65,160.43 L511.75,160.49 L511.85,160.56 L511.95,160.63 L512.05,160.7 L512.15,160.77 L512.25,160.84 L512.35,160.91 L512.45,160.97 L512.55,161.02 L512.65,161.07 L512.75,161.11 L512.85,161.13 L512.95,161.15 L513.05,161.15 L513.15,161.14 L513.25,161.12 L513.35,161.09 L513.45,161.06 L513.55,161.01 L513.65,160.95 L513.75,160.89 L513.85,160.82 L513.95,160.75 L514.05,160.68 L514.15,160.61 L514.25,160.54 L514.35,160.47 L514.45,160.41 L514.55,160.35 L514.65,160.31 L514.75,160.27 L514.85,160.24 L514.95,160.22 L515.05,160.22 L515.15,160.22 L515.25,160.24 L515.35,160.26 L515.45,160.3 L515.55,160.34 L515.65,160.39 L515.75,160.45 L515.85,160.51 L515.95,160.58 L516.05,160.64 L516.15,160.71 L516.25,160.77 L516.35,160.83 L516.45,160.88 L516.55,160.93 L516.65,160.97 L516.75,160.99 L516.85,161.01 L516.95,161.02 L517.05,161.02 L517.15,161 L517.25,160.97 L517.35,160.94 L517.45,160.89 L517.55,160.84 L517.65,160.77 L517.75,160.7 L517.85,160.63 L517.95,160.55 L518.05,160.47 L518.15,160.4 L518.25,160.32 L518.35,160.25 L518.45,160.18 L518.55,160.12 L518.65,160.07 L518.75,160.03 L518.85,159.99 L518.95,159.97 L519.05,159.96 L519.15,159.96 L519.25,159.97 L519.35,159.99 L519.45,160.02 L519.55,160.06 L519.65,160.11 L519.75,160.16 L519.85,160.22 L519.95,160.28 L520.05,160.34 L520.15,160.4 L520.25,160.45 L520.35,160.51 L520.45,160.55 L520.55,160.59 L520.65,160.63 L520.75,160.65 L520.85,160.66 L520.95,160.66 L521.05,160.65 L521.15,160.63 L521.25,160.6 L521.35,160.56 L521.45,160.5 L521.55,160.44 L521.65,160.38 L521.75,160.3 L521.85,160.22 L521.95,160.14 L522.05,160.06 L522.15,159.98 L522.25,159.9 L522.35,159.82 L522.45,159.75 L522.55,159.69 L522.65,159.63 L522.75,159.59 L522.85,159.55 L522.95,159.53 L523.05,159.52 L523.15,159.51 L523.25,159.52 L523.35,159.54 L523.45,159.57 L523.55,159.61 L523.65,159.65 L523.75,159.7 L523.85,159.75 L523.95,159.81 L524.05,159.87 L524.15,159.93 L524.25,159.98 L524.35,160.03 L524.45,160.08 L524.55,160.11 L524.65,160.14 L524.75,160.16 L524.85,160.17 L524.95,160.17 L525.05,160.16 L525.15,160.13 L525.25,160.1 L525.35,160.05 L525.45,160 L525.55,159.93 L525.65,159.86 L525.75,159.79 L525.85,159.71 L525.95,159.62 L526.05,159.54 L526.15,159.46 L526.25,159.38 L526.35,159.3 L526.45,159.23 L526.55,159.17 L526.65,159.11 L526.75,159.07 L526.85,159.04 L526.95,159.01 L527.05,159 L527.15,159 L527.25,159.01 L527.35,159.03 L527.45,159.06 L527.55,159.1 L527.65,159.14 L527.75,159.19 L527.85,159.25 L527.95,159.31 L528.05,159.37 L528.15,159.42 L528.25,159.48 L528.35,159.53 L528.45,159.57 L528.55,159.61 L528.65,159.64 L528.75,159.66 L528.85,159.67 L528.95,159.67 L529.05,159.66 L529.15,159.63 L529.25,159.6 L529.35,159.55 L529.45,159.5 L529.55,159.44 L529.65,159.37 L529.75,159.3 L529.85,159.22 L529.95,159.14 L530.05,159.06 L530.15,158.98 L530.25,158.9 L530.35,158.83 L530.45,158.76 L530.55,158.7 L530.65,158.65 L530.75,158.61 L530.85,158.58 L530.95,158.56 L531.05,158.55 L531.15,158.56 L531.25,158.57 L531.35,158.6 L531.45,158.63 L531.55,158.67 L531.65,158.72 L531.75,158.78 L531.85,158.84 L531.95,158.9 L532.05,158.96 L532.15,159.02 L532.25,159.08 L532.35,159.14 L532.45,159.19 L532.55,159.23 L532.65,159.26 L532.75,159.28 L532.85,159.29 L532.95,159.3 L533.05,159.29 L533.15,159.27 L533.25,159.24 L533.35,159.2 L533.45,159.15 L533.55,159.09 L533.65,159.02 L533.75,158.95 L533.85,158.88 L533.95,158.81 L534.05,158.73 L534.15,158.65 L534.25,158.58 L534.35,158.52 L534.45,158.46 L534.55,158.4 L534.65,158.36 L534.75,158.33 L534.85,158.3 L534.95,158.29 L535.05,158.29 L535.15,158.3 L535.25,158.32 L535.35,158.35 L535.45,158.4 L535.55,158.45 L535.65,158.5 L535.75,158.56 L535.85,158.63 L535.95,158.7 L536.05,158.77 L536.15,158.83 L536.25,158.9 L536.35,158.96 L536.45,159.01 L536.55,159.06 L536.65,159.1 L536.75,159.13 L536.85,159.14 L536.95,159.15 L537.05,159.15 L537.15,159.13 L537.25,159.11 L537.35,159.07 L537.45,159.03 L537.55,158.98 L537.65,158.92 L537.75,158.85 L537.85,158.79 L537.95,158.72 L538.05,158.65 L538.15,158.58 L538.25,158.51 L538.35,158.46 L538.45,158.4 L538.55,158.36 L538.65,158.32 L538.75,158.3 L538.85,158.28 L538.95,158.28 L539.05,158.28 L539.15,158.3 L539.25,158.33 L539.35,158.37 L539.45,158.42 L539.55,158.48 L539.65,158.54 L539.75,158.61 L539.85,158.68 L539.95,158.76 L540.05,158.83 L540.15,158.91 L540.25,158.98 L540.35,159.04 L540.45,159.1 L540.55,159.16 L540.65,159.2 L540.75,159.23 L540.85,159.26 L540.95,159.27 L541.05,159.27 L541.15,159.26 L541.25,159.24 L541.35,159.21 L541.45,159.17 L541.55,159.13 L541.65,159.07 L541.75,159.01 L541.85,158.95 L541.95,158.89 L542.05,158.83 L542.15,158.77 L542.25,158.71 L542.35,158.66 L542.45,158.61 L542.55,158.57 L542.65,158.54 L542.75,158.52 L542.85,158.52 L542.95,158.52 L543.05,158.53 L543.15,158.56 L543.25,158.6 L543.35,158.64 L543.45,158.7 L543.55,158.76 L543.65,158.83 L543.75,158.91 L543.85,158.99 L543.95,159.07 L544.05,159.15 L544.15,159.23 L544.25,159.3 L544.35,159.37 L544.45,159.44 L544.55,159.49 L544.65,159.54 L544.75,159.58 L544.85,159.6 L544.95,159.62 L545.05,159.63 L545.15,159.62 L545.25,159.6 L545.35,159.58 L545.45,159.54 L545.55,159.5 L545.65,159.45 L545.75,159.4 L545.85,159.34 L545.95,159.28 L546.05,159.22 L546.15,159.16 L546.25,159.11 L546.35,159.06 L546.45,159.02 L546.55,158.99 L546.65,158.97 L546.75,158.95 L546.85,158.95 L546.95,158.96 L547.05,158.98 L547.15,159.01 L547.25,159.05 L547.35,159.1 L547.45,159.16 L547.55,159.22 L547.65,159.3 L547.75,159.38 L547.85,159.46 L547.95,159.54 L548.05,159.63 L548.15,159.71 L548.25,159.78 L548.35,159.86 L548.45,159.92 L548.55,159.98 L548.65,160.03 L548.75,160.07 L548.85,160.1 L548.95,160.11 L549.05,160.12 L549.15,160.11 L549.25,160.1 L549.35,160.07 L549.45,160.04 L549.55,160 L549.65,159.95 L549.75,159.89 L549.85,159.84 L549.95,159.78 L550.05,159.72 L550.15,159.67 L550.25,159.62 L550.35,159.57 L550.45,159.53 L550.55,159.5 L550.65,159.48 L550.75,159.46 L550.85,159.46 L550.95,159.47 L551.05,159.49 L551.15,159.52 L551.25,159.57 L551.35,159.62 L551.45,159.68 L551.55,159.74 L551.65,159.82 L551.75,159.9 L551.85,159.98 L551.95,160.06 L552.05,160.14 L552.15,160.23 L552.25,160.3 L552.35,160.37 L552.45,160.44 L552.55,160.49 L552.65,160.54 L552.75,160.57 L552.85,160.6 L552.95,160.61 L553.05,160.62 L553.15,160.61 L553.25,160.59 L553.35,160.56 L553.45,160.53 L553.55,160.48 L553.65,160.43 L553.75,160.37 L553.85,160.32 L553.95,160.26 L554.05,160.2 L554.15,160.14 L554.25,160.08 L554.35,160.04 L554.45,159.99 L554.55,159.96 L554.65,159.94 L554.75,159.92 L554.85,159.92 L554.95,159.93 L555.05,159.95 L555.15,159.98 L555.25,160.02 L555.35,160.06 L555.45,160.12 L555.55,160.19 L555.65,160.26 L555.75,160.33 L555.85,160.41 L555.95,160.49 L556.05,160.57 L556.15,160.65 L556.25,160.72 L556.35,160.78 L556.45,160.84 L556.55,160.89 L556.65,160.93 L556.75,160.96 L556.85,160.98 L556.95,160.99 L557.05,160.99 L557.15,160.98 L557.25,160.95 L557.35,160.92 L557.45,160.88 L557.55,160.82 L557.65,160.77 L557.75,160.71 L557.85,160.64 L557.95,160.58 L558.05,160.51 L558.15,160.45 L558.25,160.39 L558.35,160.34 L558.45,160.29 L558.55,160.26 L558.65,160.23 L558.75,160.21 L558.85,160.2 L558.95,160.2 L559.05,160.22 L559.15,160.24 L559.25,160.28 L559.35,160.32 L559.45,160.38 L559.55,160.44 L559.65,160.5 L559.75,160.57 L559.85,160.64 L559.95,160.72 L560.05,160.79 L560.15,160.86 L560.25,160.92 L560.35,160.98 L560.45,161.03 L560.55,161.08 L560.65,161.11 L560.75,161.13 L560.85,161.15 L560.95,161.15 L561.05,161.14 L561.15,161.12 L561.25,161.08 L561.35,161.04 L561.45,160.99 L561.55,160.93 L561.65,160.87 L561.75,160.8 L561.85,160.73 L561.95,160.66 L562.05,160.59 L562.15,160.52 L562.25,160.46 L562.35,160.4 L562.45,160.35 L562.55,160.3 L562.65,160.27 L562.75,160.24 L562.85,160.23 L562.95,160.23 L563.05,160.24 L563.15,160.26 L563.25,160.29 L563.35,160.32 L563.45,160.37 L563.55,160.43 L563.65,160.49 L563.75,160.55 L563.85,160.61 L563.95,160.68 L564.05,160.75 L564.15,160.81 L564.25,160.87 L564.35,160.92 L564.45,160.96 L564.55,161 L564.65,161.02 L564.75,161.04 L564.85,161.04 L564.95,161.04 L565.05,161.02 L565.15,160.99 L565.25,160.95 L565.35,160.9 L565.45,160.84 L565.55,160.78 L565.65,160.71 L565.75,160.63 L565.85,160.56 L565.95,160.48 L566.05,160.4 L566.15,160.33 L566.25,160.26 L566.35,160.19 L566.45,160.14 L566.55,160.09 L566.65,160.05 L566.75,160.02 L566.85,160 L566.95,159.99 L567.05,160 L567.15,160.01 L567.25,160.04 L567.35,160.07 L567.45,160.11 L567.55,160.16 L567.65,160.22 L567.75,160.27 L567.85,160.34 L567.95,160.4 L568.05,160.46 L568.15,160.51 L568.25,160.56 L568.35,160.61 L568.45,160.65 L568.55,160.68 L568.65,160.7 L568.75,160.71 L568.85,160.7 L568.95,160.69 L569.05,160.67 L569.15,160.63 L569.25,160.59 L569.35,160.53 L569.45,160.47 L569.55,160.4 L569.65,160.32 L569.75,160.24 L569.85,160.16 L569.95,160.08 L570.05,160 L570.15,159.92 L570.25,159.85 L570.35,159.78 L570.45,159.72 L570.55,159.67 L570.65,159.62 L570.75,159.59 L570.85,159.57 L570.95,159.56 L571.05,159.56 L571.15,159.58 L571.25,159.6 L571.35,159.63 L571.45,159.67 L571.55,159.72 L571.65,159.77 L571.75,159.82 L571.85,159.88 L571.95,159.94 L572.05,160 L572.15,160.05 L572.25,160.1 L572.35,160.14 L572.45,160.18 L572.55,160.2 L572.65,160.22 L572.75,160.22 L572.85,160.22 L572.95,160.2 L573.05,160.17 L573.15,160.14 L573.25,160.09 L573.35,160.03 L573.45,159.96 L573.55,159.89 L573.65,159.81 L573.75,159.73 L573.85,159.65 L573.95,159.57 L574.05,159.48 L574.15,159.4 L574.25,159.33 L574.35,159.26 L574.45,159.2 L574.55,159.15 L574.65,159.11 L574.75,159.08 L574.85,159.06 L574.95,159.05 L575.05,159.05 L575.15,159.07 L575.25,159.09 L575.35,159.12 L575.45,159.16 L575.55,159.21 L575.65,159.26 L575.75,159.32 L575.85,159.38 L575.95,159.43 L576.05,159.49 L576.15,159.54 L576.25,159.59 L576.35,159.64 L576.45,159.67 L576.55,159.7 L576.65,159.71 L576.75,159.72 L576.85,159.71 L576.95,159.7 L577.05,159.67 L577.15,159.63 L577.25,159.58 L577.35,159.53 L577.45,159.46 L577.55,159.39 L577.65,159.31 L577.75,159.23 L577.85,159.15 L577.95,159.07 L578.05,158.99 L578.15,158.92 L578.25,158.84 L578.35,158.78 L578.45,158.72 L578.55,158.68 L578.65,158.64 L578.75,158.61 L578.85,158.6 L578.95,158.59 L579.05,158.6 L579.15,158.62 L579.25,158.64 L579.35,158.68 L579.45,158.72 L579.55,158.78 L579.65,158.83 L579.75,158.89 L579.85,158.95 L579.95,159.02 L580.05,159.08 L580.15,159.13 L580.25,159.18 L580.35,159.23 L580.45,159.27 L580.55,159.3 L580.65,159.32 L580.75,159.33 L580.85,159.32 L580.95,159.31 L581.05,159.29 L581.15,159.25 L581.25,159.21 L581.35,159.15 L581.45,159.09 L581.55,159.03 L581.65,158.95 L581.75,158.88 L581.85,158.8 L581.95,158.73 L582.05,158.65 L582.15,158.58 L582.25,158.52 L582.35,158.46 L582.45,158.41 L582.55,158.37 L582.65,158.34 L582.75,158.32 L582.85,158.31 L582.95,158.31 L583.05,158.32 L583.15,158.35 L583.25,158.38 L583.35,158.42 L583.45,158.47 L583.55,158.53 L583.65,158.6 L583.75,158.66 L583.85,158.73 L583.95,158.8 L584.05,158.86 L584.15,158.93 L584.25,158.98 L584.35,159.03 L584.45,159.08 L584.55,159.11 L584.65,159.14 L584.75,159.15 L584.85,159.15 L584.95,159.14 L585.05,159.13 L585.15,159.1 L585.25,159.06 L585.35,159.01 L585.45,158.96 L585.55,158.89 L585.65,158.83 L585.75,158.76 L585.85,158.69 L585.95,158.62 L586.05,158.55 L586.15,158.49 L586.25,158.43 L586.35,158.38 L586.45,158.34 L586.55,158.3 L586.65,158.28 L586.75,158.27 L586.85,158.27 L586.95,158.28 L587.05,158.3 L587.15,158.33 L587.25,158.37 L587.35,158.42 L587.45,158.48 L587.55,158.55 L587.65,158.62 L587.75,158.69 L587.85,158.76 L587.95,158.84 L588.05,158.91 L588.15,158.98 L588.25,159.04 L588.35,159.1 L588.45,159.15 L588.55,159.19 L588.65,159.22 L588.75,159.24 L588.85,159.25 L588.95,159.24 L589.05,159.23 L589.15,159.21 L589.25,159.17 L589.35,159.13 L589.45,159.08 L589.55,159.03 L589.65,158.97 L589.75,158.9 L589.85,158.84 L589.95,158.78 L590.05,158.72 L590.15,158.66 L590.25,158.61 L590.35,158.56 L590.45,158.53 L590.55,158.5 L590.65,158.49 L590.75,158.48 L590.85,158.49 L590.95,158.51 L591.05,158.53 L591.15,158.57 L591.25,158.62 L591.35,158.68 L591.45,158.74 L591.55,158.82 L591.65,158.89 L591.75,158.97 L591.85,159.05 L591.95,159.13 L592.05,159.21 L592.15,159.28 L592.25,159.35 L592.35,159.41 L592.45,159.47 L592.55,159.51 L592.65,159.54 L592.75,159.57 L592.85,159.58 L592.95,159.58 L593.05,159.57 L593.15,159.55 L593.25,159.52 L593.35,159.48 L593.45,159.44 L593.55,159.39 L593.65,159.33 L593.75,159.27 L593.85,159.21 L593.95,159.16 L594.05,159.1 L594.15,159.05 L594.25,159 L594.35,158.96 L594.45,158.93 L594.55,158.91 L594.65,158.9 L594.75,158.9 L594.85,158.91 L594.95,158.93 L595.05,158.97 L595.15,159.01 L595.25,159.06 L595.35,159.13 L595.45,159.2 L595.55,159.27 L595.65,159.35 L595.75,159.43 L595.85,159.52 L595.95,159.6 L596.05,159.68 L596.15,159.76 L596.25,159.83 L596.35,159.89 L596.45,159.94 L596.55,159.99 L596.65,160.03 L596.75,160.05 L596.85,160.06 L596.95,160.07 L597.05,160.06 L597.15,160.04 L597.25,160.01 L597.35,159.97 L597.45,159.93 L597.55,159.88 L597.65,159.82 L597.75,159.77 L597.85,159.71 L597.95,159.65 L598.05,159.6 L598.15,159.55 L598.25,159.5 L598.35,159.47 L598.45,159.44 L598.55,159.42 L598.65,159.41 L598.75,159.41 L598.85,159.43 L598.95,159.45 L599.05,159.48 L599.15,159.53 L599.25,159.58 L599.35,159.65 L599.45,159.72 L599.55,159.79 L599.65,159.87 L599.75,159.96 L599.85,160.04 L599.95,160.12 L600.05,160.2 L600.15,160.28 L600.25,160.35 L600.35,160.41 L600.45,160.46 L600.55,160.5 L600.65,160.54 L600.75,160.56 L600.85,160.57 L600.95,160.57 L601.05,160.56 L601.15,160.54 L601.25,160.51 L601.35,160.47 L601.45,160.42 L601.55,160.37 L601.65,160.31 L601.75,160.25 L601.85,160.19 L601.95,160.13 L602.05,160.08 L602.15,160.03 L602.25,159.98 L602.35,159.94 L602.45,159.91 L602.55,159.89 L602.65,159.88 L602.75,159.88 L602.85,159.89 L602.95,159.92 L603.05,159.95 L603.15,159.99 L603.25,160.04 L603.35,160.11 L603.45,160.17 L603.55,160.25 L603.65,160.32 L603.75,160.4 L603.85,160.48 L603.95,160.56 L604.05,160.64 L604.15,160.71 L604.25,160.77 L604.35,160.83 L604.45,160.88 L604.55,160.91 L604.65,160.94 L604.75,160.96 L604.85,160.96 L604.95,160.96 L605.05,160.94 L605.15,160.91 L605.25,160.88 L605.35,160.83 L605.45,160.78 L605.55,160.72 L605.65,160.66 L605.75,160.6 L605.85,160.53 L605.95,160.47 L606.05,160.41 L606.15,160.35 L606.25,160.3 L606.35,160.26 L606.45,160.23 L606.55,160.2 L606.65,160.19 L606.75,160.18 L606.85,160.19 L606.95,160.21 L607.05,160.24 L607.15,160.28 L607.25,160.32 L607.35,160.38 L607.45,160.44 L607.55,160.51 L607.65,160.58 L607.75,160.66 L607.85,160.73 L607.95,160.8 L608.05,160.87 L608.15,160.93 L608.25,160.99 L608.35,161.04 L608.45,161.08 L608.55,161.11 L608.65,161.13 L608.75,161.14 L608.85,161.14 L608.95,161.13 L609.05,161.1 L609.15,161.07 L609.25,161.03 L609.35,160.97 L609.45,160.92 L609.55,160.85 L609.65,160.78 L609.75,160.71 L609.85,160.64 L609.95,160.57 L610.05,160.5 L610.15,160.44 L610.25,160.39 L610.35,160.34 L610.45,160.3 L610.55,160.27 L610.65,160.25 L610.75,160.24 L610.85,160.24 L610.95,160.25 L611.05,160.28 L611.15,160.31 L611.25,160.35 L611.35,160.4 L611.45,160.46 L611.55,160.52 L611.65,160.58 L611.75,160.65 L611.85,160.72 L611.95,160.78 L612.05,160.85 L612.15,160.9 L612.25,160.95 L612.35,161 L612.45,161.03 L612.55,161.05 L612.65,161.06 L612.75,161.07 L612.85,161.06 L612.95,161.03 L613.05,161 L613.15,160.96 L613.25,160.91 L613.35,160.85 L613.45,160.78 L613.55,160.71 L613.65,160.64 L613.75,160.56 L613.85,160.48 L613.95,160.41 L614.05,160.33 L614.15,160.27 L614.25,160.2 L614.35,160.15 L614.45,160.11 L614.55,160.07 L614.65,160.05 L614.75,160.03 L614.85,160.03 L614.95,160.04 L615.05,160.05 L615.15,160.08 L615.25,160.12 L615.35,160.16 L615.45,160.22 L615.55,160.27 L615.65,160.33 L615.75,160.39 L615.85,160.45 L615.95,160.51 L616.05,160.57 L616.15,160.62 L616.25,160.66 L616.35,160.7 L616.45,160.73 L616.55,160.74 L616.65,160.75 L616.75,160.74 L616.85,160.73 L616.95,160.7 L617.05,160.66 L617.15,160.61 L617.25,160.56 L617.35,160.49 L617.45,160.42 L617.55,160.34 L617.65,160.26 L617.75,160.18 L617.85,160.1 L617.95,160.02 L618.05,159.94 L618.15,159.87 L618.25,159.81 L618.35,159.75 L618.45,159.7 L618.55,159.66 L618.65,159.63 L618.75,159.62 L618.85,159.61 L618.95,159.62 L619.05,159.63 L619.15,159.66 L619.25,159.69 L619.35,159.73 L619.45,159.78 L619.55,159.84 L619.65,159.89 L619.75,159.95 L619.85,160.01 L619.95,160.06 L620.05,160.12 L620.15,160.16 L620.25,160.2 L620.35,160.24 L620.45,160.26 L620.55,160.27 L620.65,160.27 L620.75,160.27 L620.85,160.25 L620.95,160.21 L621.05,160.17 L621.15,160.12 L621.25,160.06 L621.35,159.99 L621.45,159.92 L621.55,159.84 L621.65,159.76 L621.75,159.67 L621.85,159.59 L621.95,159.51 L622.05,159.43 L622.15,159.36 L622.25,159.29 L622.35,159.24 L622.45,159.19 L622.55,159.15 L622.65,159.12 L622.75,159.11 L622.85,159.1 L622.95,159.11 L623.05,159.12 L623.15,159.15 L623.25,159.18 L623.35,159.23 L623.45,159.28 L623.55,159.33 L623.65,159.39 L623.75,159.44 L623.85,159.5 L623.95,159.56 L624.05,159.61 L624.15,159.66 L624.25,159.7 L624.35,159.73 L624.45,159.75 L624.55,159.76 L624.65,159.77 L624.75,159.76 L624.85,159.74 L624.95,159.7 L625.05,159.66 L625.15,159.61 L625.25,159.55 L625.35,159.49 L625.45,159.41 L625.55,159.33 L625.65,159.25 L625.75,159.17 L625.85,159.09 L625.95,159.01 L626.05,158.94 L626.15,158.87 L626.25,158.8 L626.35,158.75 L626.45,158.7 L626.55,158.67 L626.65,158.65 L626.75,158.63 L626.85,158.63 L626.95,158.64 L627.05,158.66 L627.15,158.69 L627.25,158.73 L627.35,158.78 L627.45,158.83 L627.55,158.89 L627.65,158.95 L627.75,159.01 L627.85,159.07 L627.95,159.13 L628.05,159.18 L628.15,159.23 L628.25,159.28 L628.35,159.31 L628.45,159.34 L628.55,159.35 L628.65,159.36 L628.75,159.35 L628.85,159.33 L628.95,159.31 L629.05,159.27 L629.15,159.22 L629.25,159.16 L629.35,159.1 L629.45,159.03 L629.55,158.96 L629.65,158.88 L629.75,158.8 L629.85,158.73 L629.95,158.65 L630.05,158.58 L630.15,158.52 L630.25,158.46 L630.35,158.41 L630.45,158.38 L630.55,158.35 L630.65,158.33 L630.75,158.32 L630.85,158.33 L630.95,158.35 L631.05,158.37 L631.15,158.41 L631.25,158.45 L631.35,158.51 L631.45,158.57 L631.55,158.63 L631.65,158.7 L631.75,158.76 L631.85,158.83 L631.95,158.89 L632.05,158.95 L632.15,159.01 L632.25,159.06 L632.35,159.1 L632.45,159.13 L632.55,159.15 L632.65,159.16 L632.75,159.16 L632.85,159.14 L632.95,159.12 L633.05,159.09 L633.15,159.05 L633.25,159 L633.35,158.94 L633.45,158.87 L633.55,158.81 L633.65,158.74 L633.75,158.67 L633.85,158.6 L633.95,158.53 L634.05,158.47 L634.15,158.41 L634.25,158.36 L634.35,158.32 L634.45,158.29 L634.55,158.27 L634.65,158.26 L634.75,158.26 L634.85,158.27 L634.95,158.3 L635.05,158.33 L635.15,158.38 L635.25,158.43 L635.35,158.49 L635.45,158.56 L635.55,158.63 L635.65,158.7 L635.75,158.77 L635.85,158.85 L635.95,158.92 L636.05,158.98 L636.15,159.05 L636.25,159.1 L636.35,159.14 L636.45,159.18 L636.55,159.21 L636.65,159.22 L636.75,159.23 L636.85,159.22 L636.95,159.2 L637.05,159.17 L637.15,159.14 L637.25,159.09 L637.35,159.04 L637.45,158.98 L637.55,158.92 L637.65,158.86 L637.75,158.79 L637.85,158.73 L637.95,158.67 L638.05,158.61 L638.15,158.56 L638.25,158.52 L638.35,158.49 L638.45,158.47 L638.55,158.45 L638.65,158.45 L638.75,158.46 L638.85,158.48 L638.95,158.51 L639.05,158.55 L639.15,158.6 L639.25,158.66 L639.35,158.73 L639.45,158.8 L639.55,158.88 L639.65,158.96 L639.75,159.04 L639.85,159.12 L639.95,159.19 L640.05,159.27 L640.15,159.33 L640.25,159.39 L640.35,159.44 L640.45,159.48 L640.55,159.51 L640.65,159.53 L640.75,159.54 L640.85,159.54 L640.95,159.52 L641.05,159.5 L641.15,159.47 L641.25,159.43 L641.35,159.38 L641.45,159.33 L641.55,159.27 L641.65,159.21 L641.75,159.15 L641.85,159.09 L641.95,159.04 L642.05,158.99 L642.15,158.94 L642.25,158.9 L642.35,158.88 L642.45,158.86 L642.55,158.85 L642.65,158.85 L642.75,158.87 L642.85,158.89 L642.95,158.93 L643.05,158.98 L643.15,159.03 L643.25,159.1 L643.35,159.17 L643.45,159.25 L643.55,159.33 L643.65,159.41 L643.75,159.49 L643.85,159.58 L643.95,159.65 L644.05,159.73 L644.15,159.8 L644.25,159.86 L644.35,159.91 L644.45,159.95 L644.55,159.98 L644.65,160 L644.75,160.01 L644.85,160.01 L644.95,160 L645.05,159.98 L645.15,159.95 L645.25,159.91 L645.35,159.86 L645.45,159.81 L645.55,159.75 L645.65,159.7 L645.75,159.64 L645.85,159.58 L645.95,159.53 L646.05,159.48 L646.15,159.44 L646.25,159.4 L646.35,159.38 L646.45,159.36 L646.55,159.36 L646.65,159.36 L646.75,159.38 L646.85,159.41 L646.95,159.45 L647.05,159.49 L647.15,159.55 L647.25,159.62 L647.35,159.69 L647.45,159.77 L647.55,159.85 L647.65,159.93 L647.75,160.02 L647.85,160.1 L647.95,160.18 L648.05,160.25 L648.15,160.32 L648.25,160.38 L648.35,160.43 L648.45,160.47 L648.55,160.5 L648.65,160.52 L648.75,160.52 L648.85,160.52 L648.95,160.51 L649.05,160.48 L649.15,160.45 L649.25,160.41 L649.35,160.36 L649.45,160.3 L649.55,160.25 L649.65,160.19 L649.75,160.13 L649.85,160.07 L649.95,160.02 L650.05,159.97 L650.15,159.92 L650.25,159.89 L650.35,159.86 L650.45,159.84 L650.55,159.84 L650.65,159.84 L650.75,159.86 L650.85,159.88 L650.95,159.92 L651.05,159.97 L651.15,160.02 L651.25,160.09 L651.35,160.16 L651.45,160.23 L651.55,160.31 L651.65,160.39 L651.75,160.47 L651.85,160.55 L651.95,160.62 L652.05,160.69 L652.15,160.76 L652.25,160.81 L652.35,160.86 L652.45,160.89 L652.55,160.92 L652.65,160.93 L652.75,160.93 L652.85,160.92 L652.95,160.9 L653.05,160.87 L653.15,160.84 L653.25,160.79 L653.35,160.74 L653.45,160.68 L653.55,160.62 L653.65,160.55 L653.75,160.49 L653.85,160.43 L653.95,160.37 L654.05,160.31 L654.15,160.27 L654.25,160.23 L654.35,160.2 L654.45,160.17 L654.55,160.16 L654.65,160.16 L654.75,160.18 L654.85,160.2 L654.95,160.23 L655.05,160.27 L655.15,160.32 L655.25,160.38 L655.35,160.45 L655.45,160.52 L655.55,160.59 L655.65,160.67 L655.75,160.74 L655.85,160.81 L655.95,160.88 L656.05,160.94 L656.15,161 L656.25,161.05 L656.35,161.09 L656.45,161.11 L656.55,161.13 L656.65,161.14 L656.75,161.13 L656.85,161.12 L656.95,161.09 L657.05,161.05 L657.15,161.01 L657.25,160.95 L657.35,160.89 L657.45,160.83 L657.55,160.76 L657.65,160.69 L657.75,160.62 L657.85,160.55 L657.95,160.49 L658.05,160.43 L658.15,160.37 L658.25,160.33 L658.35,160.29 L658.45,160.27 L658.55,160.25 L658.65,160.24 L658.75,160.25 L658.85,160.27 L658.95,160.29 L659.05,160.33 L659.15,160.38 L659.25,160.43 L659.35,160.49 L659.45,160.55 L659.55,160.62 L659.65,160.69 L659.75,160.75 L659.85,160.82 L659.95,160.88 L660.05,160.94 L660.15,160.98 L660.25,161.02 L660.35,161.06 L660.45,161.08 L660.55,161.09 L660.65,161.08 L660.75,161.07 L660.85,161.05 L660.95,161.01 L661.05,160.97 L661.15,160.91 L661.25,160.85 L661.35,160.79 L661.45,160.71 L661.55,160.64 L661.65,160.56 L661.75,160.49 L661.85,160.41 L661.95,160.34 L662.05,160.27 L662.15,160.22 L662.25,160.16 L662.35,160.12 L662.45,160.09 L662.55,160.07 L662.65,160.06 L662.75,160.06 L662.85,160.07 L662.95,160.1 L663.05,160.13 L663.15,160.17 L663.25,160.22 L663.35,160.27 L663.45,160.33 L663.55,160.39 L663.65,160.45 L663.75,160.51 L663.85,160.57 L663.95,160.62 L664.05,160.67 L664.15,160.72 L664.25,160.75 L664.35,160.77 L664.45,160.79 L664.55,160.79 L664.65,160.78 L664.75,160.76 L664.85,160.73 L664.95,160.69 L665.05,160.64 L665.15,160.58 L665.25,160.51 L665.35,160.44 L665.45,160.36 L665.55,160.28 L665.65,160.2 L665.75,160.12 L665.85,160.04 L665.95,159.97 L666.05,159.9 L666.15,159.83 L666.25,159.78 L666.35,159.73 L666.45,159.7 L666.55,159.68 L666.65,159.66 L666.75,159.66 L666.85,159.67 L666.95,159.69 L667.05,159.72 L667.15,159.75 L667.25,159.8 L667.35,159.85 L667.45,159.9 L667.55,159.96 L667.65,160.02 L667.75,160.08 L667.85,160.13 L667.95,160.18 L668.05,160.23 L668.15,160.27 L668.25,160.3 L668.35,160.32 L668.45,160.33 L668.55,160.32 L668.65,160.31 L668.75,160.29 L668.85,160.25 L668.95,160.21 L669.05,160.16 L669.15,160.09 L669.25,160.02 L669.35,159.95 L669.45,159.87 L669.55,159.78 L669.65,159.7 L669.75,159.62 L669.85,159.54 L669.95,159.46 L670.05,159.39 L670.15,159.33 L670.25,159.27 L670.35,159.23 L670.45,159.19 L670.55,159.17 L670.65,159.16 L670.75,159.15 L670.85,159.16 L670.95,159.18 L671.05,159.21 L671.15,159.25 L671.25,159.29 L671.35,159.34 L671.45,159.4 L671.55,159.46 L671.65,159.51 L671.75,159.57 L671.85,159.63 L671.95,159.68 L672.05,159.72 L672.15,159.76 L672.25,159.79 L672.35,159.81 L672.45,159.81 L672.55,159.81 L672.65,159.8 L672.75,159.78 L672.85,159.74 L672.95,159.7 L673.05,159.64 L673.15,159.58 L673.25,159.51 L673.35,159.43 L673.45,159.35 L673.55,159.27 L673.65,159.19 L673.75,159.11 L673.85,159.03 L673.95,158.96 L674.05,158.89 L674.15,158.83 L674.25,158.78 L674.35,158.74 L674.45,158.7 L674.55,158.68 L674.65,158.67 L674.75,158.68 L674.85,158.69 L674.95,158.71 L675.05,158.74 L675.15,158.78 L675.25,158.83 L675.35,158.89 L675.45,158.94 L675.55,159 L675.65,159.07 L675.75,159.13 L675.85,159.18 L675.95,159.24 L676.05,159.28 L676.15,159.32 L676.25,159.35 L676.35,159.38 L676.45,159.39 L676.55,159.39 L676.65,159.38 L676.75,159.36 L676.85,159.33 L676.95,159.28 L677.05,159.23 L677.15,159.17 L677.25,159.11 L677.35,159.04 L677.45,158.96 L677.55,158.88 L677.65,158.81 L677.75,158.73 L677.85,158.66 L677.95,158.59 L678.05,158.52 L678.15,158.47 L678.25,158.42 L678.35,158.39 L678.45,158.36 L678.55,158.35 L678.65,158.35 L678.75,158.35 L678.85,158.37 L678.95,158.4 L679.05,158.44 L679.15,158.49 L679.25,158.54 L679.35,158.6 L679.45,158.67 L679.55,158.73 L679.65,158.8 L679.75,158.86 L679.85,158.93 L679.95,158.99 L680.05,159.04 L680.15,159.08 L680.25,159.12 L680.35,159.15 L680.45,159.16 L680.55,159.17 L680.65,159.16 L680.75,159.15 L680.85,159.12 L680.95,159.08 L681.05,159.04 L681.15,158.98 L681.25,158.92 L681.35,158.86 L681.45,158.79 L681.55,158.72 L681.65,158.64 L681.75,158.57 L681.85,158.51 L681.95,158.45 L682.05,158.39 L682.15,158.34 L682.25,158.31 L682.35,158.28 L682.45,158.26 L682.55,158.25 L682.65,158.26 L682.75,158.27 L682.85,158.3 L682.95,158.34 L683.05,158.38 L683.15,158.44 L683.25,158.5 L683.35,158.57 L683.45,158.64 L683.55,158.71 L683.65,158.78 L683.75,158.86 L683.85,158.93 L683.95,158.99 L684.05,159.05 L684.15,159.1 L684.25,159.14 L684.35,159.17 L684.45,159.19 L684.55,159.21 L684.65,159.21 L684.75,159.19 L684.85,159.17 L684.95,159.14 L685.05,159.1 L685.15,159.05 L685.25,159 L685.35,158.94 L685.45,158.88 L685.55,158.81 L685.65,158.75 L685.75,158.68 L685.85,158.62 L685.95,158.57 L686.05,158.52 L686.15,158.48 L686.25,158.45 L686.35,158.43 L686.45,158.42 L686.55,158.42 L686.65,158.43 L686.75,158.46 L686.85,158.49 L686.95,158.54 L687.05,158.59 L687.15,158.65 L687.25,158.72 L687.35,158.79 L687.45,158.87 L687.55,158.95 L687.65,159.03 L687.75,159.11 L687.85,159.18 L687.95,159.25 L688.05,159.31 L688.15,159.37 L688.25,159.42 L688.35,159.45 L688.45,159.48 L688.55,159.49 L688.65,159.5 L688.75,159.49 L688.85,159.47 L688.95,159.45 L689.05,159.41 L689.15,159.37 L689.25,159.32 L689.35,159.26 L689.45,159.21 L689.55,159.15 L689.65,159.09 L689.75,159.03 L689.85,158.97 L689.95,158.92 L690.05,158.88 L690.15,158.85 L690.25,158.82 L690.35,158.81 L690.45,158.8 L690.55,158.81 L690.65,158.83 L690.75,158.86 L690.85,158.9 L690.95,158.95 L691.05,159 L691.15,159.07 L691.25,159.14 L691.35,159.22 L691.45,159.3 L691.55,159.39 L691.65,159.47 L691.75,159.55 L691.85,159.63 L691.95,159.7 L692.05,159.77 L692.15,159.82 L692.25,159.87 L692.35,159.91 L692.45,159.94 L692.55,159.96 L692.65,159.96 L692.75,159.96 L692.85,159.94 L692.95,159.92 L693.05,159.88 L693.15,159.84 L693.25,159.79 L693.35,159.74 L693.45,159.68 L693.55,159.63 L693.65,159.57 L693.75,159.51 L693.85,159.46 L693.95,159.41 L694.05,159.37 L694.15,159.34 L694.25,159.32 L694.35,159.31 L694.45,159.31 L694.55,159.32 L694.65,159.34 L694.75,159.37 L694.85,159.41 L694.95,159.46 L695.05,159.52 L695.15,159.59 L695.25,159.66 L695.35,159.74 L695.45,159.82 L695.55,159.91 L695.65,159.99 L695.75,160.07 L695.85,160.15 L695.95,160.22 L696.05,160.29 L696.15,160.34 L696.25,160.39 L696.35,160.43 L696.45,160.45 L696.55,160.47 L696.65,160.47 L696.75,160.47 L696.85,160.45 L696.95,160.42 L697.05,160.39 L697.15,160.34 L697.25,160.29 L697.35,160.24 L697.45,160.18 L697.55,160.12 L697.65,160.06 L697.75,160.01 L697.85,159.95 L697.95,159.91 L698.05,159.87 L698.15,159.83 L698.25,159.81 L698.35,159.8 L698.45,159.8 L698.55,159.8 L698.65,159.82 L698.75,159.85 L698.85,159.89 L698.95,159.94 L699.05,160 L699.15,160.07 L699.25,160.14 L699.35,160.22 L699.45,160.3 L699.55,160.38 L699.65,160.46 L699.75,160.54 L699.85,160.61 L699.95,160.68 L700.05,160.74 L700.15,160.79 L700.25,160.83 L700.35,160.87 L700.45,160.89 L700.55,160.9 L700.65,160.9 L700.75,160.89 L700.85,160.86 L700.95,160.83 L701.05,160.79 L701.15,160.74 L701.25,160.69 L701.35,160.63 L701.45,160.57 L701.55,160.5 L701.65,160.44 L701.75,160.38 L701.85,160.32 L701.95,160.27 L702.05,160.23 L702.15,160.19 L702.25,160.16 L702.35,160.15 L702.45,160.14 L702.55,160.15 L702.65,160.16 L702.75,160.19 L702.85,160.22 L702.95,160.27 L703.05,160.32 L703.15,160.39 L703.25,160.45 L703.35,160.52 L703.45,160.6 L703.55,160.67 L703.65,160.75 L703.75,160.82 L703.85,160.89 L703.95,160.95 L704.05,161 L704.15,161.05 L704.25,161.08 L704.35,161.11 L704.45,161.12 L704.55,161.13 L704.65,161.12 L704.75,161.1 L704.85,161.07 L704.95,161.03 L705.05,160.99 L705.15,160.93 L705.25,160.87 L705.35,160.8 L705.45,160.73 L705.55,160.66 L705.65,160.6 L705.75,160.53 L705.85,160.47 L705.95,160.41 L706.05,160.36 L706.15,160.32 L706.25,160.28 L706.35,160.26 L706.45,160.25 L706.55,160.25 L706.65,160.26 L706.75,160.28 L706.85,160.31 L706.95,160.35 L707.05,160.4 L707.15,160.46 L707.25,160.52 L707.35,160.58 L707.45,160.65 L707.55,160.72 L707.65,160.79 L707.75,160.85 L707.85,160.91 L707.95,160.97 L708.05,161.01 L708.15,161.05 L708.25,161.08 L708.35,161.1 L708.45,161.1 L708.55,161.1 L708.65,161.08 L708.75,161.06 L708.85,161.02 L708.95,160.97 L709.05,160.92 L709.15,160.85 L709.25,160.79 L709.35,160.71 L709.45,160.64 L709.55,160.56 L709.65,160.49 L709.75,160.41 L709.85,160.34 L709.95,160.28 L710.05,160.23 L710.15,160.18 L710.25,160.14 L710.35,160.11 L710.45,160.1 L710.55,160.09 L710.65,160.1 L710.75,160.11 L710.85,160.14 L710.95,160.17 L711.05,160.21 L711.15,160.27 L711.25,160.32 L711.35,160.38 L711.45,160.44 L711.55,160.5 L711.65,160.57 L711.75,160.62 L711.85,160.68 L711.95,160.73 L712.05,160.77 L712.15,160.8 L712.25,160.82 L712.35,160.83 L712.45,160.83 L712.55,160.82 L712.65,160.79 L712.75,160.76 L712.85,160.72 L712.95,160.66 L713.05,160.6 L713.15,160.53 L713.25,160.46 L713.35,160.38 L713.45,160.3 L713.55,160.22 L713.65,160.14 L713.75,160.06 L713.85,159.99 L713.95,159.92 L714.05,159.86 L714.15,159.81 L714.25,159.77 L714.35,159.74 L714.45,159.72 L714.55,159.71 L714.65,159.71 L714.75,159.72 L714.85,159.75 L714.95,159.78 L715.05,159.82 L715.15,159.86 L715.25,159.92 L715.35,159.97 L715.45,160.03 L715.55,160.09 L715.65,160.15 L715.75,160.2 L715.85,160.25 L715.95,160.29 L716.05,160.33 L716.15,160.35 L716.25,160.37 L716.35,160.38 L716.45,160.37 L716.55,160.36 L716.65,160.33 L716.75,160.29 L716.85,160.25 L716.95,160.19 L717.05,160.12 L717.15,160.05 L717.25,159.97 L717.35,159.89 L717.45,159.81 L717.55,159.73 L717.65,159.64 L717.75,159.56 L717.85,159.49 L717.95,159.42 L718.05,159.36 L718.15,159.31 L718.25,159.27 L718.35,159.24 L718.45,159.22 L718.55,159.21 L718.65,159.21 L718.75,159.22 L718.85,159.24 L718.95,159.27 L719.05,159.31 L719.15,159.36 L719.25,159.41 L719.35,159.47 L719.45,159.53 L719.55,159.58 L719.65,159.64 L719.75,159.69 L719.85,159.74 L719.95,159.78 L720.05,159.82 L720.15,159.84 L720.25,159.86 L720.35,159.86 L720.45,159.86 L720.55,159.84 L720.65,159.81 L720.75,159.78 L720.85,159.73 L720.95,159.67 L721.05,159.61 L721.15,159.53 L721.25,159.46 L721.35,159.38 L721.45,159.29 L721.55,159.21 L721.65,159.13 L721.75,159.05 L721.85,158.98 L721.95,158.91 L722.05,158.86 L722.15,158.81 L722.25,158.77 L722.35,158.74 L722.45,158.72 L722.55,158.72 L722.65,158.72 L722.75,158.74 L722.85,158.76 L722.95,158.8 L723.05,158.84 L723.15,158.89 L723.25,158.95 L723.35,159 L723.45,159.06 L723.55,159.12 L723.65,159.18 L723.75,159.24 L723.85,159.29 L723.95,159.33 L724.05,159.37 L724.15,159.4 L724.25,159.42 L724.35,159.43 L724.45,159.42 L724.55,159.41 L724.65,159.38 L724.75,159.35 L724.85,159.3 L724.95,159.25 L725.05,159.18 L725.15,159.12 L725.25,159.04 L725.35,158.97 L725.45,158.89 L725.55,158.81 L725.65,158.73 L725.75,158.66 L725.85,158.59 L725.95,158.53 L726.05,158.48 L726.15,158.44 L726.25,158.4 L726.35,158.38 L726.45,158.37 L726.55,158.37 L726.65,158.38 L726.75,158.4 L726.85,158.43 L726.95,158.48 L727.05,158.52 L727.15,158.58 L727.25,158.64 L727.35,158.7 L727.45,158.77 L727.55,158.84 L727.65,158.9 L727.75,158.96 L727.85,159.02 L727.95,159.07 L728.05,159.11 L728.15,159.14 L728.25,159.16 L728.35,159.18 L728.45,159.18 L728.55,159.17 L728.65,159.15 L728.75,159.12 L728.85,159.08 L728.95,159.03 L729.05,158.97 L729.15,158.91 L729.25,158.84 L729.35,158.77 L729.45,158.7 L729.55,158.62 L729.65,158.56 L729.75,158.49 L729.85,158.43 L729.95,158.38 L730.05,158.33 L730.15,158.29 L730.25,158.27 L730.35,158.25 L730.45,158.25 L730.55,158.26 L730.65,158.28 L730.75,158.31 L730.85,158.35 L730.95,158.39 L731.05,158.45 L731.15,158.51 L731.25,158.58 L731.35,158.65 L731.45,158.73 L731.55,158.8 L731.65,158.87 L731.75,158.94 L731.85,159 L731.95,159.05 L732.05,159.1 L732.15,159.14 L732.25,159.17 L732.35,159.18 L732.45,159.19 L732.55,159.19 L732.65,159.17 L732.75,159.15 L732.85,159.11 L732.95,159.07 L733.05,159.02 L733.15,158.96 L733.25,158.9 L733.35,158.83 L733.45,158.77 L733.55,158.7 L733.65,158.64 L733.75,158.58 L733.85,158.53 L733.95,158.48 L734.05,158.45 L734.15,158.42 L734.25,158.4 L734.35,158.39 L734.45,158.4 L734.55,158.41 L734.65,158.44 L734.75,158.47 L734.85,158.52 L734.95,158.58 L735.05,158.64 L735.15,158.71 L735.25,158.78 L735.35,158.86 L735.45,158.94 L735.55,159.02 L735.65,159.1 L735.75,159.17 L735.85,159.24 L735.95,159.3 L736.05,159.35 L736.15,159.39 L736.25,159.42 L736.35,159.45 L736.45,159.46 L736.55,159.46 L736.65,159.45 L736.75,159.43 L736.85,159.4 L736.95,159.36 L737.05,159.31 L737.15,159.26 L737.25,159.2 L737.35,159.14 L737.45,159.08 L737.55,159.02 L737.65,158.97 L737.75,158.91 L737.85,158.87 L737.95,158.83 L738.05,158.79 L738.15,158.77 L738.25,158.76 L738.35,158.76 L738.45,158.77 L738.55,158.79 L738.65,158.82 L738.75,158.86 L738.85,158.92 L738.95,158.98 L739.05,159.05 L739.15,159.12 L739.25,159.2 L739.35,159.28 L739.45,159.36 L739.55,159.45 L739.65,159.53 L739.75,159.6 L739.85,159.67 L739.95,159.74 L740.05,159.79 L740.15,159.84 L740.25,159.87 L740.35,159.89 L740.45,159.91 L740.55,159.91 L740.65,159.9 L740.75,159.88 L740.85,159.85 L740.95,159.82 L741.05,159.77 L741.15,159.72 L741.25,159.67 L741.35,159.61 L741.45,159.55 L741.55,159.5 L741.65,159.44 L741.75,159.39 L741.85,159.35 L741.95,159.31 L742.05,159.28 L742.15,159.26 L742.25,159.25 L742.35,159.26 L742.45,159.27 L742.55,159.29 L742.65,159.33 L742.75,159.37 L742.85,159.43 L742.95,159.49 L743.05,159.56 L743.15,159.64 L743.25,159.72 L743.35,159.8 L743.45,159.88 L743.55,159.97 L743.65,160.05 L743.75,160.12 L743.85,160.19 L743.95,160.25 L744.05,160.31 L744.15,160.35 L744.25,160.39 L744.35,160.41 L744.45,160.42 L744.55,160.42 L744.65,160.41 L744.75,160.39 L744.85,160.36 L744.95,160.33 L745.05,160.28 L745.15,160.23 L745.25,160.17 L745.35,160.12 L745.45,160.06 L745.55,160 L745.65,159.94 L745.75,159.89 L745.85,159.85 L745.95,159.81 L746.05,159.78 L746.15,159.76 L746.25,159.75 L746.35,159.75 L746.45,159.76 L746.55,159.79 L746.65,159.82 L746.75,159.87 L746.85,159.92 L746.95,159.98 L747.05,160.05 L747.15,160.12 L747.25,160.2 L747.35,160.28 L747.45,160.36 L747.55,160.44 L747.65,160.52 L747.75,160.59 L747.85,160.66 L747.95,160.72 L748.05,160.77 L748.15,160.81 L748.25,160.84 L748.35,160.86 L748.45,160.86 L748.55,160.86 L748.65,160.85 L748.75,160.82 L748.85,160.79 L748.95,160.74 L749.05,160.69 L749.15,160.64 L749.25,160.58 L749.35,160.52 L749.45,160.45 L749.55,160.39 L749.65,160.33 L749.75,160.28 L749.85,160.23 L749.95,160.19 L750.05,160.15 L750.15,160.13 L750.25,160.12 L750.35,160.12 L750.45,160.12 L750.55,160.14 L750.65,160.17 L750.75,160.21 L750.85,160.26 L750.95,160.32 L751.05,160.39 L751.15,160.46 L751.25,160.53 L751.35,160.6 L751.45,160.68 L751.55,160.75 L751.65,160.83 L751.75,160.89 L751.85,160.95 L751.95,161 L752.05,161.05 L752.15,161.08 L752.25,161.1 L752.35,161.11 L752.45,161.12 L752.55,161.1 L752.65,161.08 L752.75,161.05 L752.85,161.01 L752.95,160.96 L753.05,160.9 L753.15,160.84 L753.25,160.77 L753.35,160.71 L753.45,160.64 L753.55,160.57 L753.65,160.5 L753.75,160.44 L753.85,160.39 L753.95,160.34 L754.05,160.3 L754.15,160.28 L754.25,160.26 L754.35,160.25 L754.45,160.25 L754.55,160.27 L754.65,160.29 L754.75,160.33 L754.85,160.37 L754.95,160.42 L755.05,160.48 L755.15,160.55 L755.25,160.61 L755.35,160.68 L755.45,160.75 L755.55,160.82 L755.65,160.88 L755.75,160.94 L755.85,160.99 L755.95,161.04 L756.05,161.07 L756.15,161.1 L756.25,161.11 L756.35,161.12 L756.45,161.11 L756.55,161.09 L756.65,161.06 L756.75,161.02 L756.85,160.97 L756.95,160.92 L757.05,160.85 L757.15,160.78 L757.25,160.71 L757.35,160.63 L757.45,160.56 L757.55,160.48 L757.65,160.41 L757.75,160.35 L757.85,160.29 L757.95,160.23 L758.05,160.19 L758.15,160.16 L758.25,160.13 L758.35,160.12 L758.45,160.12 L758.55,160.13 L758.65,160.15 L758.75,160.18 L758.85,160.21 L758.95,160.26 L759.05,160.31 L759.15,160.37 L759.25,160.43 L759.35,160.49 L759.45,160.56 L759.55,160.62 L759.65,160.68 L759.75,160.73 L759.85,160.77 L759.95,160.81 L760.05,160.84 L760.15,160.86 L760.25,160.87 L760.35,160.86 L760.45,160.85 L760.55,160.82 L760.65,160.79 L760.75,160.74 L760.85,160.68 L760.95,160.62 L761.05,160.55 L761.15,160.48 L761.25,160.4 L761.35,160.32 L761.45,160.23 L761.55,160.16 L761.65,160.08 L761.75,160.01 L761.85,159.94 L761.95,159.89 L762.05,159.84 L762.15,159.8 L762.25,159.78 L762.35,159.76 L762.45,159.75 L762.55,159.76 L762.65,159.78 L762.75,159.8 L762.85,159.84 L762.95,159.88 L763.05,159.93 L763.15,159.98 L763.25,160.04 L763.35,160.1 L763.45,160.16 L763.55,160.21 L763.65,160.27 L763.75,160.31 L763.85,160.35 L763.95,160.39 L764.05,160.41 L764.15,160.43 L764.25,160.43 L764.35,160.42 L764.45,160.4 L764.55,160.37 L764.65,160.33 L764.75,160.28 L764.85,160.22 L764.95,160.15 L765.05,160.08 L765.15,160 L765.25,159.92 L765.35,159.83 L765.45,159.75 L765.55,159.67 L765.65,159.59 L765.75,159.52 L765.85,159.45 L765.95,159.4 L766.05,159.35 L766.15,159.31 L766.25,159.28 L766.35,159.26 L766.45,159.26 L766.55,159.26 L766.65,159.28 L766.75,159.3 L766.85,159.34 L766.95,159.38 L767.05,159.43 L767.15,159.48 L767.25,159.54 L767.35,159.6 L767.45,159.65 L767.55,159.71 L767.65,159.76 L767.75,159.81 L767.85,159.85 L767.95,159.88 L768.05,159.9 L768.15,159.91 L768.25,159.91 L768.35,159.91 L768.45,159.88 L768.55,159.85 L768.65,159.81 L768.75,159.76 L768.85,159.7 L768.95,159.63 L769.05,159.56 L769.15,159.48 L769.25,159.4 L769.35,159.32 L769.45,159.23 L769.55,159.15 L769.65,159.08 L769.75,159.01 L769.85,158.94 L769.95,158.89 L770.05,158.84 L770.15,158.8 L770.25,158.78 L770.35,158.76 L770.45,158.76 L770.55,158.77 L770.65,158.79 L770.75,158.82 L770.85,158.85 L770.95,158.9 L771.05,158.95 L771.15,159.01 L771.25,159.06 L771.35,159.12 L771.45,159.18 L771.55,159.24 L771.65,159.3 L771.75,159.34 L771.85,159.39 L771.95,159.42 L772.05,159.44 L772.15,159.46 L772.25,159.46 L772.35,159.46 L772.45,159.44 L772.55,159.41 L772.65,159.37 L772.75,159.32 L772.85,159.26 L772.95,159.2 L773.05,159.13 L773.15,159.05 L773.25,158.97 L773.35,158.89 L773.45,158.82 L773.55,158.74 L773.65,158.67 L773.75,158.6 L773.85,158.54 L773.95,158.49 L774.05,158.45 L774.15,158.42 L774.25,158.4 L774.35,158.39 L774.45,158.4 L774.55,158.41 L774.65,158.44 L774.75,158.47 L774.85,158.51 L774.95,158.56 L775.05,158.62 L775.15,158.68 L775.25,158.75 L775.35,158.81 L775.45,158.88 L775.55,158.94 L775.65,159 L775.75,159.05 L775.85,159.1 L775.95,159.14 L776.05,159.16 L776.15,159.18 L776.25,159.19 L776.35,159.19 L776.45,159.17 L776.55,159.15 L776.65,159.12 L776.75,159.07 L776.85,159.02 L776.95,158.96 L777.05,158.89 L777.15,158.82 L777.25,158.75 L777.35,158.68 L777.45,158.61 L777.55,158.54 L777.65,158.47 L777.75,158.41 L777.85,158.36 L777.95,158.32 L778.05,158.29 L778.15,158.26 L778.25,158.25 L778.35,158.25 L778.45,158.26 L778.55,158.28 L778.65,158.32 L778.75,158.36 L778.85,158.41 L778.95,158.47 L779.05,158.53 L779.15,158.6 L779.25,158.67 L779.35,158.74 L779.45,158.81 L779.55,158.88 L779.65,158.95 L779.75,159.01 L779.85,159.06 L779.95,159.1 L780.05,159.14 L780.15,159.16 L780.25,159.17 L780.35,159.18 L780.45,159.17 L780.55,159.15 L780.65,159.12 L780.75,159.08 L780.85,159.04 L780.95,158.98 L781.05,158.92 L781.15,158.86 L781.25,158.79 L781.35,158.73 L781.45,158.66 L781.55,158.6 L781.65,158.54 L781.75,158.49 L781.85,158.45 L781.95,158.41 L782.05,158.39 L782.15,158.37 L782.25,158.37 L782.35,158.37 L782.45,158.39 L782.55,158.42 L782.65,158.46 L782.75,158.51 L782.85,158.57 L782.95,158.63 L783.05,158.7 L783.15,158.78 L783.25,158.86 L783.35,158.93 L783.45,159.01 L783.55,159.09 L783.65,159.16 L783.75,159.22 L783.85,159.28 L783.95,159.33 L784.05,159.37 L784.15,159.4 L784.25,159.41 L784.35,159.42 L784.45,159.42 L784.55,159.4 L784.65,159.38 L784.75,159.35 L784.85,159.3 L784.95,159.26 L785.05,159.2 L785.15,159.14 L785.25,159.08 L785.35,159.02 L785.45,158.96 L785.55,158.91 L785.65,158.85 L785.75,158.81 L785.85,158.77 L785.95,158.74 L786.05,158.72 L786.15,158.71 L786.25,158.72 L786.35,158.73 L786.45,158.75 L786.55,158.79 L786.65,158.83 L786.75,158.89 L786.85,158.95 L786.95,159.02 L787.05,159.1 L787.15,159.18 L787.25,159.26 L787.35,159.34 L787.45,159.42 L787.55,159.5 L787.65,159.58 L787.75,159.64 L787.85,159.7 L787.95,159.76 L788.05,159.8 L788.15,159.83 L788.25,159.85 L788.35,159.86 L788.45,159.86 L788.55,159.85 L788.65,159.82 L788.75,159.79 L788.85,159.75 L788.95,159.71 L789.05,159.66 L789.15,159.6 L789.25,159.54 L789.35,159.48 L789.45,159.43 L789.55,159.37 L789.65,159.33 L789.75,159.28 L789.85,159.25 L789.95,159.22 L790.05,159.21 L790.15,159.2 L790.25,159.21 L790.35,159.22 L790.45,159.25 L790.55,159.29 L790.65,159.34 L790.75,159.39 L790.85,159.46 L790.95,159.53 L791.05,159.61 L791.15,159.69 L791.25,159.77 L791.35,159.86 L791.45,159.94 L791.55,160.02 L791.65,160.09 L791.75,160.16 L791.85,160.22 L791.95,160.27 L792.05,160.31 L792.15,160.34 L792.25,160.36 L792.35,160.37 L792.45,160.37 L792.55,160.36 L792.65,160.33 L792.75,160.3 L792.85,160.26 L792.95,160.21 L793.05,160.16 L793.15,160.11 L793.25,160.05 L793.35,159.99 L793.45,159.93 L793.55,159.88 L793.65,159.83 L793.75,159.79 L793.85,159.75 L793.95,159.73 L794.05,159.71 L794.15,159.7 L794.25,159.71 L794.35,159.73 L794.45,159.75 L794.55,159.79 L794.65,159.84 L794.75,159.89 L794.85,159.96 L794.95,160.03 L795.05,160.11 L795.15,160.18 L795.25,160.27 L795.35,160.35 L795.45,160.43 L795.55,160.5 L795.65,160.57 L795.75,160.64 L795.85,160.7 L795.95,160.74 L796.05,160.78 L796.15,160.81 L796.25,160.82 L796.35,160.83 L796.45,160.82 L796.55,160.8 L796.65,160.77 L796.75,160.74 L796.85,160.69 L796.95,160.64 L797.05,160.59 L797.15,160.52 L797.25,160.46 L797.35,160.4 L797.45,160.34 L797.55,160.28 L797.65,160.23 L797.75,160.18 L797.85,160.15 L797.95,160.12 L798.05,160.1 L798.15,160.09 L798.25,160.09 L798.35,160.1 L798.45,160.13 L798.55,160.16 L798.65,160.2 L798.75,160.26 L798.85,160.32 L798.95,160.38 L799.05,160.46 L799.15,160.53 L799.25,160.61 L799.35,160.68 L799.45,160.76 L799.55,160.83 L799.65,160.89 L799.75,160.95 L799.85,161 L799.95,161.04 L800.05,161.07 L800.15,161.09 L800.25,161.1 L800.35,161.1 L800.45,161.09 L800.55,161.06 L800.65,161.03 L800.75,160.98 L800.85,160.93 L800.95,160.87 L801.05,160.81 L801.15,160.74 L801.25,160.68 L801.35,160.61 L801.45,160.54 L801.55,160.48 L801.65,160.42 L801.75,160.37 L801.85,160.33 L801.95,160.29 L802.05,160.27 L802.15,160.25 L802.25,160.25 L802.35,160.26 L802.45,160.27 L802.55,160.3 L802.65,160.34 L802.75,160.39 L802.85,160.44 L802.95,160.5 L803.05,160.57 L803.15,160.64 L803.25,160.71 L803.35,160.78 L803.45,160.84 L803.55,160.91 L803.65,160.97 L803.75,161.02 L803.85,161.06 L803.95,161.09 L804.05,161.12 L804.15,161.13 L804.25,161.13 L804.35,161.12 L804.45,161.1 L804.55,161.06 L804.65,161.02 L804.75,160.97 L804.85,160.91 L804.95,160.85 L805.05,160.78 L805.15,160.7 L805.25,160.63 L805.35,160.55 L805.45,160.48 L805.55,160.41 L805.65,160.35 L805.75,160.29 L805.85,160.24 L805.95,160.2 L806.05,160.17 L806.15,160.15 L806.25,160.14 L806.35,160.15 L806.45,160.16 L806.55,160.18 L806.65,160.21 L806.75,160.26 L806.85,160.31 L806.95,160.36 L807.05,160.42 L807.15,160.48 L807.25,160.55 L807.35,160.61 L807.45,160.67 L807.55,160.73 L807.65,160.78 L807.75,160.82 L807.85,160.86 L807.95,160.88 L808.05,160.9 L808.15,160.9 L808.25,160.9 L808.35,160.88 L808.45,160.85 L808.55,160.81 L808.65,160.76 L808.75,160.7 L808.85,160.64 L808.95,160.57 L809.05,160.49 L809.15,160.41 L809.25,160.33 L809.35,160.25 L809.45,160.17 L809.55,160.1 L809.65,160.03 L809.75,159.97 L809.85,159.91 L809.95,159.87 L810.05,159.84 L810.15,159.81 L810.25,159.8 L810.35,159.8 L810.45,159.81 L810.55,159.83 L810.65,159.86 L810.75,159.9 L810.85,159.94 L810.95,159.99 L811.05,160.05 L811.15,160.1 L811.25,160.16 L811.35,160.22 L811.45,160.28 L811.55,160.33 L811.65,160.38 L811.75,160.41 L811.85,160.45 L811.95,160.47 L812.05,160.48 L812.15,160.48 L812.25,160.47 L812.35,160.44 L812.45,160.41 L812.55,160.37 L812.65,160.31 L812.75,160.25 L812.85,160.18 L812.95,160.11 L813.05,160.03 L813.15,159.94 L813.25,159.86 L813.35,159.78 L813.45,159.7 L813.55,159.62 L813.65,159.55 L813.75,159.49 L813.85,159.43 L813.95,159.39 L814.05,159.35 L814.15,159.33 L814.25,159.31 L814.35,159.31 L814.45,159.32 L814.55,159.34 L814.65,159.37 L814.75,159.4 L814.85,159.45 L814.95,159.5 L815.05,159.55 L815.15,159.61 L815.25,159.67 L815.35,159.72 L815.45,159.78 L815.55,159.83 L815.65,159.87 L815.75,159.91 L815.85,159.94 L815.95,159.96 L816.05,159.97 L816.15,159.96 L816.25,159.95 L816.35,159.93 L816.45,159.89 L816.55,159.85 L816.65,159.79 L816.75,159.73 L816.85,159.66 L816.95,159.58 L817.05,159.5 L817.15,159.42 L817.25,159.34 L817.35,159.26 L817.45,159.18 L817.55,159.1 L817.65,159.03 L817.75,158.97 L817.85,158.92 L817.95,158.87 L818.05,158.84 L818.15,158.82 L818.25,158.81 L818.35,158.81 L818.45,158.82 L818.55,158.84 L818.65,158.87 L818.75,158.91 L818.85,158.96 L818.95,159.01 L819.05,159.07 L819.15,159.13 L819.25,159.19 L819.35,159.25 L819.45,159.3 L819.55,159.35 L819.65,159.4 L819.75,159.44 L819.85,159.47 L819.95,159.49 L820.05,159.5 L820.15,159.5 L820.25,159.49 L820.35,159.47 L820.45,159.43 L820.55,159.39 L820.65,159.34 L820.75,159.28 L820.85,159.21 L820.95,159.14 L821.05,159.06 L821.15,158.98 L821.25,158.9 L821.35,158.82 L821.45,158.75 L821.55,158.68 L821.65,158.61 L821.75,158.56 L821.85,158.51 L821.95,158.47 L822.05,158.44 L822.15,158.43 L822.25,158.42 L822.35,158.43 L822.45,158.45 L822.55,158.47 L822.65,158.51 L822.75,158.55 L822.85,158.61 L822.95,158.66 L823.05,158.73 L823.15,158.79 L823.25,158.85 L823.35,158.92 L823.45,158.98 L823.55,159.04 L823.65,159.09 L823.75,159.13 L823.85,159.16 L823.95,159.19 L824.05,159.2 L824.15,159.21 L824.25,159.2 L824.35,159.18 L824.45,159.15 L824.55,159.12 L824.65,159.07 L824.75,159.01 L824.85,158.95 L824.95,158.88 L825.05,158.81 L825.15,158.74 L825.25,158.67 L825.35,158.59 L825.45,158.53 L825.55,158.46 L825.65,158.4 L825.75,158.35 L825.85,158.31 L825.95,158.28 L826.05,158.26 L826.15,158.25 L826.25,158.26 L826.35,158.27 L826.45,158.29 L826.55,158.33 L826.65,158.37 L826.75,158.42 L826.85,158.48 L826.95,158.55" fill="none" stroke="#0000ff" stroke-width="2.6" stroke-linejoin="round"/>
<path clip-path="url(#cd)" d="M486.65,379.4 L487.15,379.41 L487.65,379.41 L488.15,379.41 L488.65,379.42 L489.15,379.42 L489.65,379.42 L490.15,379.43 L490.65,379.43 L491.15,379.44 L491.65,379.45 L492.15,379.45 L492.65,379.46 L493.15,379.47 L493.65,379.48 L494.15,379.49 L494.65,379.5 L495.15,379.51 L495.65,379.52 L496.15,379.53 L496.65,379.54 L497.15,379.55 L497.65,379.56 L498.15,379.58 L498.65,379.59 L499.15,379.6 L499.65,379.62 L500.15,379.63 L500.65,379.65 L501.15,379.66 L501.65,379.68 L502.15,379.69 L502.65,379.71 L503.15,379.73 L503.65,379.74 L504.15,379.76 L504.65,379.78 L505.15,379.8 L505.65,379.82 L506.15,379.84 L506.65,379.86 L507.15,379.88 L507.65,379.9 L508.15,379.92 L508.65,379.94 L509.15,379.97 L509.65,379.99 L510.15,380.01 L510.65,380.04 L511.15,380.06 L511.65,380.08 L512.15,380.11 L512.65,380.13 L513.15,380.16 L513.65,380.18 L514.15,380.21 L514.65,380.24 L515.15,380.26 L515.65,380.29 L516.15,380.32 L516.65,380.34 L517.15,380.37 L517.65,380.4 L518.15,380.43 L518.65,380.46 L519.15,380.49 L519.65,380.52 L520.15,380.55 L520.65,380.58 L521.15,380.61 L521.65,380.64 L522.15,380.67 L522.65,380.7 L523.15,380.73 L523.65,380.77 L524.15,380.8 L524.65,380.83 L525.15,380.86 L525.65,380.9 L526.15,380.93 L526.65,380.96 L527.15,381 L527.65,381.03 L528.15,381.07 L528.65,381.1 L529.15,381.13 L529.65,381.17 L530.15,381.2 L530.65,381.24 L531.15,381.27 L531.65,381.31 L532.15,381.35 L532.65,381.38 L533.15,381.42 L533.65,381.45 L534.15,381.49 L534.65,381.53 L535.15,381.56 L535.65,381.6 L536.15,381.64 L536.65,381.68 L537.15,381.71 L537.65,381.75 L538.15,381.79 L538.65,381.83 L539.15,381.86 L539.65,381.9 L540.15,381.94 L540.65,381.98 L541.15,382.01 L541.65,382.05 L542.15,382.09 L542.65,382.13 L543.15,382.17 L543.65,382.2 L544.15,382.24 L544.65,382.28 L545.15,382.32 L545.65,382.36 L546.15,382.4 L546.65,382.43 L547.15,382.47 L547.65,382.51 L548.15,382.55 L548.65,382.59 L549.15,382.63 L549.65,382.66 L550.15,382.7 L550.65,382.74 L551.15,382.78 L551.65,382.82 L552.15,382.85 L552.65,382.89 L553.15,382.93 L553.65,382.97 L554.15,383 L554.65,383.04 L555.15,383.08 L555.65,383.12 L556.15,383.15 L556.65,383.19 L557.15,383.23 L557.65,383.26 L558.15,383.3 L558.65,383.34 L559.15,383.37 L559.65,383.41 L560.15,383.45 L560.65,383.48 L561.15,383.52 L561.65,383.55 L562.15,383.59 L562.65,383.62 L563.15,383.66 L563.65,383.69 L564.15,383.73 L564.65,383.76 L565.15,383.8 L565.65,383.83 L566.15,383.86 L566.65,383.9 L567.15,383.93 L567.65,383.96 L568.15,384 L568.65,384.03 L569.15,384.06 L569.65,384.09 L570.15,384.12 L570.65,384.15 L571.15,384.18 L571.65,384.22 L572.15,384.25 L572.65,384.28 L573.15,384.31 L573.65,384.34 L574.15,384.36 L574.65,384.39 L575.15,384.42 L575.65,384.45 L576.15,384.48 L576.65,384.51 L577.15,384.53 L577.65,384.56 L578.15,384.59 L578.65,384.61 L579.15,384.64 L579.65,384.66 L580.15,384.69 L580.65,384.71 L581.15,384.74 L581.65,384.76 L582.15,384.78 L582.65,384.81 L583.15,384.83 L583.65,384.85 L584.15,384.87 L584.65,384.89 L585.15,384.92 L585.65,384.94 L586.15,384.96 L586.65,384.98 L587.15,385 L587.65,385.02 L588.15,385.03 L588.65,385.05 L589.15,385.07 L589.65,385.09 L590.15,385.1 L590.65,385.12 L591.15,385.14 L591.65,385.15 L592.15,385.17 L592.65,385.18 L593.15,385.2 L593.65,385.21 L594.15,385.22 L594.65,385.23 L595.15,385.25 L595.65,385.26 L596.15,385.27 L596.65,385.28 L597.15,385.29 L597.65,385.3 L598.15,385.31 L598.65,385.32 L599.15,385.33 L599.65,385.34 L600.15,385.34 L600.65,385.35 L601.15,385.36 L601.65,385.36 L602.15,385.37 L602.65,385.38 L603.15,385.38 L603.65,385.38 L604.15,385.39 L604.65,385.39 L605.15,385.39 L605.65,385.4 L606.15,385.4 L606.65,385.4 L607.15,385.4 L607.65,385.4 L608.15,385.4 L608.65,385.4 L609.15,385.4 L609.65,385.4 L610.15,385.39 L610.65,385.39 L611.15,385.39 L611.65,385.38 L612.15,385.38 L612.65,385.38 L613.15,385.37 L613.65,385.37 L614.15,385.36 L614.65,385.35 L615.15,385.35 L615.65,385.34 L616.15,385.33 L616.65,385.32 L617.15,385.31 L617.65,385.3 L618.15,385.29 L618.65,385.28 L619.15,385.27 L619.65,385.26 L620.15,385.25 L620.65,385.24 L621.15,385.22 L621.65,385.21 L622.15,385.2 L622.65,385.18 L623.15,385.17 L623.65,385.15 L624.15,385.14 L624.65,385.12 L625.15,385.11 L625.65,385.09 L626.15,385.07 L626.65,385.06 L627.15,385.04 L627.65,385.02 L628.15,385 L628.65,384.98 L629.15,384.96 L629.65,384.94 L630.15,384.92 L630.65,384.9 L631.15,384.88 L631.65,384.86 L632.15,384.83 L632.65,384.81 L633.15,384.79 L633.65,384.76 L634.15,384.74 L634.65,384.72 L635.15,384.69 L635.65,384.67 L636.15,384.64 L636.65,384.62 L637.15,384.59 L637.65,384.56 L638.15,384.54 L638.65,384.51 L639.15,384.48 L639.65,384.46 L640.15,384.43 L640.65,384.4 L641.15,384.37 L641.65,384.34 L642.15,384.31 L642.65,384.28 L643.15,384.25 L643.65,384.22 L644.15,384.19 L644.65,384.16 L645.15,384.13 L645.65,384.1 L646.15,384.07 L646.65,384.03 L647.15,384 L647.65,383.97 L648.15,383.94 L648.65,383.9 L649.15,383.87 L649.65,383.84 L650.15,383.8 L650.65,383.77 L651.15,383.73 L651.65,383.7 L652.15,383.67 L652.65,383.63 L653.15,383.6 L653.65,383.56 L654.15,383.53 L654.65,383.49 L655.15,383.45 L655.65,383.42 L656.15,383.38 L656.65,383.35 L657.15,383.31 L657.65,383.27 L658.15,383.24 L658.65,383.2 L659.15,383.16 L659.65,383.12 L660.15,383.09 L660.65,383.05 L661.15,383.01 L661.65,382.97 L662.15,382.94 L662.65,382.9 L663.15,382.86 L663.65,382.82 L664.15,382.79 L664.65,382.75 L665.15,382.71 L665.65,382.67 L666.15,382.63 L666.65,382.6 L667.15,382.56 L667.65,382.52 L668.15,382.48 L668.65,382.44 L669.15,382.4 L669.65,382.37 L670.15,382.33 L670.65,382.29 L671.15,382.25 L671.65,382.21 L672.15,382.17 L672.65,382.14 L673.15,382.1 L673.65,382.06 L674.15,382.02 L674.65,381.98 L675.15,381.95 L675.65,381.91 L676.15,381.87 L676.65,381.83 L677.15,381.8 L677.65,381.76 L678.15,381.72 L678.65,381.68 L679.15,381.65 L679.65,381.61 L680.15,381.57 L680.65,381.54 L681.15,381.5 L681.65,381.46 L682.15,381.43 L682.65,381.39 L683.15,381.35 L683.65,381.32 L684.15,381.28 L684.65,381.25 L685.15,381.21 L685.65,381.18 L686.15,381.14 L686.65,381.11 L687.15,381.07 L687.65,381.04 L688.15,381 L688.65,380.97 L689.15,380.94 L689.65,380.9 L690.15,380.87 L690.65,380.84 L691.15,380.8 L691.65,380.77 L692.15,380.74 L692.65,380.71 L693.15,380.68 L693.65,380.65 L694.15,380.62 L694.65,380.58 L695.15,380.55 L695.65,380.52 L696.15,380.49 L696.65,380.46 L697.15,380.44 L697.65,380.41 L698.15,380.38 L698.65,380.35 L699.15,380.32 L699.65,380.29 L700.15,380.27 L700.65,380.24 L701.15,380.21 L701.65,380.19 L702.15,380.16 L702.65,380.14 L703.15,380.11 L703.65,380.09 L704.15,380.06 L704.65,380.04 L705.15,380.02 L705.65,379.99 L706.15,379.97 L706.65,379.95 L707.15,379.93 L707.65,379.91 L708.15,379.88 L708.65,379.86 L709.15,379.84 L709.65,379.82 L710.15,379.8 L710.65,379.78 L711.15,379.77 L711.65,379.75 L712.15,379.73 L712.65,379.71 L713.15,379.7 L713.65,379.68 L714.15,379.66 L714.65,379.65 L715.15,379.63 L715.65,379.62 L716.15,379.6 L716.65,379.59 L717.15,379.58 L717.65,379.57 L718.15,379.55 L718.65,379.54 L719.15,379.53 L719.65,379.52 L720.15,379.51 L720.65,379.5 L721.15,379.49 L721.65,379.48 L722.15,379.47 L722.65,379.46 L723.15,379.46 L723.65,379.45 L724.15,379.44 L724.65,379.44 L725.15,379.43 L725.65,379.42 L726.15,379.42 L726.65,379.42 L727.15,379.41 L727.65,379.41 L728.15,379.41 L728.65,379.4 L729.15,379.4 L729.65,379.4 L730.15,379.4 L730.65,379.4 L731.15,379.4 L731.65,379.4 L732.15,379.4 L732.65,379.4 L733.15,379.41 L733.65,379.41 L734.15,379.41 L734.65,379.42 L735.15,379.42 L735.65,379.42 L736.15,379.43 L736.65,379.43 L737.15,379.44 L737.65,379.45 L738.15,379.45 L738.65,379.46 L739.15,379.47 L739.65,379.48 L740.15,379.49 L740.65,379.5 L741.15,379.51 L741.65,379.52 L742.15,379.53 L742.65,379.54 L743.15,379.55 L743.65,379.56 L744.15,379.58 L744.65,379.59 L745.15,379.6 L745.65,379.62 L746.15,379.63 L746.65,379.65 L747.15,379.66 L747.65,379.68 L748.15,379.69 L748.65,379.71 L749.15,379.73 L749.65,379.74 L750.15,379.76 L750.65,379.78 L751.15,379.8 L751.65,379.82 L752.15,379.84 L752.65,379.86 L753.15,379.88 L753.65,379.9 L754.15,379.92 L754.65,379.94 L755.15,379.97 L755.65,379.99 L756.15,380.01 L756.65,380.04 L757.15,380.06 L757.65,380.08 L758.15,380.11 L758.65,380.13 L759.15,380.16 L759.65,380.18 L760.15,380.21 L760.65,380.24 L761.15,380.26 L761.65,380.29 L762.15,380.32 L762.65,380.34 L763.15,380.37 L763.65,380.4 L764.15,380.43 L764.65,380.46 L765.15,380.49 L765.65,380.52 L766.15,380.55 L766.65,380.58 L767.15,380.61 L767.65,380.64 L768.15,380.67 L768.65,380.7 L769.15,380.73 L769.65,380.77 L770.15,380.8 L770.65,380.83 L771.15,380.86 L771.65,380.9 L772.15,380.93 L772.65,380.96 L773.15,381 L773.65,381.03 L774.15,381.07 L774.65,381.1 L775.15,381.13 L775.65,381.17 L776.15,381.2 L776.65,381.24 L777.15,381.27 L777.65,381.31 L778.15,381.35 L778.65,381.38 L779.15,381.42 L779.65,381.45 L780.15,381.49 L780.65,381.53 L781.15,381.56 L781.65,381.6 L782.15,381.64 L782.65,381.68 L783.15,381.71 L783.65,381.75 L784.15,381.79 L784.65,381.83 L785.15,381.86 L785.65,381.9 L786.15,381.94 L786.65,381.98 L787.15,382.01 L787.65,382.05 L788.15,382.09 L788.65,382.13 L789.15,382.17 L789.65,382.2 L790.15,382.24 L790.65,382.28 L791.15,382.32 L791.65,382.36 L792.15,382.4 L792.65,382.43 L793.15,382.47 L793.65,382.51 L794.15,382.55 L794.65,382.59 L795.15,382.63 L795.65,382.66 L796.15,382.7 L796.65,382.74 L797.15,382.78 L797.65,382.82 L798.15,382.85 L798.65,382.89 L799.15,382.93 L799.65,382.97 L800.15,383 L800.65,383.04 L801.15,383.08 L801.65,383.12 L802.15,383.15 L802.65,383.19 L803.15,383.23 L803.65,383.26 L804.15,383.3 L804.65,383.34 L805.15,383.37 L805.65,383.41 L806.15,383.45 L806.65,383.48 L807.15,383.52 L807.65,383.55 L808.15,383.59 L808.65,383.62 L809.15,383.66 L809.65,383.69 L810.15,383.73 L810.65,383.76 L811.15,383.8 L811.65,383.83 L812.15,383.86 L812.65,383.9 L813.15,383.93 L813.65,383.96 L814.15,384 L814.65,384.03 L815.15,384.06 L815.65,384.09 L816.15,384.12 L816.65,384.15 L817.15,384.18 L817.65,384.22 L818.15,384.25 L818.65,384.28 L819.15,384.31 L819.65,384.34 L820.15,384.36 L820.65,384.39 L821.15,384.42 L821.65,384.45 L822.15,384.48 L822.65,384.51 L823.15,384.53 L823.65,384.56 L824.15,384.59 L824.65,384.61 L825.15,384.64 L825.65,384.66 L826.15,384.69 L826.65,384.71" fill="none" stroke="#0000ff" stroke-width="1.9" stroke-linejoin="round"/>
<path clip-path="url(#cd)" d="M486.65,482.48 L487.15,482.41 L487.65,482.1 L488.15,481.28 L488.65,480.12 L489.15,478.93 L489.65,477.83 L490.15,476.72 L490.65,475.48 L491.15,474.2 L491.65,473.16 L492.15,472.56 L492.65,472.17 L493.15,471.53 L493.65,470.32 L494.15,468.65 L494.65,466.96 L495.15,465.58 L495.65,464.53 L496.15,463.52 L496.65,462.36 L497.15,461.1 L497.65,459.95 L498.15,458.92 L498.65,457.8 L499.15,456.37 L499.65,454.64 L500.15,452.97 L500.65,451.75 L501.15,451.05 L501.65,450.52 L502.15,449.74 L502.65,448.55 L503.15,447.18 L503.65,445.97 L504.15,445.06 L504.65,444.26 L505.15,443.37 L505.65,442.38 L506.15,441.51 L506.65,440.85 L507.15,440.23 L507.65,439.26 L508.15,437.78 L508.65,436.01 L509.15,434.4 L509.65,433.27 L510.15,432.51 L510.65,431.7 L511.15,430.57 L511.65,429.14 L512.15,427.69 L512.65,426.42 L513.15,425.19 L513.65,423.82 L514.15,422.3 L514.65,420.87 L515.15,419.81 L515.65,419.05 L516.15,418.24 L516.65,416.98 L517.15,415.25 L517.65,413.4 L518.15,411.87 L518.65,410.78 L519.15,409.89 L519.65,408.88 L520.15,407.67 L520.65,406.42 L521.15,405.31 L521.65,404.26 L522.15,403.03 L522.65,401.54 L523.15,399.99 L523.65,398.8 L524.15,398.17 L524.65,397.81 L525.15,397.19 L525.65,395.99 L526.15,394.39 L526.65,392.77 L527.15,391.43 L527.65,390.3 L528.15,389.15 L528.65,387.85 L529.15,386.55 L529.65,385.43 L530.15,384.47 L530.65,383.38 L531.15,381.91 L531.65,380.14 L532.15,378.45 L532.65,377.22 L533.15,376.46 L533.65,375.81 L534.15,374.87 L534.65,373.53 L535.15,372.03 L535.65,370.67 L536.15,369.48 L536.65,368.29 L537.15,366.97 L537.65,365.64 L538.15,364.57 L538.65,363.83 L539.15,363.17 L539.65,362.18 L540.15,360.7 L540.65,358.98 L541.15,357.48 L541.65,356.46 L542.15,355.79 L542.65,355.08 L543.15,354.11 L543.65,352.96 L544.15,351.85 L544.65,350.86 L545.15,349.82 L545.65,348.55 L546.15,347.13 L546.65,345.89 L547.15,345.11 L547.65,344.67 L548.15,344.17 L548.65,343.21 L549.15,341.81 L549.65,340.32 L550.15,339.12 L550.65,338.29 L551.15,337.59 L551.65,336.77 L552.15,335.85 L552.65,335 L553.15,334.32 L553.65,333.64 L554.15,332.67 L554.65,331.34 L555.15,329.96 L555.65,328.94 L556.15,328.45 L556.65,328.2 L557.15,327.75 L557.65,326.85 L558.15,325.67 L558.65,324.54 L559.15,323.67 L559.65,322.93 L560.15,322.12 L560.65,321.23 L561.15,320.45 L561.65,319.97 L562.15,319.65 L562.65,319.15 L563.15,318.18 L563.65,316.86 L564.15,315.64 L564.65,314.88 L565.15,314.56 L565.65,314.33 L566.15,313.83 L566.65,313.04 L567.15,312.17 L567.65,311.42 L568.15,310.76 L568.65,309.97 L569.15,309.01 L569.65,308.1 L570.15,307.54 L570.65,307.38 L571.15,307.29 L571.65,306.83 L572.15,305.87 L572.65,304.69 L573.15,303.74 L573.65,303.21 L574.15,302.96 L574.65,302.65 L575.15,302.16 L575.65,301.61 L576.15,301.18 L576.65,300.83 L577.15,300.32 L577.65,299.49 L578.15,298.5 L578.65,297.74 L579.15,297.48 L579.65,297.59 L580.15,297.61 L580.65,297.2 L581.15,296.38 L581.65,295.51 L582.15,294.89 L582.65,294.54 L583.15,294.23 L583.65,293.82 L584.15,293.39 L584.65,293.16 L585.15,293.15 L585.65,293.07 L586.15,292.63 L586.65,291.78 L587.15,290.88 L587.65,290.37 L588.15,290.36 L588.65,290.57 L589.15,290.59 L589.65,290.22 L590.15,289.65 L590.65,289.16 L591.15,288.83 L591.65,288.53 L592.15,288.08 L592.65,287.59 L593.15,287.32 L593.65,287.43 L594.15,287.73 L594.65,287.78 L595.15,287.35 L595.65,286.58 L596.15,285.92 L596.65,285.71 L597.15,285.89 L597.65,286.11 L598.15,286.11 L598.65,285.91 L599.15,285.73 L599.65,285.67 L600.15,285.58 L600.65,285.25 L601.15,284.71 L601.65,284.27 L602.15,284.25 L602.65,284.66 L603.15,285.12 L603.65,285.21 L604.15,284.81 L604.65,284.22 L605.15,283.84 L605.65,283.82 L606.15,283.98 L606.65,284.06 L607.15,284.04 L607.65,284.08 L608.15,284.32 L608.65,284.61 L609.15,284.66 L609.65,284.32 L610.15,283.82 L610.65,283.59 L611.15,283.89 L611.65,284.55 L612.15,285.11 L612.65,285.27 L613.15,285.1 L613.65,284.91 L614.15,284.92 L614.65,285.08 L615.15,285.19 L615.65,285.19 L616.15,285.26 L616.65,285.64 L617.15,286.25 L617.65,286.75 L618.15,286.81 L618.65,286.43 L619.15,286.04 L619.65,286.04 L620.15,286.54 L620.65,287.23 L621.15,287.74 L621.65,287.96 L622.15,288.09 L622.65,288.33 L623.15,288.66 L623.65,288.88 L624.15,288.9 L624.65,288.9 L625.15,289.21 L625.65,289.97 L626.15,290.9 L626.65,291.57 L627.15,291.72 L627.65,291.54 L628.15,291.48 L628.65,291.8 L629.15,292.43 L629.65,293.06 L630.15,293.54 L630.65,293.95 L631.15,294.5 L631.65,295.17 L632.15,295.73 L632.65,295.97 L633.15,295.97 L633.65,296.11 L634.15,296.74 L634.65,297.81 L635.15,298.93 L635.65,299.68 L636.15,299.99 L636.65,300.15 L637.15,300.51 L637.65,301.12 L638.15,301.8 L638.65,302.37 L639.15,302.9 L639.65,303.61 L640.15,304.57 L640.65,305.55 L641.15,306.2 L641.65,306.4 L642.15,306.44 L642.65,306.78 L643.15,307.64 L643.65,308.82 L644.15,309.9 L644.65,310.64 L645.15,311.13 L645.65,311.66 L646.15,312.34 L646.65,313.05 L647.15,313.61 L647.65,314.06 L648.15,314.69 L648.65,315.72 L649.15,317.01 L649.65,318.16 L650.15,318.83 L650.65,319.07 L651.15,319.3 L651.65,319.9 L652.15,320.92 L652.65,322.08 L653.15,323.08 L653.65,323.89 L654.15,324.71 L654.65,325.65 L655.15,326.6 L655.65,327.33 L656.15,327.78 L656.65,328.24 L657.15,329.07 L657.65,330.39 L658.15,331.87 L658.65,333.06 L659.15,333.76 L659.65,334.17 L660.15,334.69 L660.65,335.52 L661.15,336.55 L661.65,337.53 L662.15,338.38 L662.65,339.28 L663.15,340.37 L663.65,341.57 L664.15,342.56 L664.65,343.12 L665.15,343.42 L665.65,343.87 L666.15,344.82 L666.65,346.2 L667.15,347.6 L667.65,348.65 L668.15,349.33 L668.65,349.93 L669.15,350.69 L669.65,351.61 L670.15,352.48 L670.65,353.23 L671.15,354.03 L671.65,355.12 L672.15,356.53 L672.65,357.94 L673.15,358.95 L673.65,359.49 L674.15,359.88 L674.65,360.56 L675.15,361.73 L675.65,363.17 L676.15,364.51 L676.65,365.57 L677.15,366.5 L677.65,367.51 L678.15,368.63 L678.65,369.65 L679.15,370.43 L679.65,371.12 L680.15,372.07 L680.65,373.48 L681.15,375.17 L681.65,376.71 L682.15,377.76 L682.65,378.41 L683.15,379.07 L683.65,380.07 L684.15,381.44 L684.65,382.92 L685.15,384.29 L685.65,385.6 L686.15,387.03 L686.65,388.6 L687.15,390.1 L687.65,391.23 L688.15,392.01 L688.65,392.76 L689.15,393.88 L689.65,395.41 L690.15,397.02 L690.65,398.21 L691.15,398.88 L691.65,399.32 L692.15,399.94 L692.65,400.93 L693.15,402.11 L693.65,403.28 L694.15,404.45 L694.65,405.83 L695.15,407.52 L695.65,409.32 L696.15,410.83 L696.65,411.82 L697.15,412.52 L697.65,413.4 L698.15,414.78 L698.65,416.56 L699.15,418.33 L699.65,419.8 L700.15,420.99 L700.65,422.15 L701.15,423.42 L701.65,424.71 L702.15,425.83 L702.65,426.76 L703.15,427.78 L703.65,429.17 L704.15,430.89 L704.65,432.57 L705.15,433.81 L705.65,434.55 L706.15,435.14 L706.65,436 L707.15,437.27 L707.65,438.73 L708.15,440.07 L708.65,441.22 L709.15,442.34 L709.65,443.58 L710.15,444.86 L710.65,445.92 L711.15,446.65 L711.65,447.27 L712.15,448.2 L712.65,449.62 L713.15,451.32 L713.65,452.82 L714.15,453.85 L714.65,454.51 L715.15,455.18 L715.65,456.11 L716.15,457.26 L716.65,458.39 L717.15,459.41 L717.65,460.46 L718.15,461.72 L718.65,463.14 L719.15,464.42 L719.65,465.26 L720.15,465.73 L720.65,466.21 L721.15,467.12 L721.65,468.47 L722.15,469.91 L722.65,471.05 L723.15,471.78 L723.65,472.35 L724.15,473.03 L724.65,473.84 L725.15,474.58 L725.65,475.15 L726.15,475.66 L726.65,476.39 L727.15,477.42 L727.65,478.49 L728.15,479.2 L728.65,479.41 L729.15,479.33 L729.65,479.35 L730.15,479.7 L730.65,480.2 L731.15,480.49 L731.65,480.41 L732.15,480.08 L732.65,479.71 L733.15,479.4 L733.65,478.96 L734.15,478.26 L734.65,477.33 L735.15,476.43 L735.65,475.86 L736.15,475.55 L736.65,475.09 L737.15,474.12 L737.65,472.63 L738.15,470.98 L738.65,469.56 L739.15,468.47 L739.65,467.5 L740.15,466.45 L740.65,465.34 L741.15,464.38 L741.65,463.59 L742.15,462.77 L742.65,461.63 L743.15,460.1 L743.65,458.47 L744.15,457.19 L744.65,456.41 L745.15,455.89 L745.65,455.19 L746.15,454.05 L746.65,452.62 L747.15,451.23 L747.65,450.05 L748.15,448.97 L748.65,447.8 L749.15,446.53 L749.65,445.37 L750.15,444.53 L750.65,443.86 L751.15,443.01 L751.65,441.67 L752.15,439.96 L752.65,438.31 L753.15,437.1 L753.65,436.34 L754.15,435.69 L754.65,434.82 L755.15,433.68 L755.65,432.49 L756.15,431.41 L756.65,430.37 L757.15,429.16 L757.65,427.72 L758.15,426.29 L758.65,425.18 L759.15,424.43 L759.65,423.74 L760.15,422.66 L760.65,421.05 L761.15,419.18 L761.65,417.49 L762.15,416.2 L762.65,415.16 L763.15,414.1 L763.65,412.88 L764.15,411.65 L764.65,410.6 L765.15,409.65 L765.65,408.56 L766.15,407.13 L766.65,405.53 L767.15,404.14 L767.65,403.26 L768.15,402.75 L768.65,402.16 L769.15,401.12 L769.65,399.66 L770.15,398.09 L770.65,396.73 L771.15,395.58 L771.65,394.43 L772.15,393.14 L772.65,391.83 L773.15,390.71 L773.65,389.77 L774.15,388.74 L774.65,387.29 L775.15,385.39 L775.65,383.4 L776.15,381.76 L776.65,380.62 L777.15,379.72 L777.65,378.64 L778.15,377.23 L778.65,375.63 L779.15,374.13 L779.65,372.81 L780.15,371.5 L780.65,370.07 L781.15,368.62 L781.65,367.42 L782.15,366.64 L782.65,366.07 L783.15,365.29 L783.65,364.02 L784.15,362.39 L784.65,360.85 L785.15,359.73 L785.65,358.99 L786.15,358.31 L786.65,357.44 L787.15,356.41 L787.65,355.42 L788.15,354.55 L788.65,353.63 L789.15,352.46 L789.65,351.04 L790.15,349.72 L790.65,348.82 L791.15,348.38 L791.65,348.03 L792.15,347.31 L792.65,346.12 L793.15,344.72 L793.65,343.51 L794.15,342.62 L794.65,341.89 L795.15,341.08 L795.65,340.18 L796.15,339.37 L796.65,338.77 L797.15,338.23 L797.65,337.43 L798.15,336.21 L798.65,334.8 L799.15,333.64 L799.65,333 L800.15,332.73 L800.65,332.39 L801.15,331.67 L801.65,330.63 L802.15,329.56 L802.65,328.68 L803.15,327.91 L803.65,327.06 L804.15,326.09 L804.65,325.22 L805.15,324.68 L805.65,324.4 L806.15,324.03 L806.65,323.23 L807.15,321.98 L807.65,320.67 L808.15,319.74 L808.65,319.28 L809.15,319.02 L809.65,318.6 L810.15,317.92 L810.65,317.16 L811.15,316.51 L811.65,315.93 L812.15,315.21 L812.65,314.26 L813.15,313.28 L813.65,312.61 L814.15,312.4 L814.65,312.39 L815.15,312.12 L815.65,311.34 L816.15,310.22 L816.65,309.17 L817.15,308.48 L817.65,308.07 L818.15,307.66 L818.65,307.08 L819.15,306.45 L819.65,305.94 L820.15,305.56 L820.65,305.04 L821.15,304.15 L821.65,302.98 L822.15,301.93 L822.65,301.35 L823.15,301.22 L823.65,301.15 L824.15,300.73 L824.65,299.89 L825.15,298.89 L825.65,298.07 L826.15,297.47 L826.65,296.93" fill="none" stroke="#ff0000" stroke-width="2.1" stroke-linejoin="round"/>
<path d="M54.8,2.6 L397.2,2.6 M54.8,252.6 L397.2,252.6 M54.8,505.15 L397.2,505.15 M55.8,2.6 L55.8,505.15 M396.2,2.6 L396.2,505.15 M485.65,2.6 L828,2.6 M485.65,252.6 L828,252.6 M485.65,505.15 L828,505.15 M486.65,2.6 L486.65,505.15 M827,2.6 L827,505.15" fill="none" stroke="#000" stroke-width="2" stroke-linecap="butt"/>
<path d="M78.49,2.6 L78.49,7.6 M78.49,247.6 L78.49,257.6 M78.49,500.15 L78.49,505.15 M101.19,2.6 L101.19,7.6 M101.19,247.6 L101.19,257.6 M101.19,500.15 L101.19,505.15 M123.88,2.6 L123.88,7.6 M123.88,247.6 L123.88,257.6 M123.88,500.15 L123.88,505.15 M146.57,2.6 L146.57,7.6 M146.57,247.6 L146.57,257.6 M146.57,500.15 L146.57,505.15 M169.27,2.6 L169.27,12.1 M169.27,243.1 L169.27,262.1 M169.27,495.65 L169.27,505.15 M191.96,2.6 L191.96,7.6 M191.96,247.6 L191.96,257.6 M191.96,500.15 L191.96,505.15 M214.65,2.6 L214.65,7.6 M214.65,247.6 L214.65,257.6 M214.65,500.15 L214.65,505.15 M237.35,2.6 L237.35,7.6 M237.35,247.6 L237.35,257.6 M237.35,500.15 L237.35,505.15 M260.04,2.6 L260.04,7.6 M260.04,247.6 L260.04,257.6 M260.04,500.15 L260.04,505.15 M282.73,2.6 L282.73,12.1 M282.73,243.1 L282.73,262.1 M282.73,495.65 L282.73,505.15 M305.43,2.6 L305.43,7.6 M305.43,247.6 L305.43,257.6 M305.43,500.15 L305.43,505.15 M328.12,2.6 L328.12,7.6 M328.12,247.6 L328.12,257.6 M328.12,500.15 L328.12,505.15 M350.81,2.6 L350.81,7.6 M350.81,247.6 L350.81,257.6 M350.81,500.15 L350.81,505.15 M373.51,2.6 L373.51,7.6 M373.51,247.6 L373.51,257.6 M373.51,500.15 L373.51,505.15 M509.49,2.6 L509.49,7.6 M509.49,247.6 L509.49,257.6 M509.49,500.15 L509.49,505.15 M532.33,2.6 L532.33,7.6 M532.33,247.6 L532.33,257.6 M532.33,500.15 L532.33,505.15 M555.18,2.6 L555.18,7.6 M555.18,247.6 L555.18,257.6 M555.18,500.15 L555.18,505.15 M578.02,2.6 L578.02,7.6 M578.02,247.6 L578.02,257.6 M578.02,500.15 L578.02,505.15 M600.86,2.6 L600.86,12.1 M600.86,243.1 L600.86,262.1 M600.86,495.65 L600.86,505.15 M623.7,2.6 L623.7,7.6 M623.7,247.6 L623.7,257.6 M623.7,500.15 L623.7,505.15 M646.55,2.6 L646.55,7.6 M646.55,247.6 L646.55,257.6 M646.55,500.15 L646.55,505.15 M669.39,2.6 L669.39,7.6 M669.39,247.6 L669.39,257.6 M669.39,500.15 L669.39,505.15 M692.23,2.6 L692.23,7.6 M692.23,247.6 L692.23,257.6 M692.23,500.15 L692.23,505.15 M715.07,2.6 L715.07,12.1 M715.07,243.1 L715.07,262.1 M715.07,495.65 L715.07,505.15 M737.92,2.6 L737.92,7.6 M737.92,247.6 L737.92,257.6 M737.92,500.15 L737.92,505.15 M760.76,2.6 L760.76,7.6 M760.76,247.6 L760.76,257.6 M760.76,500.15 L760.76,505.15 M783.6,2.6 L783.6,7.6 M783.6,247.6 L783.6,257.6 M783.6,500.15 L783.6,505.15 M806.44,2.6 L806.44,7.6 M806.44,247.6 L806.44,257.6 M806.44,500.15 L806.44,505.15 M55.8,243.73 L60.8,243.73 M391.2,243.73 L396.2,243.73 M55.8,225.86 L60.8,225.86 M391.2,225.86 L396.2,225.86 M55.8,207.99 L60.8,207.99 M391.2,207.99 L396.2,207.99 M55.8,190.12 L60.8,190.12 M391.2,190.12 L396.2,190.12 M55.8,172.25 L65.3,172.25 M386.7,172.25 L396.2,172.25 M55.8,154.38 L60.8,154.38 M391.2,154.38 L396.2,154.38 M55.8,136.51 L60.8,136.51 M391.2,136.51 L396.2,136.51 M55.8,118.64 L60.8,118.64 M391.2,118.64 L396.2,118.64 M55.8,100.77 L60.8,100.77 M391.2,100.77 L396.2,100.77 M55.8,82.9 L65.3,82.9 M386.7,82.9 L396.2,82.9 M55.8,65.03 L60.8,65.03 M391.2,65.03 L396.2,65.03 M55.8,47.16 L60.8,47.16 M391.2,47.16 L396.2,47.16 M55.8,29.29 L60.8,29.29 M391.2,29.29 L396.2,29.29 M55.8,11.42 L60.8,11.42 M391.2,11.42 L396.2,11.42 M55.8,484.15 L60.8,484.15 M391.2,484.15 L396.2,484.15 M55.8,462.9 L65.3,462.9 M386.7,462.9 L396.2,462.9 M55.8,441.65 L60.8,441.65 M391.2,441.65 L396.2,441.65 M55.8,420.4 L60.8,420.4 M391.2,420.4 L396.2,420.4 M55.8,399.15 L60.8,399.15 M391.2,399.15 L396.2,399.15 M55.8,377.9 L60.8,377.9 M391.2,377.9 L396.2,377.9 M55.8,356.65 L65.3,356.65 M386.7,356.65 L396.2,356.65 M55.8,335.4 L60.8,335.4 M391.2,335.4 L396.2,335.4 M55.8,314.15 L60.8,314.15 M391.2,314.15 L396.2,314.15 M55.8,292.9 L60.8,292.9 M391.2,292.9 L396.2,292.9 M55.8,271.65 L60.8,271.65 M391.2,271.65 L396.2,271.65 M486.65,235.89 L491.65,235.89 M822,235.89 L827,235.89 M486.65,219.08 L491.65,219.08 M822,219.08 L827,219.08 M486.65,202.27 L491.65,202.27 M822,202.27 L827,202.27 M486.65,185.46 L491.65,185.46 M822,185.46 L827,185.46 M486.65,168.65 L496.15,168.65 M817.5,168.65 L827,168.65 M486.65,151.84 L491.65,151.84 M822,151.84 L827,151.84 M486.65,135.03 L491.65,135.03 M822,135.03 L827,135.03 M486.65,118.22 L491.65,118.22 M822,118.22 L827,118.22 M486.65,101.41 L491.65,101.41 M822,101.41 L827,101.41 M486.65,84.6 L496.15,84.6 M817.5,84.6 L827,84.6 M486.65,67.79 L491.65,67.79 M822,67.79 L827,67.79 M486.65,50.98 L491.65,50.98 M822,50.98 L827,50.98 M486.65,34.17 L491.65,34.17 M822,34.17 L827,34.17 M486.65,17.36 L491.65,17.36 M822,17.36 L827,17.36 M486.65,477.01 L491.65,477.01 M822,477.01 L827,477.01 M486.65,448.88 L496.15,448.88 M817.5,448.88 L827,448.88 M486.65,420.75 L491.65,420.75 M822,420.75 L827,420.75 M486.65,392.62 L496.15,392.62 M817.5,392.62 L827,392.62 M486.65,364.49 L491.65,364.49 M822,364.49 L827,364.49 M486.65,336.36 L496.15,336.36 M817.5,336.36 L827,336.36 M486.65,308.23 L491.65,308.23 M822,308.23 L827,308.23 M486.65,280.1 L496.15,280.1 M817.5,280.1 L827,280.1" fill="none" stroke="#000" stroke-width="1.7" stroke-linecap="butt"/>
<g style="opacity:0.999">
<text x="50.55" y="527.3" style="font-family:'Liberation Sans',sans-serif;font-size:18.6px;fill:#000;stroke:#000;stroke-width:0.3px" textLength="10.7" lengthAdjust="spacingAndGlyphs">0</text>
<text x="149.1" y="527.3" style="font-family:'Liberation Sans',sans-serif;font-size:18.6px;fill:#000;stroke:#000;stroke-width:0.3px" textLength="42.4" lengthAdjust="spacingAndGlyphs">1000</text>
<text x="261.75" y="527.3" style="font-family:'Liberation Sans',sans-serif;font-size:18.6px;fill:#000;stroke:#000;stroke-width:0.3px" textLength="43.1" lengthAdjust="spacingAndGlyphs">2000</text>
<text x="374.75" y="527.3" style="font-family:'Liberation Sans',sans-serif;font-size:18.6px;fill:#000;stroke:#000;stroke-width:0.3px" textLength="43.1" lengthAdjust="spacingAndGlyphs">3000</text>
<text x="481.45" y="527.3" style="font-family:'Liberation Sans',sans-serif;font-size:18.6px;fill:#000;stroke:#000;stroke-width:0.3px" textLength="10.7" lengthAdjust="spacingAndGlyphs">0</text>
<text x="590.15" y="527.3" style="font-family:'Liberation Sans',sans-serif;font-size:18.6px;fill:#000;stroke:#000;stroke-width:0.3px" textLength="21.1" lengthAdjust="spacingAndGlyphs">50</text>
<text x="699.65" y="527.3" style="font-family:'Liberation Sans',sans-serif;font-size:18.6px;fill:#000;stroke:#000;stroke-width:0.3px" textLength="31.7" lengthAdjust="spacingAndGlyphs">100</text>
<text transform="translate(44.2,113.25) rotate(-90)" style="font-family:'Liberation Sans',sans-serif;font-size:18.6px;fill:#000;stroke:#000;stroke-width:0.3px" textLength="60.3" lengthAdjust="spacingAndGlyphs">0.1553</text>
<text transform="translate(44.2,202.65) rotate(-90)" style="font-family:'Liberation Sans',sans-serif;font-size:18.6px;fill:#000;stroke:#000;stroke-width:0.3px" textLength="60.9" lengthAdjust="spacingAndGlyphs">0.1552</text>
<text transform="translate(44.2,381.85) rotate(-90)" style="font-family:'Liberation Sans',sans-serif;font-size:18.6px;fill:#000;stroke:#000;stroke-width:0.3px" textLength="50.5" lengthAdjust="spacingAndGlyphs">0.097</text>
<text transform="translate(44.2,493.65) rotate(-90)" style="font-family:'Liberation Sans',sans-serif;font-size:18.6px;fill:#000;stroke:#000;stroke-width:0.3px" textLength="61" lengthAdjust="spacingAndGlyphs">0.0965</text>
<text transform="translate(475.3,98.35) rotate(-90)" style="font-family:'Liberation Sans',sans-serif;font-size:18.6px;fill:#000;stroke:#000;stroke-width:0.3px" textLength="24.1" lengthAdjust="spacingAndGlyphs">0.1</text>
<text transform="translate(475.3,188.25) rotate(-90)" style="font-family:'Liberation Sans',sans-serif;font-size:18.6px;fill:#000;stroke:#000;stroke-width:0.3px" textLength="38.1" lengthAdjust="spacingAndGlyphs">0.05</text>
<text transform="translate(475.3,258.75) rotate(-90)" style="font-family:'Liberation Sans',sans-serif;font-size:18.6px;fill:#000;stroke:#000;stroke-width:0.3px" textLength="10.7" lengthAdjust="spacingAndGlyphs">0</text>
<text transform="translate(475.3,285.55) rotate(-90)" style="font-family:'Liberation Sans',sans-serif;font-size:18.6px;fill:#000;stroke:#000;stroke-width:0.3px" textLength="10.7" lengthAdjust="spacingAndGlyphs">8</text>
<text transform="translate(475.3,341.75) rotate(-90)" style="font-family:'Liberation Sans',sans-serif;font-size:18.6px;fill:#000;stroke:#000;stroke-width:0.3px" textLength="10.7" lengthAdjust="spacingAndGlyphs">6</text>
<text transform="translate(475.3,397.95) rotate(-90)" style="font-family:'Liberation Sans',sans-serif;font-size:18.6px;fill:#000;stroke:#000;stroke-width:0.3px" textLength="10.7" lengthAdjust="spacingAndGlyphs">4</text>
<text transform="translate(475.3,454.15) rotate(-90)" style="font-family:'Liberation Sans',sans-serif;font-size:18.6px;fill:#000;stroke:#000;stroke-width:0.3px" textLength="10.7" lengthAdjust="spacingAndGlyphs">2</text>
<text transform="translate(475.3,510.35) rotate(-90)" style="font-family:'Liberation Sans',sans-serif;font-size:18.6px;fill:#000;stroke:#000;stroke-width:0.3px" textLength="10.7" lengthAdjust="spacingAndGlyphs">0</text>
<text transform="translate(16.2,226.35) rotate(-90)" style="font-family:'Liberation Serif',serif;font-weight:bold;font-size:18.2px" textLength="102.4" lengthAdjust="spacingAndGlyphs">Semimajor</text>
<text transform="translate(16.2,116.15) rotate(-90)" style="font-family:'Liberation Serif',serif;font-weight:bold;font-size:18.2px" textLength="38.2" lengthAdjust="spacingAndGlyphs">Axis</text>
<text transform="translate(16.2,67.95) rotate(-90)" style="font-family:'Liberation Serif',serif;font-weight:bold;font-size:18.2px" textLength="39.2" lengthAdjust="spacingAndGlyphs">(AU)</text>
<text transform="translate(17.1,470.25) rotate(-90)" style="font-family:'Liberation Sans',sans-serif;font-size:18.6px;fill:#000;stroke:#000;stroke-width:0.3px" textLength="93.1" lengthAdjust="spacingAndGlyphs">Semimajor</text>
<text transform="translate(17.1,368.65) rotate(-90)" style="font-family:'Liberation Sans',sans-serif;font-size:18.6px;fill:#000;stroke:#000;stroke-width:0.3px" textLength="33.6" lengthAdjust="spacingAndGlyphs">Axis</text>
<text transform="translate(17.1,325.55) rotate(-90)" style="font-family:'Liberation Sans',sans-serif;font-size:18.6px;fill:#000;stroke:#000;stroke-width:0.3px" textLength="37" lengthAdjust="spacingAndGlyphs">(AU)</text>
<text transform="translate(447.8,185.85) rotate(-90)" style="font-family:'Liberation Serif',serif;font-weight:bold;font-size:18.2px" textLength="115.9" lengthAdjust="spacingAndGlyphs">Eccentricity</text>
<text transform="translate(448.3,459.85) rotate(-90)" style="font-family:'Liberation Serif',serif;font-weight:bold;font-size:18.2px" textLength="103.7" lengthAdjust="spacingAndGlyphs">Inclination</text>
<text transform="translate(448.3,347.95) rotate(-90)" style="font-family:'Liberation Serif',serif;font-weight:bold;font-size:18.2px" textLength="48.7" lengthAdjust="spacingAndGlyphs">(deg)</text>
<text x="174.35" y="562.8" style="font-family:'Liberation Serif',serif;font-weight:bold;font-size:18.2px" textLength="45.3" lengthAdjust="spacingAndGlyphs">Time</text>
<text x="229.75" y="562.8" style="font-family:'Liberation Serif',serif;font-weight:bold;font-size:18.2px" textLength="47.5" lengthAdjust="spacingAndGlyphs">(day)</text>
<text x="611.75" y="562.8" style="font-family:'Liberation Serif',serif;font-weight:bold;font-size:18.2px" textLength="45.5" lengthAdjust="spacingAndGlyphs">Time</text>
<text x="667.05" y="562.8" style="font-family:'Liberation Serif',serif;font-weight:bold;font-size:18.2px" textLength="34.5" lengthAdjust="spacingAndGlyphs">(yr)</text>
<text x="73.55" y="33.7" style="font-family:'Liberation Serif',serif;font-weight:bold;font-size:18.2px" textLength="25.5" lengthAdjust="spacingAndGlyphs">(a)</text>
<text x="504.45" y="33.7" style="font-family:'Liberation Serif',serif;font-weight:bold;font-size:18.2px" textLength="26.2" lengthAdjust="spacingAndGlyphs">(b)</text>
<text x="73.35" y="283.5" style="font-family:'Liberation Serif',serif;font-weight:bold;font-size:18.2px" textLength="25" lengthAdjust="spacingAndGlyphs">(c)</text>
<text x="504.45" y="283.3" style="font-family:'Liberation Serif',serif;font-weight:bold;font-size:18.2px" textLength="26.2" lengthAdjust="spacingAndGlyphs">(d)</text>
<text x="185.85" y="33.5" style="font-family:'Liberation Serif',serif;font-weight:bold;font-size:18.2px" textLength="60.6" lengthAdjust="spacingAndGlyphs" fill="#0000ff">Planet</text>
<text x="255.75" y="33.5" style="font-family:'Liberation Serif',serif;font-weight:bold;font-size:18.2px" textLength="10.5" lengthAdjust="spacingAndGlyphs" fill="#0000ff">c</text>
<text x="185.45" y="283.6" style="font-family:'Liberation Serif',serif;font-weight:bold;font-size:18.2px" textLength="59.7" lengthAdjust="spacingAndGlyphs" fill="#ff0000">Planet</text>
<text x="254.35" y="283.6" style="font-family:'Liberation Serif',serif;font-weight:bold;font-size:18.2px" textLength="12.3" lengthAdjust="spacingAndGlyphs" fill="#ff0000">b</text>
</g>
</svg>
</body></html>
